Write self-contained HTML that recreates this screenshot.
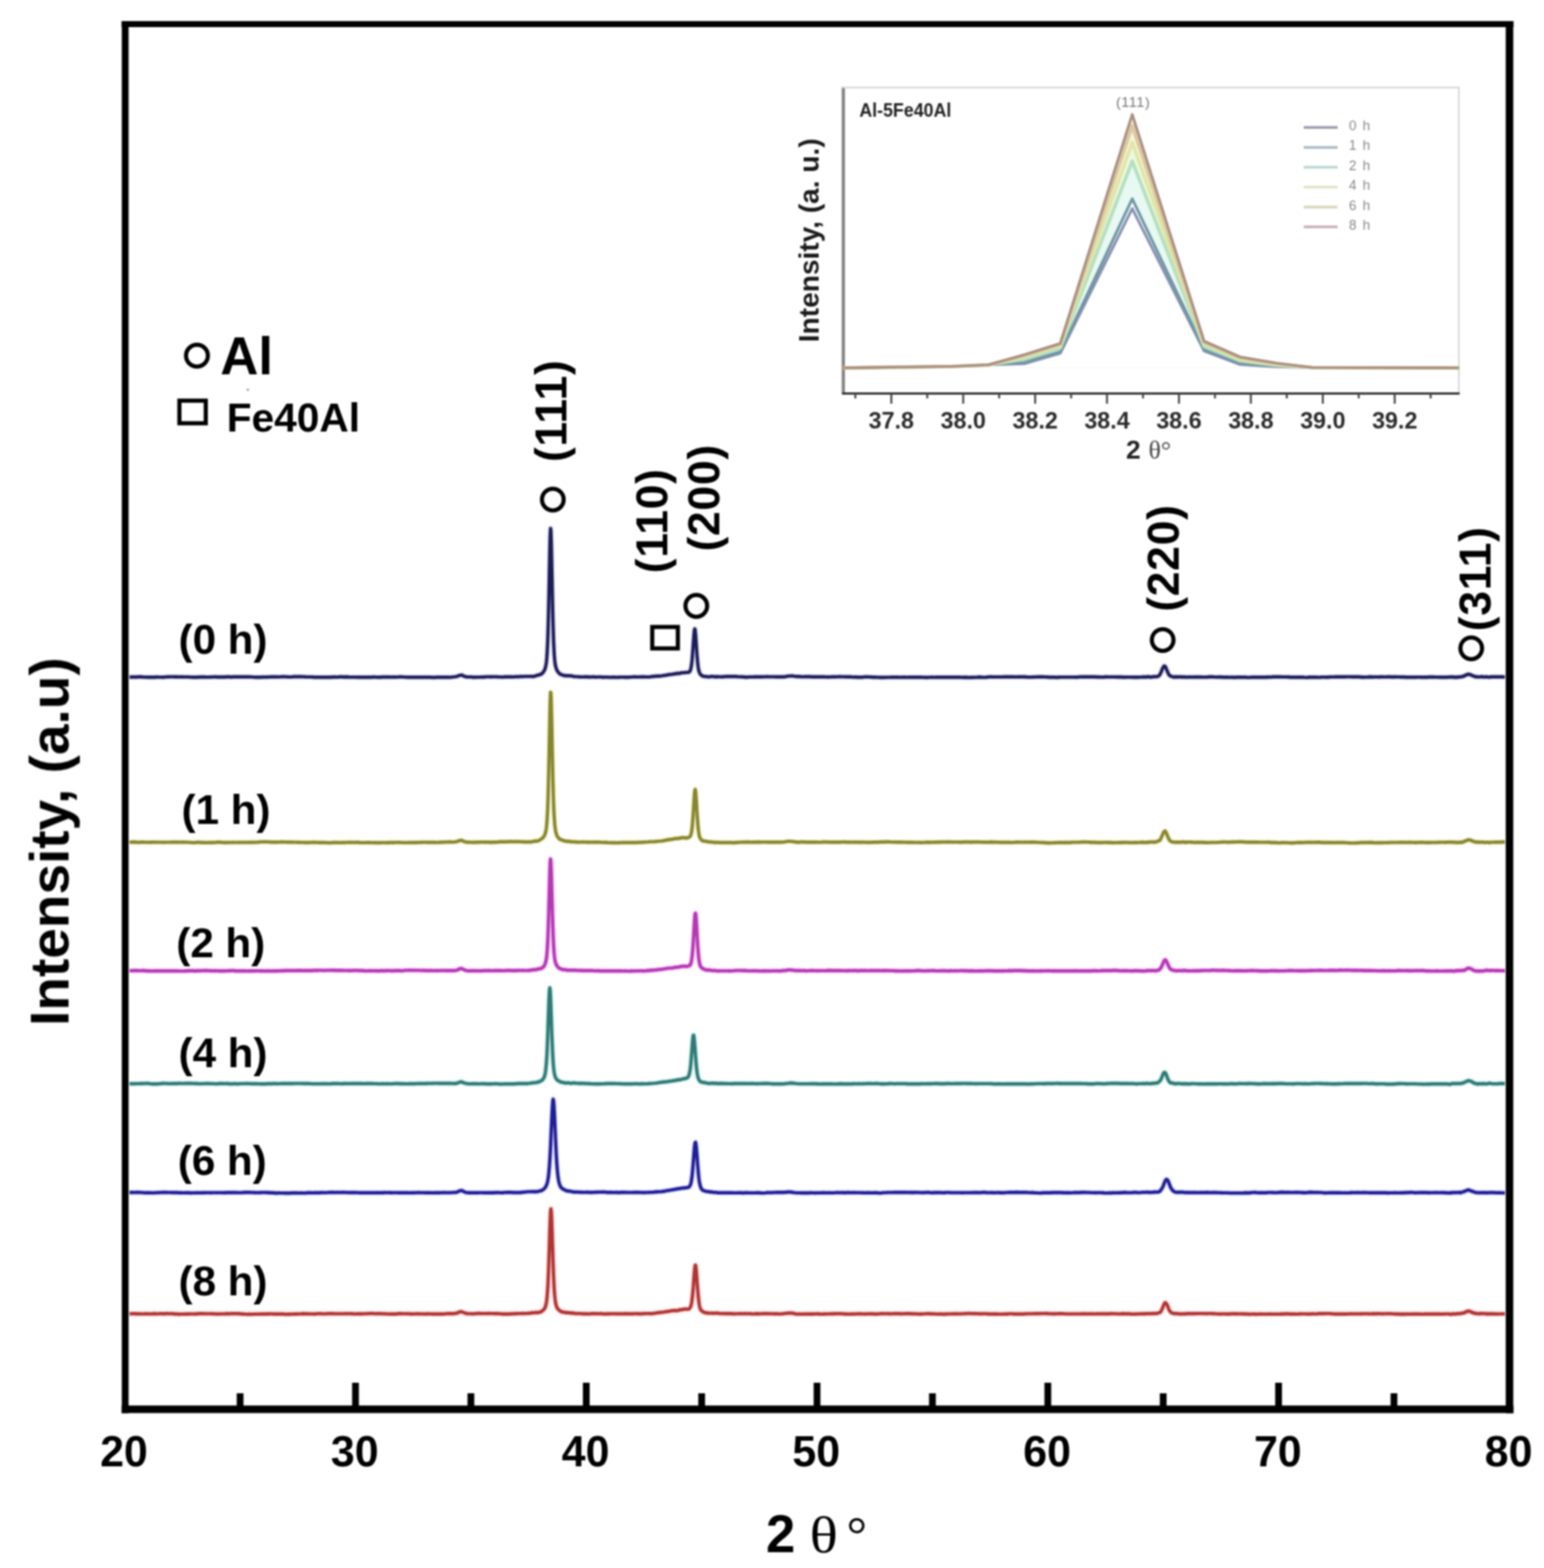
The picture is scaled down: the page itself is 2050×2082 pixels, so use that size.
<!DOCTYPE html><html><head><meta charset="utf-8"><title>XRD patterns</title><style>html,body{margin:0;padding:0;background:#fff;}body{width:2050px;height:2082px;overflow:hidden;}svg{display:block;}.b{font-family:"Liberation Sans",Arial,sans-serif;font-weight:bold;fill:#000;}.r{font-family:"Liberation Sans",Arial,sans-serif;}.s{font-family:"Liberation Serif","Times New Roman",serif;}</style></head><body>
<svg width="2050" height="2082" viewBox="0 0 2050 2082">
<defs><filter id="soft" x="0" y="0" width="2050" height="2082" filterUnits="userSpaceOnUse" color-interpolation-filters="sRGB"><feGaussianBlur stdDeviation="0.8"/></filter></defs>
<rect x="0" y="0" width="2050" height="2082" fill="#fff"/>
<g filter="url(#soft)">
<path d="M172.0 899.0 L175.0 899.0 L178.0 899.0 L181.0 899.0 L184.0 898.8 L187.0 898.8 L190.0 899.0 L193.0 899.1 L196.0 899.2 L199.0 899.2 L202.0 899.2 L205.0 899.2 L208.0 899.0 L211.0 899.1 L214.0 899.1 L217.0 899.2 L220.0 898.9 L223.0 898.7 L226.0 898.6 L229.0 898.6 L232.0 898.7 L235.0 898.8 L238.0 898.9 L241.0 898.8 L244.0 898.9 L247.0 898.9 L250.0 898.9 L253.0 899.1 L256.0 899.2 L259.0 899.3 L262.0 899.2 L265.0 899.0 L268.0 899.0 L271.0 899.0 L274.0 899.1 L277.0 899.1 L280.0 899.0 L283.0 898.9 L286.0 898.8 L289.0 899.0 L292.0 898.9 L295.0 899.0 L298.0 899.0 L301.0 898.8 L304.0 898.8 L307.0 899.0 L310.0 898.8 L313.0 898.8 L316.0 898.8 L319.0 898.7 L322.0 898.8 L325.0 898.8 L328.0 898.7 L331.0 898.8 L334.0 898.9 L337.0 899.1 L340.0 899.3 L343.0 899.3 L346.0 899.2 L349.0 899.0 L352.0 899.1 L355.0 899.0 L358.0 898.9 L361.0 898.8 L364.0 898.7 L367.0 898.7 L370.0 898.9 L373.0 898.6 L376.0 898.5 L379.0 898.6 L382.0 898.8 L385.0 898.9 L388.0 898.7 L391.0 898.4 L394.0 898.5 L397.0 898.5 L400.0 898.4 L403.0 898.6 L406.0 898.8 L409.0 898.9 L412.0 898.9 L415.0 899.0 L418.0 899.2 L421.0 899.3 L424.0 899.3 L427.0 899.3 L430.0 899.1 L433.0 899.2 L436.0 899.3 L439.0 899.3 L442.0 899.0 L445.0 898.9 L448.0 899.1 L451.0 898.8 L454.0 898.8 L457.0 899.0 L460.0 898.8 L463.0 899.0 L466.0 899.1 L469.0 899.1 L472.0 899.1 L475.0 899.2 L478.0 899.2 L481.0 899.3 L484.0 899.2 L487.0 899.1 L490.0 899.2 L493.0 899.2 L496.0 899.0 L499.0 899.1 L502.0 899.3 L505.0 899.2 L508.0 899.0 L511.0 899.0 L514.0 899.0 L517.0 898.9 L520.0 899.1 L523.0 899.0 L526.0 899.1 L529.0 898.9 L532.0 898.8 L535.0 898.9 L538.0 899.1 L541.0 899.2 L544.0 899.2 L547.0 899.2 L550.0 899.2 L553.0 899.2 L556.0 899.2 L559.0 899.2 L562.0 899.2 L565.0 899.2 L568.0 899.2 L571.0 899.3 L574.0 899.5 L577.0 899.5 L580.0 899.3 L583.0 899.2 L586.0 899.2 L589.0 899.3 L592.0 899.2 L595.0 899.2 L598.0 899.4 L601.0 898.9 L604.0 898.6 L607.0 898.1 L610.0 896.8 L613.0 896.3 L616.0 897.8 L619.0 898.7 L622.0 898.9 L625.0 898.9 L628.0 899.2 L631.0 899.2 L634.0 899.1 L637.0 899.1 L640.0 899.0 L643.0 899.0 L646.0 898.6 L649.0 898.6 L652.0 898.7 L655.0 898.6 L658.0 898.6 L661.0 898.8 L664.0 898.9 L667.0 899.1 L670.0 898.8 L673.0 898.7 L676.0 898.7 L679.0 898.7 L682.0 898.9 L685.0 898.4 L688.0 898.6 L691.0 898.3 L694.0 898.4 L697.0 898.1 L700.0 898.1 L703.0 898.1 L703.5 898.1 L704.0 898.1 L704.5 898.1 L705.0 898.1 L705.5 898.0 L706.0 898.2 L706.5 898.3 L707.0 898.1 L707.5 898.4 L708.0 898.1 L708.5 898.1 L709.0 897.9 L709.5 897.9 L710.0 897.8 L710.5 897.7 L711.0 897.7 L711.5 897.4 L712.0 897.0 L712.5 897.0 L713.0 896.8 L713.5 896.6 L714.0 896.3 L714.5 896.4 L715.0 896.4 L715.5 896.4 L716.0 896.1 L716.5 895.9 L717.0 895.5 L717.5 895.4 L718.0 895.4 L718.5 894.9 L719.0 894.8 L719.5 894.5 L720.0 894.0 L720.5 893.2 L721.0 892.9 L721.5 892.2 L722.0 891.4 L722.5 890.6 L723.0 889.6 L723.5 888.5 L724.0 886.8 L724.5 884.9 L725.0 882.4 L725.5 878.7 L726.0 873.4 L726.5 866.0 L727.0 856.1 L727.5 842.9 L728.0 825.9 L728.5 805.3 L729.0 781.2 L729.5 755.0 L730.0 730.2 L730.5 710.6 L731.0 701.6 L731.5 705.7 L732.0 721.4 L732.5 744.7 L733.0 770.6 L733.5 795.6 L734.0 817.9 L734.5 836.4 L735.0 851.2 L735.5 862.5 L736.0 870.9 L736.5 876.7 L737.0 881.0 L737.5 883.8 L738.0 885.9 L738.5 887.4 L739.0 888.9 L739.5 889.9 L740.0 890.8 L740.5 891.6 L741.0 892.3 L741.5 892.8 L742.0 893.4 L742.5 894.1 L743.0 894.5 L743.5 894.9 L744.0 895.3 L744.5 895.5 L745.0 895.6 L745.5 895.7 L746.0 896.1 L746.5 896.0 L747.0 896.2 L747.5 896.5 L748.0 896.7 L748.5 896.9 L749.0 897.1 L749.5 897.2 L750.0 897.1 L750.5 897.0 L751.0 897.0 L751.5 897.3 L752.0 897.3 L752.5 897.3 L753.0 897.3 L753.5 897.2 L754.0 897.3 L754.5 897.2 L755.0 897.4 L755.5 897.2 L756.0 897.4 L756.5 897.4 L757.0 897.3 L757.5 897.5 L758.0 897.6 L758.5 897.4 L759.0 897.4 L759.5 897.6 L760.0 897.6 L760.5 897.9 L761.0 898.0 L761.5 898.2 L764.5 898.4 L767.5 898.6 L770.5 898.8 L773.5 898.9 L776.5 898.6 L779.5 898.8 L782.5 899.0 L785.5 898.9 L788.5 898.8 L791.5 899.1 L794.5 898.9 L797.5 898.9 L800.5 899.2 L803.5 899.1 L806.5 899.1 L809.5 899.4 L812.5 899.3 L815.5 899.3 L818.5 899.4 L821.5 899.2 L824.5 899.1 L827.5 899.1 L830.5 899.2 L833.5 899.2 L836.5 899.1 L839.5 898.9 L842.5 898.8 L845.5 898.9 L848.5 898.9 L851.5 898.7 L854.5 898.6 L857.5 898.9 L860.5 898.9 L863.5 898.7 L866.5 898.2 L869.5 898.0 L872.5 897.8 L875.5 897.7 L878.5 897.4 L881.5 896.9 L884.5 896.5 L887.5 895.8 L890.5 895.5 L893.5 895.1 L894.0 894.9 L894.5 895.0 L895.0 895.1 L895.5 894.8 L896.0 894.6 L896.5 894.6 L897.0 894.5 L897.5 894.4 L898.0 894.2 L898.5 894.4 L899.0 894.5 L899.5 894.2 L900.0 893.9 L900.5 894.1 L901.0 894.2 L901.5 894.3 L902.0 894.3 L902.5 894.1 L903.0 894.0 L903.5 893.6 L904.0 893.4 L904.5 893.4 L905.0 893.4 L905.5 893.3 L906.0 893.2 L906.5 893.2 L907.0 893.2 L907.5 893.3 L908.0 893.2 L908.5 893.1 L909.0 893.1 L909.5 893.1 L910.0 892.9 L910.5 892.8 L911.0 892.9 L911.5 892.8 L912.0 892.9 L912.5 892.9 L913.0 892.9 L913.5 892.8 L914.0 892.5 L914.5 892.4 L915.0 892.3 L915.5 891.9 L916.0 891.2 L916.5 890.3 L917.0 888.7 L917.5 886.4 L918.0 883.6 L918.5 879.8 L919.0 875.2 L919.5 869.3 L920.0 862.4 L920.5 855.0 L921.0 848.0 L921.5 841.4 L922.0 836.7 L922.5 835.0 L923.0 836.9 L923.5 841.8 L924.0 848.6 L924.5 856.3 L925.0 863.9 L925.5 870.7 L926.0 876.7 L926.5 881.9 L927.0 885.8 L927.5 888.9 L928.0 890.9 L928.5 892.5 L929.0 893.8 L929.5 894.6 L930.0 895.4 L930.5 895.9 L931.0 896.4 L931.5 896.6 L932.0 897.2 L932.5 897.5 L933.0 897.5 L933.5 897.6 L934.0 898.0 L934.5 898.0 L935.0 898.2 L935.5 898.3 L936.0 898.3 L936.5 898.1 L937.0 898.2 L937.5 898.3 L938.0 898.4 L938.5 898.5 L939.0 898.5 L939.5 898.6 L940.0 898.7 L940.5 898.7 L941.0 898.7 L941.5 898.6 L942.0 898.7 L942.5 898.5 L943.0 898.5 L943.5 898.5 L944.0 898.3 L944.5 898.3 L945.0 898.1 L945.5 898.1 L946.0 898.2 L946.5 898.4 L947.0 898.4 L947.5 898.4 L948.0 898.3 L948.5 898.6 L949.0 898.7 L949.5 898.8 L950.0 898.7 L950.5 898.7 L951.0 898.4 L951.5 898.6 L952.0 898.8 L952.5 898.5 L955.5 898.6 L958.5 898.7 L961.5 898.5 L964.5 898.3 L967.5 898.3 L970.5 898.3 L973.5 898.2 L976.5 898.3 L979.5 898.5 L982.5 898.6 L985.5 898.8 L988.5 899.0 L991.5 899.2 L994.5 898.9 L997.5 898.9 L1000.5 898.8 L1003.5 898.6 L1006.5 898.7 L1009.5 898.7 L1012.5 898.8 L1015.5 898.6 L1018.5 898.5 L1021.5 898.6 L1024.5 898.6 L1027.5 898.6 L1030.5 898.7 L1033.5 898.6 L1036.5 898.8 L1039.5 898.7 L1042.5 898.5 L1045.5 897.9 L1048.5 897.6 L1051.5 897.4 L1054.5 897.9 L1057.5 898.3 L1060.5 898.3 L1063.5 898.5 L1066.5 898.6 L1069.5 898.5 L1072.5 898.5 L1075.5 898.5 L1078.5 898.7 L1081.5 898.8 L1084.5 898.8 L1087.5 898.7 L1090.5 898.7 L1093.5 898.8 L1096.5 898.9 L1099.5 899.0 L1102.5 898.9 L1105.5 898.7 L1108.5 898.7 L1111.5 898.6 L1114.5 898.5 L1117.5 898.6 L1120.5 898.6 L1123.5 898.7 L1126.5 898.8 L1129.5 898.8 L1132.5 899.1 L1135.5 899.0 L1138.5 899.2 L1141.5 899.2 L1144.5 899.3 L1147.5 898.9 L1150.5 898.8 L1153.5 898.9 L1156.5 899.0 L1159.5 899.3 L1162.5 899.3 L1165.5 899.4 L1168.5 899.5 L1171.5 899.5 L1174.5 899.5 L1177.5 899.4 L1180.5 899.4 L1183.5 899.2 L1186.5 899.3 L1189.5 899.1 L1192.5 899.2 L1195.5 899.4 L1198.5 899.3 L1201.5 899.3 L1204.5 899.4 L1207.5 899.3 L1210.5 899.2 L1213.5 899.2 L1216.5 899.2 L1219.5 899.3 L1222.5 899.1 L1225.5 899.4 L1228.5 899.5 L1231.5 899.5 L1234.5 899.4 L1237.5 899.3 L1240.5 899.4 L1243.5 899.3 L1246.5 899.3 L1249.5 899.2 L1252.5 899.1 L1255.5 899.2 L1258.5 899.3 L1261.5 899.3 L1264.5 899.1 L1267.5 899.2 L1270.5 899.2 L1273.5 899.2 L1276.5 899.4 L1279.5 899.5 L1282.5 899.3 L1285.5 899.6 L1288.5 899.5 L1291.5 899.5 L1294.5 899.4 L1297.5 899.3 L1300.5 899.0 L1303.5 899.3 L1306.5 899.4 L1309.5 899.2 L1312.5 898.9 L1315.5 898.7 L1318.5 898.9 L1321.5 898.9 L1324.5 898.9 L1327.5 898.9 L1330.5 898.9 L1333.5 898.7 L1336.5 898.8 L1339.5 898.6 L1342.5 898.7 L1345.5 898.8 L1348.5 898.9 L1351.5 898.8 L1354.5 898.7 L1357.5 898.8 L1360.5 898.8 L1363.5 899.0 L1366.5 899.1 L1369.5 899.1 L1372.5 899.0 L1375.5 898.9 L1378.5 898.8 L1381.5 898.8 L1384.5 898.8 L1387.5 898.9 L1390.5 899.0 L1393.5 899.3 L1396.5 899.2 L1399.5 899.1 L1402.5 899.5 L1405.5 899.2 L1408.5 899.1 L1411.5 899.1 L1414.5 899.1 L1417.5 899.1 L1420.5 899.1 L1423.5 899.1 L1426.5 899.1 L1429.5 899.2 L1432.5 898.9 L1435.5 898.8 L1438.5 898.8 L1441.5 898.7 L1444.5 898.6 L1447.5 898.8 L1450.5 898.7 L1453.5 898.8 L1456.5 899.0 L1459.5 899.0 L1462.5 899.1 L1465.5 899.0 L1468.5 898.8 L1471.5 898.9 L1474.5 898.9 L1477.5 898.9 L1480.5 898.9 L1483.5 899.0 L1486.5 898.9 L1489.5 899.0 L1492.5 899.2 L1495.5 899.1 L1498.5 899.1 L1501.5 899.1 L1504.5 899.2 L1507.5 899.2 L1510.5 899.3 L1513.5 899.1 L1516.5 899.1 L1517.0 899.1 L1517.5 898.8 L1518.0 899.0 L1518.5 899.1 L1519.0 898.8 L1519.5 899.0 L1520.0 898.9 L1520.5 899.0 L1521.0 899.0 L1521.5 898.8 L1522.0 898.8 L1522.5 899.0 L1523.0 898.9 L1523.5 898.7 L1524.0 898.6 L1524.5 898.4 L1525.0 898.5 L1525.5 898.8 L1526.0 898.9 L1526.5 898.9 L1527.0 899.2 L1527.5 899.0 L1528.0 898.9 L1528.5 898.9 L1529.0 899.0 L1529.5 898.8 L1530.0 898.6 L1530.5 898.7 L1531.0 898.7 L1531.5 898.5 L1532.0 898.5 L1532.5 898.4 L1533.0 898.5 L1533.5 898.4 L1534.0 898.4 L1534.5 898.3 L1535.0 898.4 L1535.5 898.6 L1536.0 898.4 L1536.5 898.4 L1537.0 898.1 L1537.5 897.8 L1538.0 897.7 L1538.5 897.5 L1539.0 897.0 L1539.5 896.4 L1540.0 895.7 L1540.5 894.7 L1541.0 893.8 L1541.5 892.7 L1542.0 891.7 L1542.5 890.4 L1543.0 888.9 L1543.5 887.8 L1544.0 886.7 L1544.5 885.7 L1545.0 885.0 L1545.5 884.5 L1546.0 884.3 L1546.5 884.6 L1547.0 884.9 L1547.5 885.6 L1548.0 886.7 L1548.5 888.0 L1549.0 889.2 L1549.5 890.5 L1550.0 891.6 L1550.5 892.8 L1551.0 894.0 L1551.5 894.8 L1552.0 895.9 L1552.5 896.4 L1553.0 896.9 L1553.5 897.3 L1554.0 897.8 L1554.5 897.8 L1555.0 897.8 L1555.5 898.0 L1556.0 898.3 L1556.5 898.5 L1557.0 898.9 L1557.5 898.9 L1558.0 898.9 L1558.5 899.0 L1559.0 899.0 L1559.5 899.2 L1560.0 899.0 L1560.5 898.9 L1561.0 898.4 L1561.5 898.6 L1562.0 898.6 L1562.5 898.8 L1563.0 899.1 L1563.5 899.0 L1564.0 899.0 L1564.5 898.9 L1565.0 898.8 L1565.5 898.7 L1566.0 898.8 L1566.5 898.8 L1567.0 898.8 L1567.5 898.8 L1568.0 899.0 L1568.5 899.0 L1569.0 899.0 L1569.5 899.1 L1570.0 899.0 L1570.5 898.8 L1571.0 899.1 L1571.5 899.1 L1572.0 898.9 L1572.5 899.1 L1573.0 899.1 L1573.5 898.9 L1574.0 899.1 L1574.5 899.1 L1575.0 899.2 L1575.5 899.2 L1576.0 899.1 L1579.0 898.9 L1582.0 899.1 L1585.0 899.0 L1588.0 899.0 L1591.0 899.0 L1594.0 899.0 L1597.0 899.1 L1600.0 899.1 L1603.0 899.0 L1606.0 898.7 L1609.0 898.7 L1612.0 898.9 L1615.0 899.1 L1618.0 899.0 L1621.0 899.0 L1624.0 899.2 L1627.0 899.1 L1630.0 899.2 L1633.0 899.4 L1636.0 899.3 L1639.0 899.5 L1642.0 899.3 L1645.0 899.3 L1648.0 899.2 L1651.0 899.2 L1654.0 899.3 L1657.0 899.6 L1660.0 899.4 L1663.0 899.3 L1666.0 899.3 L1669.0 899.1 L1672.0 899.2 L1675.0 899.2 L1678.0 899.1 L1681.0 899.2 L1684.0 899.0 L1687.0 899.1 L1690.0 898.8 L1693.0 898.8 L1696.0 898.7 L1699.0 898.7 L1702.0 898.9 L1705.0 898.9 L1708.0 898.9 L1711.0 899.0 L1714.0 899.2 L1717.0 899.2 L1720.0 899.2 L1723.0 899.3 L1726.0 899.3 L1729.0 899.1 L1732.0 899.4 L1735.0 899.6 L1738.0 899.3 L1741.0 899.2 L1744.0 899.3 L1747.0 899.3 L1750.0 899.4 L1753.0 899.3 L1756.0 899.1 L1759.0 899.1 L1762.0 899.2 L1765.0 899.0 L1768.0 898.9 L1771.0 898.9 L1774.0 898.7 L1777.0 898.7 L1780.0 898.7 L1783.0 898.8 L1786.0 898.7 L1789.0 898.6 L1792.0 898.6 L1795.0 898.7 L1798.0 898.6 L1801.0 898.7 L1804.0 898.8 L1807.0 899.0 L1810.0 899.3 L1813.0 899.1 L1816.0 899.0 L1819.0 898.7 L1822.0 899.0 L1825.0 898.9 L1828.0 898.9 L1831.0 899.0 L1834.0 898.8 L1837.0 898.9 L1840.0 898.9 L1843.0 898.7 L1846.0 898.8 L1849.0 899.0 L1852.0 898.7 L1855.0 898.9 L1858.0 898.9 L1861.0 899.0 L1864.0 899.0 L1867.0 899.2 L1870.0 899.2 L1873.0 899.2 L1876.0 899.2 L1879.0 899.2 L1882.0 899.1 L1885.0 899.1 L1888.0 899.3 L1891.0 899.3 L1894.0 899.2 L1897.0 899.0 L1900.0 898.9 L1903.0 899.0 L1906.0 899.1 L1909.0 899.1 L1912.0 899.2 L1915.0 899.1 L1918.0 899.3 L1921.0 899.2 L1921.5 899.1 L1922.0 899.2 L1922.5 899.2 L1923.0 899.1 L1923.5 899.0 L1924.0 899.0 L1924.5 899.0 L1925.0 899.1 L1925.5 898.9 L1926.0 899.0 L1926.5 899.0 L1927.0 898.8 L1927.5 899.0 L1928.0 898.9 L1928.5 898.9 L1929.0 899.0 L1929.5 899.2 L1930.0 899.0 L1930.5 899.1 L1931.0 898.9 L1931.5 899.3 L1932.0 899.1 L1932.5 899.3 L1933.0 899.1 L1933.5 899.2 L1934.0 899.5 L1934.5 899.0 L1935.0 899.0 L1935.5 899.0 L1936.0 899.0 L1936.5 898.9 L1937.0 899.1 L1937.5 899.1 L1938.0 898.8 L1938.5 898.9 L1939.0 898.6 L1939.5 898.7 L1940.0 898.6 L1940.5 898.6 L1941.0 898.6 L1941.5 898.5 L1942.0 898.2 L1942.5 897.8 L1943.0 897.9 L1943.5 897.8 L1944.0 897.5 L1944.5 897.4 L1945.0 897.2 L1945.5 897.0 L1946.0 896.4 L1946.5 896.2 L1947.0 896.0 L1947.5 895.9 L1948.0 895.8 L1948.5 895.3 L1949.0 895.2 L1949.5 895.2 L1950.0 895.5 L1950.5 895.4 L1951.0 895.4 L1951.5 895.5 L1952.0 895.8 L1952.5 895.9 L1953.0 896.3 L1953.5 896.4 L1954.0 896.7 L1954.5 896.9 L1955.0 897.1 L1955.5 897.3 L1956.0 897.3 L1956.5 897.7 L1957.0 897.9 L1957.5 898.0 L1958.0 898.2 L1958.5 898.5 L1959.0 898.4 L1959.5 898.5 L1960.0 898.7 L1960.5 898.8 L1961.0 898.8 L1961.5 898.5 L1962.0 898.8 L1962.5 898.9 L1963.0 898.9 L1963.5 898.9 L1964.0 898.9 L1964.5 898.9 L1965.0 898.7 L1965.5 898.7 L1966.0 898.6 L1966.5 898.6 L1967.0 898.5 L1967.5 898.7 L1968.0 898.5 L1968.5 898.7 L1969.0 898.6 L1969.5 898.7 L1970.0 898.9 L1970.5 899.0 L1971.0 898.9 L1971.5 898.9 L1972.0 898.9 L1972.5 898.7 L1973.0 898.6 L1973.5 898.7 L1974.0 898.7 L1974.5 898.7 L1975.0 898.9 L1975.5 899.0 L1976.0 899.1 L1976.5 899.2 L1977.0 899.1 L1977.5 899.1 L1978.0 899.0 L1978.5 899.0 L1979.0 899.0 L1979.5 898.7 L1980.0 898.7 L1983.0 898.8 L1986.0 898.7 L1989.0 898.7 L1992.0 898.8 L1995.0 898.8 L1998.0 899.1" fill="none" stroke="#e4e4f2" stroke-width="7.9" stroke-linejoin="round"/>
<path d="M172.0 899.0 L175.0 899.0 L178.0 899.0 L181.0 899.0 L184.0 898.8 L187.0 898.8 L190.0 899.0 L193.0 899.1 L196.0 899.2 L199.0 899.2 L202.0 899.2 L205.0 899.2 L208.0 899.0 L211.0 899.1 L214.0 899.1 L217.0 899.2 L220.0 898.9 L223.0 898.7 L226.0 898.6 L229.0 898.6 L232.0 898.7 L235.0 898.8 L238.0 898.9 L241.0 898.8 L244.0 898.9 L247.0 898.9 L250.0 898.9 L253.0 899.1 L256.0 899.2 L259.0 899.3 L262.0 899.2 L265.0 899.0 L268.0 899.0 L271.0 899.0 L274.0 899.1 L277.0 899.1 L280.0 899.0 L283.0 898.9 L286.0 898.8 L289.0 899.0 L292.0 898.9 L295.0 899.0 L298.0 899.0 L301.0 898.8 L304.0 898.8 L307.0 899.0 L310.0 898.8 L313.0 898.8 L316.0 898.8 L319.0 898.7 L322.0 898.8 L325.0 898.8 L328.0 898.7 L331.0 898.8 L334.0 898.9 L337.0 899.1 L340.0 899.3 L343.0 899.3 L346.0 899.2 L349.0 899.0 L352.0 899.1 L355.0 899.0 L358.0 898.9 L361.0 898.8 L364.0 898.7 L367.0 898.7 L370.0 898.9 L373.0 898.6 L376.0 898.5 L379.0 898.6 L382.0 898.8 L385.0 898.9 L388.0 898.7 L391.0 898.4 L394.0 898.5 L397.0 898.5 L400.0 898.4 L403.0 898.6 L406.0 898.8 L409.0 898.9 L412.0 898.9 L415.0 899.0 L418.0 899.2 L421.0 899.3 L424.0 899.3 L427.0 899.3 L430.0 899.1 L433.0 899.2 L436.0 899.3 L439.0 899.3 L442.0 899.0 L445.0 898.9 L448.0 899.1 L451.0 898.8 L454.0 898.8 L457.0 899.0 L460.0 898.8 L463.0 899.0 L466.0 899.1 L469.0 899.1 L472.0 899.1 L475.0 899.2 L478.0 899.2 L481.0 899.3 L484.0 899.2 L487.0 899.1 L490.0 899.2 L493.0 899.2 L496.0 899.0 L499.0 899.1 L502.0 899.3 L505.0 899.2 L508.0 899.0 L511.0 899.0 L514.0 899.0 L517.0 898.9 L520.0 899.1 L523.0 899.0 L526.0 899.1 L529.0 898.9 L532.0 898.8 L535.0 898.9 L538.0 899.1 L541.0 899.2 L544.0 899.2 L547.0 899.2 L550.0 899.2 L553.0 899.2 L556.0 899.2 L559.0 899.2 L562.0 899.2 L565.0 899.2 L568.0 899.2 L571.0 899.3 L574.0 899.5 L577.0 899.5 L580.0 899.3 L583.0 899.2 L586.0 899.2 L589.0 899.3 L592.0 899.2 L595.0 899.2 L598.0 899.4 L601.0 898.9 L604.0 898.6 L607.0 898.1 L610.0 896.8 L613.0 896.3 L616.0 897.8 L619.0 898.7 L622.0 898.9 L625.0 898.9 L628.0 899.2 L631.0 899.2 L634.0 899.1 L637.0 899.1 L640.0 899.0 L643.0 899.0 L646.0 898.6 L649.0 898.6 L652.0 898.7 L655.0 898.6 L658.0 898.6 L661.0 898.8 L664.0 898.9 L667.0 899.1 L670.0 898.8 L673.0 898.7 L676.0 898.7 L679.0 898.7 L682.0 898.9 L685.0 898.4 L688.0 898.6 L691.0 898.3 L694.0 898.4 L697.0 898.1 L700.0 898.1 L703.0 898.1 L703.5 898.1 L704.0 898.1 L704.5 898.1 L705.0 898.1 L705.5 898.0 L706.0 898.2 L706.5 898.3 L707.0 898.1 L707.5 898.4 L708.0 898.1 L708.5 898.1 L709.0 897.9 L709.5 897.9 L710.0 897.8 L710.5 897.7 L711.0 897.7 L711.5 897.4 L712.0 897.0 L712.5 897.0 L713.0 896.8 L713.5 896.6 L714.0 896.3 L714.5 896.4 L715.0 896.4 L715.5 896.4 L716.0 896.1 L716.5 895.9 L717.0 895.5 L717.5 895.4 L718.0 895.4 L718.5 894.9 L719.0 894.8 L719.5 894.5 L720.0 894.0 L720.5 893.2 L721.0 892.9 L721.5 892.2 L722.0 891.4 L722.5 890.6 L723.0 889.6 L723.5 888.5 L724.0 886.8 L724.5 884.9 L725.0 882.4 L725.5 878.7 L726.0 873.4 L726.5 866.0 L727.0 856.1 L727.5 842.9 L728.0 825.9 L728.5 805.3 L729.0 781.2 L729.5 755.0 L730.0 730.2 L730.5 710.6 L731.0 701.6 L731.5 705.7 L732.0 721.4 L732.5 744.7 L733.0 770.6 L733.5 795.6 L734.0 817.9 L734.5 836.4 L735.0 851.2 L735.5 862.5 L736.0 870.9 L736.5 876.7 L737.0 881.0 L737.5 883.8 L738.0 885.9 L738.5 887.4 L739.0 888.9 L739.5 889.9 L740.0 890.8 L740.5 891.6 L741.0 892.3 L741.5 892.8 L742.0 893.4 L742.5 894.1 L743.0 894.5 L743.5 894.9 L744.0 895.3 L744.5 895.5 L745.0 895.6 L745.5 895.7 L746.0 896.1 L746.5 896.0 L747.0 896.2 L747.5 896.5 L748.0 896.7 L748.5 896.9 L749.0 897.1 L749.5 897.2 L750.0 897.1 L750.5 897.0 L751.0 897.0 L751.5 897.3 L752.0 897.3 L752.5 897.3 L753.0 897.3 L753.5 897.2 L754.0 897.3 L754.5 897.2 L755.0 897.4 L755.5 897.2 L756.0 897.4 L756.5 897.4 L757.0 897.3 L757.5 897.5 L758.0 897.6 L758.5 897.4 L759.0 897.4 L759.5 897.6 L760.0 897.6 L760.5 897.9 L761.0 898.0 L761.5 898.2 L764.5 898.4 L767.5 898.6 L770.5 898.8 L773.5 898.9 L776.5 898.6 L779.5 898.8 L782.5 899.0 L785.5 898.9 L788.5 898.8 L791.5 899.1 L794.5 898.9 L797.5 898.9 L800.5 899.2 L803.5 899.1 L806.5 899.1 L809.5 899.4 L812.5 899.3 L815.5 899.3 L818.5 899.4 L821.5 899.2 L824.5 899.1 L827.5 899.1 L830.5 899.2 L833.5 899.2 L836.5 899.1 L839.5 898.9 L842.5 898.8 L845.5 898.9 L848.5 898.9 L851.5 898.7 L854.5 898.6 L857.5 898.9 L860.5 898.9 L863.5 898.7 L866.5 898.2 L869.5 898.0 L872.5 897.8 L875.5 897.7 L878.5 897.4 L881.5 896.9 L884.5 896.5 L887.5 895.8 L890.5 895.5 L893.5 895.1 L894.0 894.9 L894.5 895.0 L895.0 895.1 L895.5 894.8 L896.0 894.6 L896.5 894.6 L897.0 894.5 L897.5 894.4 L898.0 894.2 L898.5 894.4 L899.0 894.5 L899.5 894.2 L900.0 893.9 L900.5 894.1 L901.0 894.2 L901.5 894.3 L902.0 894.3 L902.5 894.1 L903.0 894.0 L903.5 893.6 L904.0 893.4 L904.5 893.4 L905.0 893.4 L905.5 893.3 L906.0 893.2 L906.5 893.2 L907.0 893.2 L907.5 893.3 L908.0 893.2 L908.5 893.1 L909.0 893.1 L909.5 893.1 L910.0 892.9 L910.5 892.8 L911.0 892.9 L911.5 892.8 L912.0 892.9 L912.5 892.9 L913.0 892.9 L913.5 892.8 L914.0 892.5 L914.5 892.4 L915.0 892.3 L915.5 891.9 L916.0 891.2 L916.5 890.3 L917.0 888.7 L917.5 886.4 L918.0 883.6 L918.5 879.8 L919.0 875.2 L919.5 869.3 L920.0 862.4 L920.5 855.0 L921.0 848.0 L921.5 841.4 L922.0 836.7 L922.5 835.0 L923.0 836.9 L923.5 841.8 L924.0 848.6 L924.5 856.3 L925.0 863.9 L925.5 870.7 L926.0 876.7 L926.5 881.9 L927.0 885.8 L927.5 888.9 L928.0 890.9 L928.5 892.5 L929.0 893.8 L929.5 894.6 L930.0 895.4 L930.5 895.9 L931.0 896.4 L931.5 896.6 L932.0 897.2 L932.5 897.5 L933.0 897.5 L933.5 897.6 L934.0 898.0 L934.5 898.0 L935.0 898.2 L935.5 898.3 L936.0 898.3 L936.5 898.1 L937.0 898.2 L937.5 898.3 L938.0 898.4 L938.5 898.5 L939.0 898.5 L939.5 898.6 L940.0 898.7 L940.5 898.7 L941.0 898.7 L941.5 898.6 L942.0 898.7 L942.5 898.5 L943.0 898.5 L943.5 898.5 L944.0 898.3 L944.5 898.3 L945.0 898.1 L945.5 898.1 L946.0 898.2 L946.5 898.4 L947.0 898.4 L947.5 898.4 L948.0 898.3 L948.5 898.6 L949.0 898.7 L949.5 898.8 L950.0 898.7 L950.5 898.7 L951.0 898.4 L951.5 898.6 L952.0 898.8 L952.5 898.5 L955.5 898.6 L958.5 898.7 L961.5 898.5 L964.5 898.3 L967.5 898.3 L970.5 898.3 L973.5 898.2 L976.5 898.3 L979.5 898.5 L982.5 898.6 L985.5 898.8 L988.5 899.0 L991.5 899.2 L994.5 898.9 L997.5 898.9 L1000.5 898.8 L1003.5 898.6 L1006.5 898.7 L1009.5 898.7 L1012.5 898.8 L1015.5 898.6 L1018.5 898.5 L1021.5 898.6 L1024.5 898.6 L1027.5 898.6 L1030.5 898.7 L1033.5 898.6 L1036.5 898.8 L1039.5 898.7 L1042.5 898.5 L1045.5 897.9 L1048.5 897.6 L1051.5 897.4 L1054.5 897.9 L1057.5 898.3 L1060.5 898.3 L1063.5 898.5 L1066.5 898.6 L1069.5 898.5 L1072.5 898.5 L1075.5 898.5 L1078.5 898.7 L1081.5 898.8 L1084.5 898.8 L1087.5 898.7 L1090.5 898.7 L1093.5 898.8 L1096.5 898.9 L1099.5 899.0 L1102.5 898.9 L1105.5 898.7 L1108.5 898.7 L1111.5 898.6 L1114.5 898.5 L1117.5 898.6 L1120.5 898.6 L1123.5 898.7 L1126.5 898.8 L1129.5 898.8 L1132.5 899.1 L1135.5 899.0 L1138.5 899.2 L1141.5 899.2 L1144.5 899.3 L1147.5 898.9 L1150.5 898.8 L1153.5 898.9 L1156.5 899.0 L1159.5 899.3 L1162.5 899.3 L1165.5 899.4 L1168.5 899.5 L1171.5 899.5 L1174.5 899.5 L1177.5 899.4 L1180.5 899.4 L1183.5 899.2 L1186.5 899.3 L1189.5 899.1 L1192.5 899.2 L1195.5 899.4 L1198.5 899.3 L1201.5 899.3 L1204.5 899.4 L1207.5 899.3 L1210.5 899.2 L1213.5 899.2 L1216.5 899.2 L1219.5 899.3 L1222.5 899.1 L1225.5 899.4 L1228.5 899.5 L1231.5 899.5 L1234.5 899.4 L1237.5 899.3 L1240.5 899.4 L1243.5 899.3 L1246.5 899.3 L1249.5 899.2 L1252.5 899.1 L1255.5 899.2 L1258.5 899.3 L1261.5 899.3 L1264.5 899.1 L1267.5 899.2 L1270.5 899.2 L1273.5 899.2 L1276.5 899.4 L1279.5 899.5 L1282.5 899.3 L1285.5 899.6 L1288.5 899.5 L1291.5 899.5 L1294.5 899.4 L1297.5 899.3 L1300.5 899.0 L1303.5 899.3 L1306.5 899.4 L1309.5 899.2 L1312.5 898.9 L1315.5 898.7 L1318.5 898.9 L1321.5 898.9 L1324.5 898.9 L1327.5 898.9 L1330.5 898.9 L1333.5 898.7 L1336.5 898.8 L1339.5 898.6 L1342.5 898.7 L1345.5 898.8 L1348.5 898.9 L1351.5 898.8 L1354.5 898.7 L1357.5 898.8 L1360.5 898.8 L1363.5 899.0 L1366.5 899.1 L1369.5 899.1 L1372.5 899.0 L1375.5 898.9 L1378.5 898.8 L1381.5 898.8 L1384.5 898.8 L1387.5 898.9 L1390.5 899.0 L1393.5 899.3 L1396.5 899.2 L1399.5 899.1 L1402.5 899.5 L1405.5 899.2 L1408.5 899.1 L1411.5 899.1 L1414.5 899.1 L1417.5 899.1 L1420.5 899.1 L1423.5 899.1 L1426.5 899.1 L1429.5 899.2 L1432.5 898.9 L1435.5 898.8 L1438.5 898.8 L1441.5 898.7 L1444.5 898.6 L1447.5 898.8 L1450.5 898.7 L1453.5 898.8 L1456.5 899.0 L1459.5 899.0 L1462.5 899.1 L1465.5 899.0 L1468.5 898.8 L1471.5 898.9 L1474.5 898.9 L1477.5 898.9 L1480.5 898.9 L1483.5 899.0 L1486.5 898.9 L1489.5 899.0 L1492.5 899.2 L1495.5 899.1 L1498.5 899.1 L1501.5 899.1 L1504.5 899.2 L1507.5 899.2 L1510.5 899.3 L1513.5 899.1 L1516.5 899.1 L1517.0 899.1 L1517.5 898.8 L1518.0 899.0 L1518.5 899.1 L1519.0 898.8 L1519.5 899.0 L1520.0 898.9 L1520.5 899.0 L1521.0 899.0 L1521.5 898.8 L1522.0 898.8 L1522.5 899.0 L1523.0 898.9 L1523.5 898.7 L1524.0 898.6 L1524.5 898.4 L1525.0 898.5 L1525.5 898.8 L1526.0 898.9 L1526.5 898.9 L1527.0 899.2 L1527.5 899.0 L1528.0 898.9 L1528.5 898.9 L1529.0 899.0 L1529.5 898.8 L1530.0 898.6 L1530.5 898.7 L1531.0 898.7 L1531.5 898.5 L1532.0 898.5 L1532.5 898.4 L1533.0 898.5 L1533.5 898.4 L1534.0 898.4 L1534.5 898.3 L1535.0 898.4 L1535.5 898.6 L1536.0 898.4 L1536.5 898.4 L1537.0 898.1 L1537.5 897.8 L1538.0 897.7 L1538.5 897.5 L1539.0 897.0 L1539.5 896.4 L1540.0 895.7 L1540.5 894.7 L1541.0 893.8 L1541.5 892.7 L1542.0 891.7 L1542.5 890.4 L1543.0 888.9 L1543.5 887.8 L1544.0 886.7 L1544.5 885.7 L1545.0 885.0 L1545.5 884.5 L1546.0 884.3 L1546.5 884.6 L1547.0 884.9 L1547.5 885.6 L1548.0 886.7 L1548.5 888.0 L1549.0 889.2 L1549.5 890.5 L1550.0 891.6 L1550.5 892.8 L1551.0 894.0 L1551.5 894.8 L1552.0 895.9 L1552.5 896.4 L1553.0 896.9 L1553.5 897.3 L1554.0 897.8 L1554.5 897.8 L1555.0 897.8 L1555.5 898.0 L1556.0 898.3 L1556.5 898.5 L1557.0 898.9 L1557.5 898.9 L1558.0 898.9 L1558.5 899.0 L1559.0 899.0 L1559.5 899.2 L1560.0 899.0 L1560.5 898.9 L1561.0 898.4 L1561.5 898.6 L1562.0 898.6 L1562.5 898.8 L1563.0 899.1 L1563.5 899.0 L1564.0 899.0 L1564.5 898.9 L1565.0 898.8 L1565.5 898.7 L1566.0 898.8 L1566.5 898.8 L1567.0 898.8 L1567.5 898.8 L1568.0 899.0 L1568.5 899.0 L1569.0 899.0 L1569.5 899.1 L1570.0 899.0 L1570.5 898.8 L1571.0 899.1 L1571.5 899.1 L1572.0 898.9 L1572.5 899.1 L1573.0 899.1 L1573.5 898.9 L1574.0 899.1 L1574.5 899.1 L1575.0 899.2 L1575.5 899.2 L1576.0 899.1 L1579.0 898.9 L1582.0 899.1 L1585.0 899.0 L1588.0 899.0 L1591.0 899.0 L1594.0 899.0 L1597.0 899.1 L1600.0 899.1 L1603.0 899.0 L1606.0 898.7 L1609.0 898.7 L1612.0 898.9 L1615.0 899.1 L1618.0 899.0 L1621.0 899.0 L1624.0 899.2 L1627.0 899.1 L1630.0 899.2 L1633.0 899.4 L1636.0 899.3 L1639.0 899.5 L1642.0 899.3 L1645.0 899.3 L1648.0 899.2 L1651.0 899.2 L1654.0 899.3 L1657.0 899.6 L1660.0 899.4 L1663.0 899.3 L1666.0 899.3 L1669.0 899.1 L1672.0 899.2 L1675.0 899.2 L1678.0 899.1 L1681.0 899.2 L1684.0 899.0 L1687.0 899.1 L1690.0 898.8 L1693.0 898.8 L1696.0 898.7 L1699.0 898.7 L1702.0 898.9 L1705.0 898.9 L1708.0 898.9 L1711.0 899.0 L1714.0 899.2 L1717.0 899.2 L1720.0 899.2 L1723.0 899.3 L1726.0 899.3 L1729.0 899.1 L1732.0 899.4 L1735.0 899.6 L1738.0 899.3 L1741.0 899.2 L1744.0 899.3 L1747.0 899.3 L1750.0 899.4 L1753.0 899.3 L1756.0 899.1 L1759.0 899.1 L1762.0 899.2 L1765.0 899.0 L1768.0 898.9 L1771.0 898.9 L1774.0 898.7 L1777.0 898.7 L1780.0 898.7 L1783.0 898.8 L1786.0 898.7 L1789.0 898.6 L1792.0 898.6 L1795.0 898.7 L1798.0 898.6 L1801.0 898.7 L1804.0 898.8 L1807.0 899.0 L1810.0 899.3 L1813.0 899.1 L1816.0 899.0 L1819.0 898.7 L1822.0 899.0 L1825.0 898.9 L1828.0 898.9 L1831.0 899.0 L1834.0 898.8 L1837.0 898.9 L1840.0 898.9 L1843.0 898.7 L1846.0 898.8 L1849.0 899.0 L1852.0 898.7 L1855.0 898.9 L1858.0 898.9 L1861.0 899.0 L1864.0 899.0 L1867.0 899.2 L1870.0 899.2 L1873.0 899.2 L1876.0 899.2 L1879.0 899.2 L1882.0 899.1 L1885.0 899.1 L1888.0 899.3 L1891.0 899.3 L1894.0 899.2 L1897.0 899.0 L1900.0 898.9 L1903.0 899.0 L1906.0 899.1 L1909.0 899.1 L1912.0 899.2 L1915.0 899.1 L1918.0 899.3 L1921.0 899.2 L1921.5 899.1 L1922.0 899.2 L1922.5 899.2 L1923.0 899.1 L1923.5 899.0 L1924.0 899.0 L1924.5 899.0 L1925.0 899.1 L1925.5 898.9 L1926.0 899.0 L1926.5 899.0 L1927.0 898.8 L1927.5 899.0 L1928.0 898.9 L1928.5 898.9 L1929.0 899.0 L1929.5 899.2 L1930.0 899.0 L1930.5 899.1 L1931.0 898.9 L1931.5 899.3 L1932.0 899.1 L1932.5 899.3 L1933.0 899.1 L1933.5 899.2 L1934.0 899.5 L1934.5 899.0 L1935.0 899.0 L1935.5 899.0 L1936.0 899.0 L1936.5 898.9 L1937.0 899.1 L1937.5 899.1 L1938.0 898.8 L1938.5 898.9 L1939.0 898.6 L1939.5 898.7 L1940.0 898.6 L1940.5 898.6 L1941.0 898.6 L1941.5 898.5 L1942.0 898.2 L1942.5 897.8 L1943.0 897.9 L1943.5 897.8 L1944.0 897.5 L1944.5 897.4 L1945.0 897.2 L1945.5 897.0 L1946.0 896.4 L1946.5 896.2 L1947.0 896.0 L1947.5 895.9 L1948.0 895.8 L1948.5 895.3 L1949.0 895.2 L1949.5 895.2 L1950.0 895.5 L1950.5 895.4 L1951.0 895.4 L1951.5 895.5 L1952.0 895.8 L1952.5 895.9 L1953.0 896.3 L1953.5 896.4 L1954.0 896.7 L1954.5 896.9 L1955.0 897.1 L1955.5 897.3 L1956.0 897.3 L1956.5 897.7 L1957.0 897.9 L1957.5 898.0 L1958.0 898.2 L1958.5 898.5 L1959.0 898.4 L1959.5 898.5 L1960.0 898.7 L1960.5 898.8 L1961.0 898.8 L1961.5 898.5 L1962.0 898.8 L1962.5 898.9 L1963.0 898.9 L1963.5 898.9 L1964.0 898.9 L1964.5 898.9 L1965.0 898.7 L1965.5 898.7 L1966.0 898.6 L1966.5 898.6 L1967.0 898.5 L1967.5 898.7 L1968.0 898.5 L1968.5 898.7 L1969.0 898.6 L1969.5 898.7 L1970.0 898.9 L1970.5 899.0 L1971.0 898.9 L1971.5 898.9 L1972.0 898.9 L1972.5 898.7 L1973.0 898.6 L1973.5 898.7 L1974.0 898.7 L1974.5 898.7 L1975.0 898.9 L1975.5 899.0 L1976.0 899.1 L1976.5 899.2 L1977.0 899.1 L1977.5 899.1 L1978.0 899.0 L1978.5 899.0 L1979.0 899.0 L1979.5 898.7 L1980.0 898.7 L1983.0 898.8 L1986.0 898.7 L1989.0 898.7 L1992.0 898.8 L1995.0 898.8 L1998.0 899.1" fill="none" stroke="#1c1c58" stroke-width="4.4" stroke-linejoin="round"/>
<path d="M172.0 1118.1 L175.0 1118.2 L178.0 1118.0 L181.0 1118.2 L184.0 1118.6 L187.0 1118.2 L190.0 1118.3 L193.0 1118.4 L196.0 1118.4 L199.0 1118.5 L202.0 1118.2 L205.0 1118.3 L208.0 1118.4 L211.0 1118.4 L214.0 1118.4 L217.0 1118.5 L220.0 1118.4 L223.0 1118.4 L226.0 1118.4 L229.0 1118.1 L232.0 1118.2 L235.0 1118.2 L238.0 1118.4 L241.0 1118.3 L244.0 1118.3 L247.0 1118.4 L250.0 1118.4 L253.0 1118.6 L256.0 1118.9 L259.0 1118.7 L262.0 1118.4 L265.0 1118.5 L268.0 1118.7 L271.0 1118.8 L274.0 1118.9 L277.0 1118.7 L280.0 1118.6 L283.0 1118.7 L286.0 1118.6 L289.0 1118.3 L292.0 1118.2 L295.0 1118.6 L298.0 1118.8 L301.0 1118.7 L304.0 1118.6 L307.0 1118.6 L310.0 1118.5 L313.0 1118.6 L316.0 1118.6 L319.0 1118.4 L322.0 1118.6 L325.0 1118.5 L328.0 1118.6 L331.0 1118.5 L334.0 1118.5 L337.0 1118.5 L340.0 1118.4 L343.0 1118.2 L346.0 1117.9 L349.0 1117.9 L352.0 1117.8 L355.0 1117.9 L358.0 1118.0 L361.0 1118.2 L364.0 1118.2 L367.0 1118.2 L370.0 1118.1 L373.0 1117.9 L376.0 1118.0 L379.0 1118.1 L382.0 1118.2 L385.0 1118.3 L388.0 1118.3 L391.0 1118.4 L394.0 1118.4 L397.0 1118.5 L400.0 1118.6 L403.0 1118.6 L406.0 1118.8 L409.0 1118.7 L412.0 1118.6 L415.0 1118.5 L418.0 1118.4 L421.0 1118.6 L424.0 1118.8 L427.0 1118.8 L430.0 1118.8 L433.0 1118.9 L436.0 1119.0 L439.0 1119.1 L442.0 1118.8 L445.0 1118.7 L448.0 1118.7 L451.0 1118.9 L454.0 1118.8 L457.0 1118.7 L460.0 1118.6 L463.0 1118.5 L466.0 1118.4 L469.0 1118.6 L472.0 1118.5 L475.0 1118.5 L478.0 1118.8 L481.0 1118.9 L484.0 1118.9 L487.0 1118.7 L490.0 1118.8 L493.0 1118.9 L496.0 1118.9 L499.0 1119.0 L502.0 1119.0 L505.0 1119.0 L508.0 1118.9 L511.0 1118.9 L514.0 1119.0 L517.0 1118.7 L520.0 1118.7 L523.0 1118.7 L526.0 1118.6 L529.0 1118.5 L532.0 1118.6 L535.0 1118.9 L538.0 1118.9 L541.0 1118.9 L544.0 1118.6 L547.0 1118.8 L550.0 1118.8 L553.0 1118.7 L556.0 1118.6 L559.0 1118.5 L562.0 1118.4 L565.0 1118.4 L568.0 1118.5 L571.0 1118.5 L574.0 1118.5 L577.0 1118.4 L580.0 1118.6 L583.0 1118.5 L586.0 1118.2 L589.0 1118.2 L592.0 1118.1 L595.0 1118.0 L598.0 1118.0 L601.0 1118.1 L604.0 1117.9 L607.0 1117.3 L610.0 1116.1 L613.0 1115.8 L616.0 1117.3 L619.0 1118.2 L622.0 1118.3 L625.0 1118.4 L628.0 1118.5 L631.0 1118.5 L634.0 1118.1 L637.0 1118.2 L640.0 1118.1 L643.0 1118.2 L646.0 1118.2 L649.0 1118.2 L652.0 1118.5 L655.0 1118.3 L658.0 1118.2 L661.0 1118.0 L664.0 1117.7 L667.0 1117.6 L670.0 1117.7 L673.0 1117.7 L676.0 1117.5 L679.0 1117.4 L682.0 1117.6 L685.0 1117.5 L688.0 1117.5 L691.0 1117.6 L694.0 1117.8 L697.0 1118.0 L700.0 1118.0 L703.0 1117.8 L703.5 1117.8 L704.0 1118.0 L704.5 1118.1 L705.0 1117.9 L705.5 1117.9 L706.0 1117.8 L706.5 1117.7 L707.0 1117.6 L707.5 1117.3 L708.0 1117.2 L708.5 1116.9 L709.0 1117.1 L709.5 1117.1 L710.0 1116.8 L710.5 1117.0 L711.0 1117.0 L711.5 1116.6 L712.0 1116.8 L712.5 1116.8 L713.0 1116.9 L713.5 1116.6 L714.0 1116.5 L714.5 1116.4 L715.0 1116.2 L715.5 1116.0 L716.0 1116.0 L716.5 1115.5 L717.0 1115.1 L717.5 1114.7 L718.0 1114.4 L718.5 1114.1 L719.0 1113.8 L719.5 1113.5 L720.0 1113.1 L720.5 1112.6 L721.0 1112.0 L721.5 1111.6 L722.0 1111.0 L722.5 1110.1 L723.0 1109.1 L723.5 1108.1 L724.0 1106.4 L724.5 1104.6 L725.0 1102.1 L725.5 1098.5 L726.0 1093.6 L726.5 1086.5 L727.0 1077.1 L727.5 1064.4 L728.0 1047.7 L728.5 1027.5 L729.0 1003.6 L729.5 977.8 L730.0 952.1 L730.5 930.9 L731.0 919.2 L731.5 920.5 L732.0 934.5 L732.5 956.9 L733.0 983.0 L733.5 1008.7 L734.0 1031.9 L734.5 1051.0 L735.0 1066.9 L735.5 1078.9 L736.0 1087.6 L736.5 1094.2 L737.0 1098.9 L737.5 1102.4 L738.0 1104.7 L738.5 1106.8 L739.0 1108.2 L739.5 1109.7 L740.0 1110.5 L740.5 1111.4 L741.0 1112.0 L741.5 1112.4 L742.0 1113.1 L742.5 1113.6 L743.0 1114.2 L743.5 1114.6 L744.0 1114.8 L744.5 1114.8 L745.0 1115.0 L745.5 1115.1 L746.0 1115.2 L746.5 1115.5 L747.0 1115.8 L747.5 1115.9 L748.0 1116.1 L748.5 1116.2 L749.0 1116.3 L749.5 1116.6 L750.0 1116.8 L750.5 1116.8 L751.0 1116.6 L751.5 1116.9 L752.0 1117.0 L752.5 1117.2 L753.0 1117.0 L753.5 1117.0 L754.0 1117.1 L754.5 1117.0 L755.0 1117.0 L755.5 1117.2 L756.0 1117.4 L756.5 1117.7 L757.0 1117.6 L757.5 1117.4 L758.0 1117.5 L758.5 1117.7 L759.0 1117.7 L759.5 1117.6 L760.0 1117.7 L760.5 1117.8 L761.0 1117.9 L761.5 1117.8 L764.5 1118.0 L767.5 1118.2 L770.5 1118.1 L773.5 1117.9 L776.5 1118.1 L779.5 1118.2 L782.5 1118.2 L785.5 1118.4 L788.5 1118.3 L791.5 1118.3 L794.5 1118.3 L797.5 1118.4 L800.5 1118.6 L803.5 1118.5 L806.5 1118.8 L809.5 1118.9 L812.5 1119.0 L815.5 1119.0 L818.5 1119.1 L821.5 1119.0 L824.5 1118.9 L827.5 1118.7 L830.5 1118.7 L833.5 1118.8 L836.5 1118.8 L839.5 1118.8 L842.5 1118.7 L845.5 1118.7 L848.5 1118.4 L851.5 1118.5 L854.5 1118.3 L857.5 1118.1 L860.5 1117.9 L863.5 1117.6 L866.5 1117.6 L869.5 1117.5 L872.5 1117.1 L875.5 1116.9 L878.5 1116.6 L881.5 1116.2 L884.5 1115.5 L887.5 1115.0 L890.5 1114.5 L893.5 1114.2 L894.0 1114.1 L894.5 1113.8 L895.0 1113.8 L895.5 1113.6 L896.0 1113.7 L896.5 1113.5 L897.0 1113.4 L897.5 1113.3 L898.0 1113.3 L898.5 1113.4 L899.0 1113.5 L899.5 1113.6 L900.0 1113.6 L900.5 1113.3 L901.0 1113.2 L901.5 1113.1 L902.0 1112.9 L902.5 1113.0 L903.0 1112.9 L903.5 1112.8 L904.0 1112.6 L904.5 1112.3 L905.0 1112.5 L905.5 1112.6 L906.0 1112.6 L906.5 1112.5 L907.0 1112.1 L907.5 1112.1 L908.0 1112.3 L908.5 1112.3 L909.0 1112.4 L909.5 1112.6 L910.0 1112.7 L910.5 1112.6 L911.0 1112.7 L911.5 1112.8 L912.0 1112.5 L912.5 1112.4 L913.0 1112.2 L913.5 1112.2 L914.0 1112.2 L914.5 1111.9 L915.0 1111.4 L915.5 1111.3 L916.0 1110.9 L916.5 1110.3 L917.0 1109.0 L917.5 1107.6 L918.0 1105.5 L918.5 1102.6 L919.0 1098.3 L919.5 1093.0 L920.0 1086.5 L920.5 1079.1 L921.0 1071.1 L921.5 1062.8 L922.0 1055.2 L922.5 1050.2 L923.0 1048.2 L923.5 1050.3 L924.0 1055.6 L924.5 1063.2 L925.0 1071.6 L925.5 1079.8 L926.0 1087.4 L926.5 1094.2 L927.0 1099.5 L927.5 1103.8 L928.0 1107.2 L928.5 1109.8 L929.0 1111.6 L929.5 1112.7 L930.0 1113.5 L930.5 1114.2 L931.0 1114.8 L931.5 1115.6 L932.0 1115.7 L932.5 1116.2 L933.0 1116.5 L933.5 1116.4 L934.0 1116.4 L934.5 1116.6 L935.0 1116.7 L935.5 1116.8 L936.0 1117.0 L936.5 1117.0 L937.0 1117.2 L937.5 1117.2 L938.0 1117.2 L938.5 1117.4 L939.0 1117.3 L939.5 1117.5 L940.0 1117.7 L940.5 1117.8 L941.0 1117.8 L941.5 1117.9 L942.0 1117.9 L942.5 1118.0 L943.0 1117.9 L943.5 1118.0 L944.0 1117.9 L944.5 1117.8 L945.0 1118.1 L945.5 1118.0 L946.0 1118.2 L946.5 1118.3 L947.0 1118.5 L947.5 1118.3 L948.0 1118.4 L948.5 1118.6 L949.0 1118.5 L949.5 1118.5 L950.0 1118.8 L950.5 1118.7 L951.0 1118.6 L951.5 1118.4 L952.0 1118.5 L952.5 1118.5 L953.0 1118.5 L956.0 1118.7 L959.0 1118.6 L962.0 1118.7 L965.0 1118.8 L968.0 1118.6 L971.0 1118.8 L974.0 1119.0 L977.0 1118.7 L980.0 1118.5 L983.0 1118.4 L986.0 1118.1 L989.0 1118.2 L992.0 1118.0 L995.0 1118.2 L998.0 1118.4 L1001.0 1118.2 L1004.0 1118.2 L1007.0 1118.0 L1010.0 1118.2 L1013.0 1118.1 L1016.0 1118.1 L1019.0 1118.2 L1022.0 1118.3 L1025.0 1118.3 L1028.0 1118.3 L1031.0 1118.3 L1034.0 1118.3 L1037.0 1118.2 L1040.0 1118.1 L1043.0 1117.6 L1046.0 1117.1 L1049.0 1117.1 L1052.0 1117.4 L1055.0 1117.8 L1058.0 1118.2 L1061.0 1118.2 L1064.0 1118.0 L1067.0 1118.0 L1070.0 1118.2 L1073.0 1118.3 L1076.0 1118.3 L1079.0 1118.2 L1082.0 1118.1 L1085.0 1118.3 L1088.0 1118.4 L1091.0 1118.3 L1094.0 1118.0 L1097.0 1117.9 L1100.0 1118.3 L1103.0 1118.2 L1106.0 1118.2 L1109.0 1118.3 L1112.0 1118.3 L1115.0 1118.3 L1118.0 1118.1 L1121.0 1118.0 L1124.0 1118.3 L1127.0 1118.3 L1130.0 1118.4 L1133.0 1118.2 L1136.0 1118.2 L1139.0 1118.3 L1142.0 1118.5 L1145.0 1118.3 L1148.0 1118.4 L1151.0 1118.5 L1154.0 1118.4 L1157.0 1118.5 L1160.0 1118.3 L1163.0 1118.3 L1166.0 1118.3 L1169.0 1118.0 L1172.0 1118.0 L1175.0 1118.0 L1178.0 1117.8 L1181.0 1117.9 L1184.0 1118.1 L1187.0 1118.1 L1190.0 1118.3 L1193.0 1118.2 L1196.0 1118.1 L1199.0 1118.3 L1202.0 1118.4 L1205.0 1118.5 L1208.0 1118.4 L1211.0 1118.5 L1214.0 1118.6 L1217.0 1118.6 L1220.0 1118.6 L1223.0 1118.8 L1226.0 1118.6 L1229.0 1118.5 L1232.0 1118.3 L1235.0 1118.5 L1238.0 1118.4 L1241.0 1118.3 L1244.0 1118.2 L1247.0 1118.2 L1250.0 1118.0 L1253.0 1118.1 L1256.0 1118.0 L1259.0 1118.0 L1262.0 1118.0 L1265.0 1118.1 L1268.0 1118.1 L1271.0 1118.1 L1274.0 1118.2 L1277.0 1118.3 L1280.0 1118.0 L1283.0 1118.0 L1286.0 1118.0 L1289.0 1118.2 L1292.0 1118.0 L1295.0 1118.0 L1298.0 1118.0 L1301.0 1118.1 L1304.0 1118.3 L1307.0 1118.2 L1310.0 1118.4 L1313.0 1118.2 L1316.0 1118.0 L1319.0 1118.2 L1322.0 1118.3 L1325.0 1118.4 L1328.0 1118.5 L1331.0 1118.5 L1334.0 1118.4 L1337.0 1118.5 L1340.0 1118.4 L1343.0 1118.6 L1346.0 1118.6 L1349.0 1118.3 L1352.0 1118.2 L1355.0 1118.4 L1358.0 1118.4 L1361.0 1118.3 L1364.0 1118.4 L1367.0 1118.3 L1370.0 1118.3 L1373.0 1118.3 L1376.0 1118.4 L1379.0 1118.6 L1382.0 1118.6 L1385.0 1118.8 L1388.0 1119.0 L1391.0 1119.2 L1394.0 1119.2 L1397.0 1119.1 L1400.0 1119.0 L1403.0 1118.9 L1406.0 1118.8 L1409.0 1118.7 L1412.0 1118.6 L1415.0 1118.8 L1418.0 1118.8 L1421.0 1118.7 L1424.0 1118.4 L1427.0 1118.4 L1430.0 1118.4 L1433.0 1118.3 L1436.0 1118.1 L1439.0 1117.9 L1442.0 1118.1 L1445.0 1118.1 L1448.0 1118.5 L1451.0 1118.5 L1454.0 1118.5 L1457.0 1118.7 L1460.0 1118.7 L1463.0 1118.7 L1466.0 1118.6 L1469.0 1118.5 L1472.0 1118.7 L1475.0 1118.8 L1478.0 1119.0 L1481.0 1118.9 L1484.0 1118.8 L1487.0 1118.6 L1490.0 1118.7 L1493.0 1118.5 L1496.0 1118.6 L1499.0 1118.7 L1502.0 1118.9 L1505.0 1118.7 L1508.0 1118.8 L1511.0 1118.6 L1514.0 1118.5 L1517.0 1118.3 L1517.5 1118.5 L1518.0 1118.7 L1518.5 1118.5 L1519.0 1118.4 L1519.5 1118.4 L1520.0 1118.7 L1520.5 1118.8 L1521.0 1118.7 L1521.5 1118.4 L1522.0 1118.3 L1522.5 1118.4 L1523.0 1118.7 L1523.5 1118.6 L1524.0 1118.5 L1524.5 1118.4 L1525.0 1118.1 L1525.5 1118.3 L1526.0 1118.1 L1526.5 1118.3 L1527.0 1118.1 L1527.5 1117.9 L1528.0 1118.0 L1528.5 1117.9 L1529.0 1118.1 L1529.5 1118.1 L1530.0 1117.9 L1530.5 1118.1 L1531.0 1118.2 L1531.5 1117.9 L1532.0 1118.2 L1532.5 1118.2 L1533.0 1118.3 L1533.5 1118.0 L1534.0 1117.9 L1534.5 1117.8 L1535.0 1117.9 L1535.5 1117.7 L1536.0 1117.5 L1536.5 1117.2 L1537.0 1117.1 L1537.5 1117.1 L1538.0 1116.7 L1538.5 1116.4 L1539.0 1116.2 L1539.5 1116.0 L1540.0 1115.6 L1540.5 1114.9 L1541.0 1113.9 L1541.5 1112.9 L1542.0 1111.8 L1542.5 1110.7 L1543.0 1109.5 L1543.5 1108.5 L1544.0 1107.3 L1544.5 1106.0 L1545.0 1105.2 L1545.5 1104.4 L1546.0 1103.9 L1546.5 1103.6 L1547.0 1103.5 L1547.5 1103.9 L1548.0 1104.9 L1548.5 1105.9 L1549.0 1106.9 L1549.5 1108.2 L1550.0 1109.6 L1550.5 1110.9 L1551.0 1112.2 L1551.5 1113.4 L1552.0 1114.2 L1552.5 1115.1 L1553.0 1115.6 L1553.5 1116.2 L1554.0 1116.7 L1554.5 1117.1 L1555.0 1117.5 L1555.5 1117.6 L1556.0 1117.9 L1556.5 1118.1 L1557.0 1118.2 L1557.5 1118.1 L1558.0 1118.1 L1558.5 1118.0 L1559.0 1118.0 L1559.5 1118.1 L1560.0 1118.5 L1560.5 1118.6 L1561.0 1118.6 L1561.5 1118.5 L1562.0 1118.3 L1562.5 1118.3 L1563.0 1118.3 L1563.5 1118.2 L1564.0 1118.4 L1564.5 1118.3 L1565.0 1118.5 L1565.5 1118.2 L1566.0 1118.2 L1566.5 1118.3 L1567.0 1118.3 L1567.5 1118.4 L1568.0 1118.4 L1568.5 1118.4 L1569.0 1118.2 L1569.5 1118.1 L1570.0 1117.8 L1570.5 1118.0 L1571.0 1118.1 L1571.5 1118.1 L1572.0 1118.1 L1572.5 1118.0 L1573.0 1118.3 L1573.5 1118.6 L1574.0 1118.6 L1574.5 1118.7 L1575.0 1118.5 L1575.5 1118.2 L1576.0 1118.2 L1576.5 1118.1 L1579.5 1118.1 L1582.5 1118.2 L1585.5 1118.6 L1588.5 1118.5 L1591.5 1118.5 L1594.5 1118.5 L1597.5 1118.5 L1600.5 1118.7 L1603.5 1118.9 L1606.5 1118.6 L1609.5 1118.6 L1612.5 1118.6 L1615.5 1118.6 L1618.5 1118.4 L1621.5 1118.2 L1624.5 1117.9 L1627.5 1118.1 L1630.5 1118.2 L1633.5 1118.2 L1636.5 1117.9 L1639.5 1118.0 L1642.5 1117.9 L1645.5 1117.8 L1648.5 1117.8 L1651.5 1118.0 L1654.5 1118.2 L1657.5 1118.2 L1660.5 1118.3 L1663.5 1118.3 L1666.5 1118.3 L1669.5 1118.3 L1672.5 1118.4 L1675.5 1118.4 L1678.5 1118.4 L1681.5 1118.4 L1684.5 1118.3 L1687.5 1118.7 L1690.5 1118.7 L1693.5 1118.7 L1696.5 1119.0 L1699.5 1119.1 L1702.5 1118.8 L1705.5 1118.9 L1708.5 1118.9 L1711.5 1119.1 L1714.5 1119.2 L1717.5 1119.2 L1720.5 1118.9 L1723.5 1118.7 L1726.5 1118.7 L1729.5 1118.8 L1732.5 1118.6 L1735.5 1118.5 L1738.5 1118.5 L1741.5 1118.5 L1744.5 1118.5 L1747.5 1118.5 L1750.5 1118.3 L1753.5 1118.5 L1756.5 1118.7 L1759.5 1118.7 L1762.5 1118.8 L1765.5 1118.8 L1768.5 1118.8 L1771.5 1118.9 L1774.5 1118.7 L1777.5 1118.8 L1780.5 1118.8 L1783.5 1118.7 L1786.5 1118.9 L1789.5 1119.1 L1792.5 1119.3 L1795.5 1119.4 L1798.5 1119.4 L1801.5 1119.2 L1804.5 1119.0 L1807.5 1118.8 L1810.5 1118.8 L1813.5 1118.8 L1816.5 1118.8 L1819.5 1118.5 L1822.5 1118.8 L1825.5 1119.1 L1828.5 1119.0 L1831.5 1119.0 L1834.5 1119.0 L1837.5 1118.9 L1840.5 1118.9 L1843.5 1118.8 L1846.5 1118.6 L1849.5 1118.6 L1852.5 1118.6 L1855.5 1118.6 L1858.5 1118.5 L1861.5 1118.5 L1864.5 1118.5 L1867.5 1118.6 L1870.5 1118.4 L1873.5 1118.5 L1876.5 1118.6 L1879.5 1118.7 L1882.5 1118.6 L1885.5 1118.5 L1888.5 1118.5 L1891.5 1118.6 L1894.5 1118.8 L1897.5 1118.7 L1900.5 1118.6 L1903.5 1118.6 L1906.5 1118.6 L1909.5 1118.5 L1912.5 1118.4 L1915.5 1118.4 L1918.5 1118.5 L1921.5 1118.3 L1922.0 1118.2 L1922.5 1118.3 L1923.0 1118.2 L1923.5 1118.2 L1924.0 1118.3 L1924.5 1118.3 L1925.0 1118.2 L1925.5 1118.2 L1926.0 1118.2 L1926.5 1118.3 L1927.0 1118.2 L1927.5 1118.4 L1928.0 1118.2 L1928.5 1118.2 L1929.0 1118.2 L1929.5 1118.4 L1930.0 1118.3 L1930.5 1118.4 L1931.0 1118.3 L1931.5 1118.5 L1932.0 1118.7 L1932.5 1118.6 L1933.0 1118.6 L1933.5 1118.5 L1934.0 1118.6 L1934.5 1118.7 L1935.0 1118.7 L1935.5 1118.5 L1936.0 1118.5 L1936.5 1118.6 L1937.0 1118.7 L1937.5 1118.8 L1938.0 1118.4 L1938.5 1118.3 L1939.0 1118.5 L1939.5 1118.2 L1940.0 1118.3 L1940.5 1118.5 L1941.0 1118.5 L1941.5 1118.5 L1942.0 1118.2 L1942.5 1117.9 L1943.0 1117.7 L1943.5 1117.5 L1944.0 1117.2 L1944.5 1117.1 L1945.0 1116.9 L1945.5 1116.6 L1946.0 1116.4 L1946.5 1116.2 L1947.0 1116.2 L1947.5 1116.0 L1948.0 1115.7 L1948.5 1115.5 L1949.0 1115.2 L1949.5 1115.3 L1950.0 1115.3 L1950.5 1115.1 L1951.0 1115.1 L1951.5 1115.2 L1952.0 1115.3 L1952.5 1115.7 L1953.0 1115.7 L1953.5 1116.0 L1954.0 1116.3 L1954.5 1116.4 L1955.0 1116.6 L1955.5 1116.9 L1956.0 1117.1 L1956.5 1117.3 L1957.0 1117.5 L1957.5 1117.4 L1958.0 1117.5 L1958.5 1117.7 L1959.0 1118.0 L1959.5 1118.1 L1960.0 1118.1 L1960.5 1118.3 L1961.0 1118.0 L1961.5 1118.0 L1962.0 1118.2 L1962.5 1118.3 L1963.0 1118.2 L1963.5 1118.0 L1964.0 1118.3 L1964.5 1118.3 L1965.0 1118.2 L1965.5 1118.3 L1966.0 1118.4 L1966.5 1118.1 L1967.0 1118.3 L1967.5 1118.4 L1968.0 1118.1 L1968.5 1118.3 L1969.0 1118.1 L1969.5 1118.3 L1970.0 1118.4 L1970.5 1118.7 L1971.0 1118.6 L1971.5 1118.6 L1972.0 1118.7 L1972.5 1118.6 L1973.0 1118.5 L1973.5 1118.4 L1974.0 1118.4 L1974.5 1118.3 L1975.0 1118.4 L1975.5 1118.5 L1976.0 1118.5 L1976.5 1118.7 L1977.0 1118.6 L1977.5 1118.8 L1978.0 1118.7 L1978.5 1118.7 L1979.0 1118.4 L1979.5 1118.5 L1980.0 1118.4 L1983.0 1118.4 L1986.0 1118.3 L1989.0 1118.3 L1992.0 1118.2 L1995.0 1118.0 L1998.0 1118.0" fill="none" stroke="#f6f4d8" stroke-width="7.9" stroke-linejoin="round"/>
<path d="M172.0 1118.1 L175.0 1118.2 L178.0 1118.0 L181.0 1118.2 L184.0 1118.6 L187.0 1118.2 L190.0 1118.3 L193.0 1118.4 L196.0 1118.4 L199.0 1118.5 L202.0 1118.2 L205.0 1118.3 L208.0 1118.4 L211.0 1118.4 L214.0 1118.4 L217.0 1118.5 L220.0 1118.4 L223.0 1118.4 L226.0 1118.4 L229.0 1118.1 L232.0 1118.2 L235.0 1118.2 L238.0 1118.4 L241.0 1118.3 L244.0 1118.3 L247.0 1118.4 L250.0 1118.4 L253.0 1118.6 L256.0 1118.9 L259.0 1118.7 L262.0 1118.4 L265.0 1118.5 L268.0 1118.7 L271.0 1118.8 L274.0 1118.9 L277.0 1118.7 L280.0 1118.6 L283.0 1118.7 L286.0 1118.6 L289.0 1118.3 L292.0 1118.2 L295.0 1118.6 L298.0 1118.8 L301.0 1118.7 L304.0 1118.6 L307.0 1118.6 L310.0 1118.5 L313.0 1118.6 L316.0 1118.6 L319.0 1118.4 L322.0 1118.6 L325.0 1118.5 L328.0 1118.6 L331.0 1118.5 L334.0 1118.5 L337.0 1118.5 L340.0 1118.4 L343.0 1118.2 L346.0 1117.9 L349.0 1117.9 L352.0 1117.8 L355.0 1117.9 L358.0 1118.0 L361.0 1118.2 L364.0 1118.2 L367.0 1118.2 L370.0 1118.1 L373.0 1117.9 L376.0 1118.0 L379.0 1118.1 L382.0 1118.2 L385.0 1118.3 L388.0 1118.3 L391.0 1118.4 L394.0 1118.4 L397.0 1118.5 L400.0 1118.6 L403.0 1118.6 L406.0 1118.8 L409.0 1118.7 L412.0 1118.6 L415.0 1118.5 L418.0 1118.4 L421.0 1118.6 L424.0 1118.8 L427.0 1118.8 L430.0 1118.8 L433.0 1118.9 L436.0 1119.0 L439.0 1119.1 L442.0 1118.8 L445.0 1118.7 L448.0 1118.7 L451.0 1118.9 L454.0 1118.8 L457.0 1118.7 L460.0 1118.6 L463.0 1118.5 L466.0 1118.4 L469.0 1118.6 L472.0 1118.5 L475.0 1118.5 L478.0 1118.8 L481.0 1118.9 L484.0 1118.9 L487.0 1118.7 L490.0 1118.8 L493.0 1118.9 L496.0 1118.9 L499.0 1119.0 L502.0 1119.0 L505.0 1119.0 L508.0 1118.9 L511.0 1118.9 L514.0 1119.0 L517.0 1118.7 L520.0 1118.7 L523.0 1118.7 L526.0 1118.6 L529.0 1118.5 L532.0 1118.6 L535.0 1118.9 L538.0 1118.9 L541.0 1118.9 L544.0 1118.6 L547.0 1118.8 L550.0 1118.8 L553.0 1118.7 L556.0 1118.6 L559.0 1118.5 L562.0 1118.4 L565.0 1118.4 L568.0 1118.5 L571.0 1118.5 L574.0 1118.5 L577.0 1118.4 L580.0 1118.6 L583.0 1118.5 L586.0 1118.2 L589.0 1118.2 L592.0 1118.1 L595.0 1118.0 L598.0 1118.0 L601.0 1118.1 L604.0 1117.9 L607.0 1117.3 L610.0 1116.1 L613.0 1115.8 L616.0 1117.3 L619.0 1118.2 L622.0 1118.3 L625.0 1118.4 L628.0 1118.5 L631.0 1118.5 L634.0 1118.1 L637.0 1118.2 L640.0 1118.1 L643.0 1118.2 L646.0 1118.2 L649.0 1118.2 L652.0 1118.5 L655.0 1118.3 L658.0 1118.2 L661.0 1118.0 L664.0 1117.7 L667.0 1117.6 L670.0 1117.7 L673.0 1117.7 L676.0 1117.5 L679.0 1117.4 L682.0 1117.6 L685.0 1117.5 L688.0 1117.5 L691.0 1117.6 L694.0 1117.8 L697.0 1118.0 L700.0 1118.0 L703.0 1117.8 L703.5 1117.8 L704.0 1118.0 L704.5 1118.1 L705.0 1117.9 L705.5 1117.9 L706.0 1117.8 L706.5 1117.7 L707.0 1117.6 L707.5 1117.3 L708.0 1117.2 L708.5 1116.9 L709.0 1117.1 L709.5 1117.1 L710.0 1116.8 L710.5 1117.0 L711.0 1117.0 L711.5 1116.6 L712.0 1116.8 L712.5 1116.8 L713.0 1116.9 L713.5 1116.6 L714.0 1116.5 L714.5 1116.4 L715.0 1116.2 L715.5 1116.0 L716.0 1116.0 L716.5 1115.5 L717.0 1115.1 L717.5 1114.7 L718.0 1114.4 L718.5 1114.1 L719.0 1113.8 L719.5 1113.5 L720.0 1113.1 L720.5 1112.6 L721.0 1112.0 L721.5 1111.6 L722.0 1111.0 L722.5 1110.1 L723.0 1109.1 L723.5 1108.1 L724.0 1106.4 L724.5 1104.6 L725.0 1102.1 L725.5 1098.5 L726.0 1093.6 L726.5 1086.5 L727.0 1077.1 L727.5 1064.4 L728.0 1047.7 L728.5 1027.5 L729.0 1003.6 L729.5 977.8 L730.0 952.1 L730.5 930.9 L731.0 919.2 L731.5 920.5 L732.0 934.5 L732.5 956.9 L733.0 983.0 L733.5 1008.7 L734.0 1031.9 L734.5 1051.0 L735.0 1066.9 L735.5 1078.9 L736.0 1087.6 L736.5 1094.2 L737.0 1098.9 L737.5 1102.4 L738.0 1104.7 L738.5 1106.8 L739.0 1108.2 L739.5 1109.7 L740.0 1110.5 L740.5 1111.4 L741.0 1112.0 L741.5 1112.4 L742.0 1113.1 L742.5 1113.6 L743.0 1114.2 L743.5 1114.6 L744.0 1114.8 L744.5 1114.8 L745.0 1115.0 L745.5 1115.1 L746.0 1115.2 L746.5 1115.5 L747.0 1115.8 L747.5 1115.9 L748.0 1116.1 L748.5 1116.2 L749.0 1116.3 L749.5 1116.6 L750.0 1116.8 L750.5 1116.8 L751.0 1116.6 L751.5 1116.9 L752.0 1117.0 L752.5 1117.2 L753.0 1117.0 L753.5 1117.0 L754.0 1117.1 L754.5 1117.0 L755.0 1117.0 L755.5 1117.2 L756.0 1117.4 L756.5 1117.7 L757.0 1117.6 L757.5 1117.4 L758.0 1117.5 L758.5 1117.7 L759.0 1117.7 L759.5 1117.6 L760.0 1117.7 L760.5 1117.8 L761.0 1117.9 L761.5 1117.8 L764.5 1118.0 L767.5 1118.2 L770.5 1118.1 L773.5 1117.9 L776.5 1118.1 L779.5 1118.2 L782.5 1118.2 L785.5 1118.4 L788.5 1118.3 L791.5 1118.3 L794.5 1118.3 L797.5 1118.4 L800.5 1118.6 L803.5 1118.5 L806.5 1118.8 L809.5 1118.9 L812.5 1119.0 L815.5 1119.0 L818.5 1119.1 L821.5 1119.0 L824.5 1118.9 L827.5 1118.7 L830.5 1118.7 L833.5 1118.8 L836.5 1118.8 L839.5 1118.8 L842.5 1118.7 L845.5 1118.7 L848.5 1118.4 L851.5 1118.5 L854.5 1118.3 L857.5 1118.1 L860.5 1117.9 L863.5 1117.6 L866.5 1117.6 L869.5 1117.5 L872.5 1117.1 L875.5 1116.9 L878.5 1116.6 L881.5 1116.2 L884.5 1115.5 L887.5 1115.0 L890.5 1114.5 L893.5 1114.2 L894.0 1114.1 L894.5 1113.8 L895.0 1113.8 L895.5 1113.6 L896.0 1113.7 L896.5 1113.5 L897.0 1113.4 L897.5 1113.3 L898.0 1113.3 L898.5 1113.4 L899.0 1113.5 L899.5 1113.6 L900.0 1113.6 L900.5 1113.3 L901.0 1113.2 L901.5 1113.1 L902.0 1112.9 L902.5 1113.0 L903.0 1112.9 L903.5 1112.8 L904.0 1112.6 L904.5 1112.3 L905.0 1112.5 L905.5 1112.6 L906.0 1112.6 L906.5 1112.5 L907.0 1112.1 L907.5 1112.1 L908.0 1112.3 L908.5 1112.3 L909.0 1112.4 L909.5 1112.6 L910.0 1112.7 L910.5 1112.6 L911.0 1112.7 L911.5 1112.8 L912.0 1112.5 L912.5 1112.4 L913.0 1112.2 L913.5 1112.2 L914.0 1112.2 L914.5 1111.9 L915.0 1111.4 L915.5 1111.3 L916.0 1110.9 L916.5 1110.3 L917.0 1109.0 L917.5 1107.6 L918.0 1105.5 L918.5 1102.6 L919.0 1098.3 L919.5 1093.0 L920.0 1086.5 L920.5 1079.1 L921.0 1071.1 L921.5 1062.8 L922.0 1055.2 L922.5 1050.2 L923.0 1048.2 L923.5 1050.3 L924.0 1055.6 L924.5 1063.2 L925.0 1071.6 L925.5 1079.8 L926.0 1087.4 L926.5 1094.2 L927.0 1099.5 L927.5 1103.8 L928.0 1107.2 L928.5 1109.8 L929.0 1111.6 L929.5 1112.7 L930.0 1113.5 L930.5 1114.2 L931.0 1114.8 L931.5 1115.6 L932.0 1115.7 L932.5 1116.2 L933.0 1116.5 L933.5 1116.4 L934.0 1116.4 L934.5 1116.6 L935.0 1116.7 L935.5 1116.8 L936.0 1117.0 L936.5 1117.0 L937.0 1117.2 L937.5 1117.2 L938.0 1117.2 L938.5 1117.4 L939.0 1117.3 L939.5 1117.5 L940.0 1117.7 L940.5 1117.8 L941.0 1117.8 L941.5 1117.9 L942.0 1117.9 L942.5 1118.0 L943.0 1117.9 L943.5 1118.0 L944.0 1117.9 L944.5 1117.8 L945.0 1118.1 L945.5 1118.0 L946.0 1118.2 L946.5 1118.3 L947.0 1118.5 L947.5 1118.3 L948.0 1118.4 L948.5 1118.6 L949.0 1118.5 L949.5 1118.5 L950.0 1118.8 L950.5 1118.7 L951.0 1118.6 L951.5 1118.4 L952.0 1118.5 L952.5 1118.5 L953.0 1118.5 L956.0 1118.7 L959.0 1118.6 L962.0 1118.7 L965.0 1118.8 L968.0 1118.6 L971.0 1118.8 L974.0 1119.0 L977.0 1118.7 L980.0 1118.5 L983.0 1118.4 L986.0 1118.1 L989.0 1118.2 L992.0 1118.0 L995.0 1118.2 L998.0 1118.4 L1001.0 1118.2 L1004.0 1118.2 L1007.0 1118.0 L1010.0 1118.2 L1013.0 1118.1 L1016.0 1118.1 L1019.0 1118.2 L1022.0 1118.3 L1025.0 1118.3 L1028.0 1118.3 L1031.0 1118.3 L1034.0 1118.3 L1037.0 1118.2 L1040.0 1118.1 L1043.0 1117.6 L1046.0 1117.1 L1049.0 1117.1 L1052.0 1117.4 L1055.0 1117.8 L1058.0 1118.2 L1061.0 1118.2 L1064.0 1118.0 L1067.0 1118.0 L1070.0 1118.2 L1073.0 1118.3 L1076.0 1118.3 L1079.0 1118.2 L1082.0 1118.1 L1085.0 1118.3 L1088.0 1118.4 L1091.0 1118.3 L1094.0 1118.0 L1097.0 1117.9 L1100.0 1118.3 L1103.0 1118.2 L1106.0 1118.2 L1109.0 1118.3 L1112.0 1118.3 L1115.0 1118.3 L1118.0 1118.1 L1121.0 1118.0 L1124.0 1118.3 L1127.0 1118.3 L1130.0 1118.4 L1133.0 1118.2 L1136.0 1118.2 L1139.0 1118.3 L1142.0 1118.5 L1145.0 1118.3 L1148.0 1118.4 L1151.0 1118.5 L1154.0 1118.4 L1157.0 1118.5 L1160.0 1118.3 L1163.0 1118.3 L1166.0 1118.3 L1169.0 1118.0 L1172.0 1118.0 L1175.0 1118.0 L1178.0 1117.8 L1181.0 1117.9 L1184.0 1118.1 L1187.0 1118.1 L1190.0 1118.3 L1193.0 1118.2 L1196.0 1118.1 L1199.0 1118.3 L1202.0 1118.4 L1205.0 1118.5 L1208.0 1118.4 L1211.0 1118.5 L1214.0 1118.6 L1217.0 1118.6 L1220.0 1118.6 L1223.0 1118.8 L1226.0 1118.6 L1229.0 1118.5 L1232.0 1118.3 L1235.0 1118.5 L1238.0 1118.4 L1241.0 1118.3 L1244.0 1118.2 L1247.0 1118.2 L1250.0 1118.0 L1253.0 1118.1 L1256.0 1118.0 L1259.0 1118.0 L1262.0 1118.0 L1265.0 1118.1 L1268.0 1118.1 L1271.0 1118.1 L1274.0 1118.2 L1277.0 1118.3 L1280.0 1118.0 L1283.0 1118.0 L1286.0 1118.0 L1289.0 1118.2 L1292.0 1118.0 L1295.0 1118.0 L1298.0 1118.0 L1301.0 1118.1 L1304.0 1118.3 L1307.0 1118.2 L1310.0 1118.4 L1313.0 1118.2 L1316.0 1118.0 L1319.0 1118.2 L1322.0 1118.3 L1325.0 1118.4 L1328.0 1118.5 L1331.0 1118.5 L1334.0 1118.4 L1337.0 1118.5 L1340.0 1118.4 L1343.0 1118.6 L1346.0 1118.6 L1349.0 1118.3 L1352.0 1118.2 L1355.0 1118.4 L1358.0 1118.4 L1361.0 1118.3 L1364.0 1118.4 L1367.0 1118.3 L1370.0 1118.3 L1373.0 1118.3 L1376.0 1118.4 L1379.0 1118.6 L1382.0 1118.6 L1385.0 1118.8 L1388.0 1119.0 L1391.0 1119.2 L1394.0 1119.2 L1397.0 1119.1 L1400.0 1119.0 L1403.0 1118.9 L1406.0 1118.8 L1409.0 1118.7 L1412.0 1118.6 L1415.0 1118.8 L1418.0 1118.8 L1421.0 1118.7 L1424.0 1118.4 L1427.0 1118.4 L1430.0 1118.4 L1433.0 1118.3 L1436.0 1118.1 L1439.0 1117.9 L1442.0 1118.1 L1445.0 1118.1 L1448.0 1118.5 L1451.0 1118.5 L1454.0 1118.5 L1457.0 1118.7 L1460.0 1118.7 L1463.0 1118.7 L1466.0 1118.6 L1469.0 1118.5 L1472.0 1118.7 L1475.0 1118.8 L1478.0 1119.0 L1481.0 1118.9 L1484.0 1118.8 L1487.0 1118.6 L1490.0 1118.7 L1493.0 1118.5 L1496.0 1118.6 L1499.0 1118.7 L1502.0 1118.9 L1505.0 1118.7 L1508.0 1118.8 L1511.0 1118.6 L1514.0 1118.5 L1517.0 1118.3 L1517.5 1118.5 L1518.0 1118.7 L1518.5 1118.5 L1519.0 1118.4 L1519.5 1118.4 L1520.0 1118.7 L1520.5 1118.8 L1521.0 1118.7 L1521.5 1118.4 L1522.0 1118.3 L1522.5 1118.4 L1523.0 1118.7 L1523.5 1118.6 L1524.0 1118.5 L1524.5 1118.4 L1525.0 1118.1 L1525.5 1118.3 L1526.0 1118.1 L1526.5 1118.3 L1527.0 1118.1 L1527.5 1117.9 L1528.0 1118.0 L1528.5 1117.9 L1529.0 1118.1 L1529.5 1118.1 L1530.0 1117.9 L1530.5 1118.1 L1531.0 1118.2 L1531.5 1117.9 L1532.0 1118.2 L1532.5 1118.2 L1533.0 1118.3 L1533.5 1118.0 L1534.0 1117.9 L1534.5 1117.8 L1535.0 1117.9 L1535.5 1117.7 L1536.0 1117.5 L1536.5 1117.2 L1537.0 1117.1 L1537.5 1117.1 L1538.0 1116.7 L1538.5 1116.4 L1539.0 1116.2 L1539.5 1116.0 L1540.0 1115.6 L1540.5 1114.9 L1541.0 1113.9 L1541.5 1112.9 L1542.0 1111.8 L1542.5 1110.7 L1543.0 1109.5 L1543.5 1108.5 L1544.0 1107.3 L1544.5 1106.0 L1545.0 1105.2 L1545.5 1104.4 L1546.0 1103.9 L1546.5 1103.6 L1547.0 1103.5 L1547.5 1103.9 L1548.0 1104.9 L1548.5 1105.9 L1549.0 1106.9 L1549.5 1108.2 L1550.0 1109.6 L1550.5 1110.9 L1551.0 1112.2 L1551.5 1113.4 L1552.0 1114.2 L1552.5 1115.1 L1553.0 1115.6 L1553.5 1116.2 L1554.0 1116.7 L1554.5 1117.1 L1555.0 1117.5 L1555.5 1117.6 L1556.0 1117.9 L1556.5 1118.1 L1557.0 1118.2 L1557.5 1118.1 L1558.0 1118.1 L1558.5 1118.0 L1559.0 1118.0 L1559.5 1118.1 L1560.0 1118.5 L1560.5 1118.6 L1561.0 1118.6 L1561.5 1118.5 L1562.0 1118.3 L1562.5 1118.3 L1563.0 1118.3 L1563.5 1118.2 L1564.0 1118.4 L1564.5 1118.3 L1565.0 1118.5 L1565.5 1118.2 L1566.0 1118.2 L1566.5 1118.3 L1567.0 1118.3 L1567.5 1118.4 L1568.0 1118.4 L1568.5 1118.4 L1569.0 1118.2 L1569.5 1118.1 L1570.0 1117.8 L1570.5 1118.0 L1571.0 1118.1 L1571.5 1118.1 L1572.0 1118.1 L1572.5 1118.0 L1573.0 1118.3 L1573.5 1118.6 L1574.0 1118.6 L1574.5 1118.7 L1575.0 1118.5 L1575.5 1118.2 L1576.0 1118.2 L1576.5 1118.1 L1579.5 1118.1 L1582.5 1118.2 L1585.5 1118.6 L1588.5 1118.5 L1591.5 1118.5 L1594.5 1118.5 L1597.5 1118.5 L1600.5 1118.7 L1603.5 1118.9 L1606.5 1118.6 L1609.5 1118.6 L1612.5 1118.6 L1615.5 1118.6 L1618.5 1118.4 L1621.5 1118.2 L1624.5 1117.9 L1627.5 1118.1 L1630.5 1118.2 L1633.5 1118.2 L1636.5 1117.9 L1639.5 1118.0 L1642.5 1117.9 L1645.5 1117.8 L1648.5 1117.8 L1651.5 1118.0 L1654.5 1118.2 L1657.5 1118.2 L1660.5 1118.3 L1663.5 1118.3 L1666.5 1118.3 L1669.5 1118.3 L1672.5 1118.4 L1675.5 1118.4 L1678.5 1118.4 L1681.5 1118.4 L1684.5 1118.3 L1687.5 1118.7 L1690.5 1118.7 L1693.5 1118.7 L1696.5 1119.0 L1699.5 1119.1 L1702.5 1118.8 L1705.5 1118.9 L1708.5 1118.9 L1711.5 1119.1 L1714.5 1119.2 L1717.5 1119.2 L1720.5 1118.9 L1723.5 1118.7 L1726.5 1118.7 L1729.5 1118.8 L1732.5 1118.6 L1735.5 1118.5 L1738.5 1118.5 L1741.5 1118.5 L1744.5 1118.5 L1747.5 1118.5 L1750.5 1118.3 L1753.5 1118.5 L1756.5 1118.7 L1759.5 1118.7 L1762.5 1118.8 L1765.5 1118.8 L1768.5 1118.8 L1771.5 1118.9 L1774.5 1118.7 L1777.5 1118.8 L1780.5 1118.8 L1783.5 1118.7 L1786.5 1118.9 L1789.5 1119.1 L1792.5 1119.3 L1795.5 1119.4 L1798.5 1119.4 L1801.5 1119.2 L1804.5 1119.0 L1807.5 1118.8 L1810.5 1118.8 L1813.5 1118.8 L1816.5 1118.8 L1819.5 1118.5 L1822.5 1118.8 L1825.5 1119.1 L1828.5 1119.0 L1831.5 1119.0 L1834.5 1119.0 L1837.5 1118.9 L1840.5 1118.9 L1843.5 1118.8 L1846.5 1118.6 L1849.5 1118.6 L1852.5 1118.6 L1855.5 1118.6 L1858.5 1118.5 L1861.5 1118.5 L1864.5 1118.5 L1867.5 1118.6 L1870.5 1118.4 L1873.5 1118.5 L1876.5 1118.6 L1879.5 1118.7 L1882.5 1118.6 L1885.5 1118.5 L1888.5 1118.5 L1891.5 1118.6 L1894.5 1118.8 L1897.5 1118.7 L1900.5 1118.6 L1903.5 1118.6 L1906.5 1118.6 L1909.5 1118.5 L1912.5 1118.4 L1915.5 1118.4 L1918.5 1118.5 L1921.5 1118.3 L1922.0 1118.2 L1922.5 1118.3 L1923.0 1118.2 L1923.5 1118.2 L1924.0 1118.3 L1924.5 1118.3 L1925.0 1118.2 L1925.5 1118.2 L1926.0 1118.2 L1926.5 1118.3 L1927.0 1118.2 L1927.5 1118.4 L1928.0 1118.2 L1928.5 1118.2 L1929.0 1118.2 L1929.5 1118.4 L1930.0 1118.3 L1930.5 1118.4 L1931.0 1118.3 L1931.5 1118.5 L1932.0 1118.7 L1932.5 1118.6 L1933.0 1118.6 L1933.5 1118.5 L1934.0 1118.6 L1934.5 1118.7 L1935.0 1118.7 L1935.5 1118.5 L1936.0 1118.5 L1936.5 1118.6 L1937.0 1118.7 L1937.5 1118.8 L1938.0 1118.4 L1938.5 1118.3 L1939.0 1118.5 L1939.5 1118.2 L1940.0 1118.3 L1940.5 1118.5 L1941.0 1118.5 L1941.5 1118.5 L1942.0 1118.2 L1942.5 1117.9 L1943.0 1117.7 L1943.5 1117.5 L1944.0 1117.2 L1944.5 1117.1 L1945.0 1116.9 L1945.5 1116.6 L1946.0 1116.4 L1946.5 1116.2 L1947.0 1116.2 L1947.5 1116.0 L1948.0 1115.7 L1948.5 1115.5 L1949.0 1115.2 L1949.5 1115.3 L1950.0 1115.3 L1950.5 1115.1 L1951.0 1115.1 L1951.5 1115.2 L1952.0 1115.3 L1952.5 1115.7 L1953.0 1115.7 L1953.5 1116.0 L1954.0 1116.3 L1954.5 1116.4 L1955.0 1116.6 L1955.5 1116.9 L1956.0 1117.1 L1956.5 1117.3 L1957.0 1117.5 L1957.5 1117.4 L1958.0 1117.5 L1958.5 1117.7 L1959.0 1118.0 L1959.5 1118.1 L1960.0 1118.1 L1960.5 1118.3 L1961.0 1118.0 L1961.5 1118.0 L1962.0 1118.2 L1962.5 1118.3 L1963.0 1118.2 L1963.5 1118.0 L1964.0 1118.3 L1964.5 1118.3 L1965.0 1118.2 L1965.5 1118.3 L1966.0 1118.4 L1966.5 1118.1 L1967.0 1118.3 L1967.5 1118.4 L1968.0 1118.1 L1968.5 1118.3 L1969.0 1118.1 L1969.5 1118.3 L1970.0 1118.4 L1970.5 1118.7 L1971.0 1118.6 L1971.5 1118.6 L1972.0 1118.7 L1972.5 1118.6 L1973.0 1118.5 L1973.5 1118.4 L1974.0 1118.4 L1974.5 1118.3 L1975.0 1118.4 L1975.5 1118.5 L1976.0 1118.5 L1976.5 1118.7 L1977.0 1118.6 L1977.5 1118.8 L1978.0 1118.7 L1978.5 1118.7 L1979.0 1118.4 L1979.5 1118.5 L1980.0 1118.4 L1983.0 1118.4 L1986.0 1118.3 L1989.0 1118.3 L1992.0 1118.2 L1995.0 1118.0 L1998.0 1118.0" fill="none" stroke="#86862e" stroke-width="4.4" stroke-linejoin="round"/>
<path d="M172.0 1288.9 L175.0 1288.9 L178.0 1288.7 L181.0 1288.8 L184.0 1288.9 L187.0 1288.9 L190.0 1288.8 L193.0 1289.0 L196.0 1289.2 L199.0 1289.3 L202.0 1289.4 L205.0 1289.3 L208.0 1289.2 L211.0 1289.3 L214.0 1289.2 L217.0 1289.2 L220.0 1289.2 L223.0 1289.2 L226.0 1289.1 L229.0 1289.3 L232.0 1289.2 L235.0 1289.3 L238.0 1289.4 L241.0 1289.4 L244.0 1289.4 L247.0 1289.2 L250.0 1289.0 L253.0 1288.9 L256.0 1289.0 L259.0 1289.2 L262.0 1289.0 L265.0 1289.0 L268.0 1288.9 L271.0 1288.8 L274.0 1288.8 L277.0 1288.9 L280.0 1289.0 L283.0 1289.1 L286.0 1289.0 L289.0 1289.1 L292.0 1289.2 L295.0 1289.2 L298.0 1289.2 L301.0 1289.1 L304.0 1289.0 L307.0 1288.9 L310.0 1288.8 L313.0 1289.2 L316.0 1289.1 L319.0 1289.3 L322.0 1289.3 L325.0 1289.3 L328.0 1289.4 L331.0 1289.2 L334.0 1289.3 L337.0 1289.3 L340.0 1289.1 L343.0 1289.1 L346.0 1289.2 L349.0 1289.2 L352.0 1289.4 L355.0 1289.3 L358.0 1289.3 L361.0 1289.4 L364.0 1289.2 L367.0 1289.3 L370.0 1289.1 L373.0 1288.9 L376.0 1289.0 L379.0 1288.8 L382.0 1288.8 L385.0 1288.6 L388.0 1288.7 L391.0 1288.6 L394.0 1288.7 L397.0 1288.5 L400.0 1288.7 L403.0 1288.7 L406.0 1288.7 L409.0 1288.8 L412.0 1288.8 L415.0 1288.7 L418.0 1288.4 L421.0 1288.5 L424.0 1288.4 L427.0 1288.4 L430.0 1288.6 L433.0 1288.4 L436.0 1288.4 L439.0 1288.4 L442.0 1288.3 L445.0 1288.5 L448.0 1288.5 L451.0 1288.5 L454.0 1288.4 L457.0 1288.6 L460.0 1288.6 L463.0 1288.7 L466.0 1288.8 L469.0 1288.6 L472.0 1288.5 L475.0 1288.6 L478.0 1288.7 L481.0 1288.8 L484.0 1289.0 L487.0 1289.1 L490.0 1289.0 L493.0 1289.0 L496.0 1289.1 L499.0 1289.0 L502.0 1289.2 L505.0 1288.9 L508.0 1289.0 L511.0 1289.0 L514.0 1288.7 L517.0 1288.9 L520.0 1289.0 L523.0 1289.0 L526.0 1288.8 L529.0 1288.8 L532.0 1289.0 L535.0 1288.9 L538.0 1288.4 L541.0 1288.4 L544.0 1288.3 L547.0 1288.4 L550.0 1288.4 L553.0 1288.4 L556.0 1288.4 L559.0 1288.6 L562.0 1288.5 L565.0 1288.8 L568.0 1288.8 L571.0 1288.6 L574.0 1288.8 L577.0 1288.9 L580.0 1288.8 L583.0 1288.9 L586.0 1288.6 L589.0 1288.6 L592.0 1288.8 L595.0 1288.7 L598.0 1288.6 L601.0 1288.7 L604.0 1288.7 L607.0 1288.2 L610.0 1286.5 L613.0 1286.0 L616.0 1287.6 L619.0 1288.6 L622.0 1289.1 L625.0 1289.0 L628.0 1289.0 L631.0 1289.0 L634.0 1289.1 L637.0 1289.0 L640.0 1289.1 L643.0 1288.7 L646.0 1288.9 L649.0 1288.8 L652.0 1288.9 L655.0 1288.9 L658.0 1288.8 L661.0 1288.8 L664.0 1288.8 L667.0 1288.9 L670.0 1288.8 L673.0 1288.6 L676.0 1288.4 L679.0 1288.8 L682.0 1288.7 L685.0 1288.7 L688.0 1288.4 L691.0 1288.6 L694.0 1288.5 L697.0 1288.6 L700.0 1288.6 L703.0 1288.5 L703.5 1288.5 L704.0 1288.3 L704.5 1288.3 L705.0 1288.2 L705.5 1288.0 L706.0 1288.0 L706.5 1288.0 L707.0 1288.1 L707.5 1287.7 L708.0 1287.6 L708.5 1287.5 L709.0 1287.5 L709.5 1287.5 L710.0 1287.6 L710.5 1287.6 L711.0 1287.5 L711.5 1287.5 L712.0 1287.5 L712.5 1287.2 L713.0 1287.2 L713.5 1286.9 L714.0 1286.7 L714.5 1286.7 L715.0 1286.7 L715.5 1286.6 L716.0 1286.4 L716.5 1286.3 L717.0 1286.1 L717.5 1286.0 L718.0 1285.9 L718.5 1286.0 L719.0 1285.9 L719.5 1285.4 L720.0 1285.0 L720.5 1284.5 L721.0 1284.2 L721.5 1283.9 L722.0 1283.4 L722.5 1282.4 L723.0 1281.5 L723.5 1280.4 L724.0 1279.3 L724.5 1277.7 L725.0 1275.6 L725.5 1272.9 L726.0 1268.6 L726.5 1262.6 L727.0 1255.0 L727.5 1244.6 L728.0 1231.1 L728.5 1214.8 L729.0 1196.2 L729.5 1176.6 L730.0 1158.7 L730.5 1145.5 L731.0 1140.7 L731.5 1145.7 L732.0 1158.9 L732.5 1176.9 L733.0 1196.6 L733.5 1214.7 L734.0 1230.9 L734.5 1244.2 L735.0 1254.8 L735.5 1262.6 L736.0 1268.5 L736.5 1272.8 L737.0 1275.8 L737.5 1277.9 L738.0 1279.5 L738.5 1280.6 L739.0 1281.5 L739.5 1282.3 L740.0 1283.0 L740.5 1283.8 L741.0 1284.4 L741.5 1284.8 L742.0 1285.2 L742.5 1285.5 L743.0 1285.9 L743.5 1286.1 L744.0 1286.3 L744.5 1286.4 L745.0 1286.5 L745.5 1286.8 L746.0 1287.1 L746.5 1287.3 L747.0 1287.4 L747.5 1287.5 L748.0 1287.5 L748.5 1287.3 L749.0 1287.5 L749.5 1287.6 L750.0 1287.6 L750.5 1287.5 L751.0 1287.8 L751.5 1287.6 L752.0 1287.9 L752.5 1288.0 L753.0 1288.4 L753.5 1288.3 L754.0 1288.3 L754.5 1288.2 L755.0 1288.2 L755.5 1288.2 L756.0 1288.2 L756.5 1288.3 L757.0 1288.2 L757.5 1288.2 L758.0 1288.3 L758.5 1288.3 L759.0 1288.2 L759.5 1288.3 L760.0 1288.3 L760.5 1288.2 L761.0 1288.2 L764.0 1288.3 L767.0 1288.6 L770.0 1288.5 L773.0 1288.7 L776.0 1288.7 L779.0 1288.7 L782.0 1288.7 L785.0 1288.7 L788.0 1288.9 L791.0 1289.1 L794.0 1289.0 L797.0 1289.2 L800.0 1289.3 L803.0 1289.3 L806.0 1289.2 L809.0 1289.3 L812.0 1289.2 L815.0 1289.2 L818.0 1289.1 L821.0 1289.2 L824.0 1289.3 L827.0 1289.4 L830.0 1289.3 L833.0 1289.4 L836.0 1289.5 L839.0 1289.3 L842.0 1289.4 L845.0 1289.1 L848.0 1289.1 L851.0 1289.1 L854.0 1289.2 L857.0 1289.1 L860.0 1288.8 L863.0 1288.5 L866.0 1288.2 L869.0 1288.1 L872.0 1287.8 L875.0 1287.3 L878.0 1287.1 L881.0 1286.6 L884.0 1286.1 L887.0 1285.6 L890.0 1285.4 L893.0 1285.2 L896.0 1284.7 L896.5 1284.4 L897.0 1284.4 L897.5 1284.3 L898.0 1284.3 L898.5 1284.3 L899.0 1284.2 L899.5 1284.2 L900.0 1284.3 L900.5 1284.2 L901.0 1284.0 L901.5 1283.9 L902.0 1283.9 L902.5 1283.7 L903.0 1283.6 L903.5 1283.4 L904.0 1283.2 L904.5 1283.3 L905.0 1283.2 L905.5 1283.2 L906.0 1283.3 L906.5 1283.0 L907.0 1283.0 L907.5 1283.0 L908.0 1283.0 L908.5 1282.8 L909.0 1282.9 L909.5 1282.9 L910.0 1283.0 L910.5 1283.1 L911.0 1283.2 L911.5 1283.4 L912.0 1283.3 L912.5 1283.2 L913.0 1283.0 L913.5 1282.8 L914.0 1282.7 L914.5 1282.3 L915.0 1282.1 L915.5 1281.9 L916.0 1281.6 L916.5 1280.9 L917.0 1280.1 L917.5 1278.5 L918.0 1276.4 L918.5 1273.3 L919.0 1269.3 L919.5 1264.2 L920.0 1258.2 L920.5 1250.8 L921.0 1242.1 L921.5 1233.2 L922.0 1224.6 L922.5 1217.3 L923.0 1213.0 L923.5 1212.6 L924.0 1216.3 L924.5 1222.9 L925.0 1231.6 L925.5 1241.0 L926.0 1250.0 L926.5 1257.8 L927.0 1264.4 L927.5 1269.8 L928.0 1274.2 L928.5 1277.5 L929.0 1279.8 L929.5 1281.6 L930.0 1282.9 L930.5 1283.9 L931.0 1284.5 L931.5 1284.9 L932.0 1285.3 L932.5 1285.8 L933.0 1286.0 L933.5 1286.2 L934.0 1286.6 L934.5 1286.8 L935.0 1286.8 L935.5 1287.3 L936.0 1287.5 L936.5 1287.7 L937.0 1287.7 L937.5 1288.0 L938.0 1287.8 L938.5 1287.8 L939.0 1288.0 L939.5 1288.2 L940.0 1288.1 L940.5 1288.0 L941.0 1288.1 L941.5 1287.9 L942.0 1288.1 L942.5 1288.2 L943.0 1288.2 L943.5 1288.3 L944.0 1288.4 L944.5 1288.5 L945.0 1288.6 L945.5 1288.8 L946.0 1288.7 L946.5 1288.7 L947.0 1288.6 L947.5 1288.7 L948.0 1288.7 L948.5 1288.7 L949.0 1288.7 L949.5 1288.7 L950.0 1288.9 L950.5 1288.9 L951.0 1289.1 L951.5 1289.1 L952.0 1289.2 L952.5 1289.1 L953.0 1289.2 L953.5 1289.2 L956.5 1289.1 L959.5 1289.1 L962.5 1289.1 L965.5 1289.1 L968.5 1289.2 L971.5 1289.1 L974.5 1288.9 L977.5 1288.6 L980.5 1288.6 L983.5 1288.6 L986.5 1288.7 L989.5 1288.8 L992.5 1289.0 L995.5 1289.1 L998.5 1289.1 L1001.5 1289.0 L1004.5 1289.1 L1007.5 1289.2 L1010.5 1289.4 L1013.5 1289.1 L1016.5 1289.2 L1019.5 1289.3 L1022.5 1289.4 L1025.5 1289.1 L1028.5 1289.1 L1031.5 1289.1 L1034.5 1289.2 L1037.5 1289.0 L1040.5 1288.7 L1043.5 1288.5 L1046.5 1287.9 L1049.5 1287.9 L1052.5 1288.2 L1055.5 1288.7 L1058.5 1288.8 L1061.5 1288.8 L1064.5 1288.9 L1067.5 1288.8 L1070.5 1289.1 L1073.5 1288.9 L1076.5 1288.7 L1079.5 1288.8 L1082.5 1288.9 L1085.5 1289.0 L1088.5 1288.9 L1091.5 1288.9 L1094.5 1288.9 L1097.5 1288.8 L1100.5 1288.5 L1103.5 1288.7 L1106.5 1288.8 L1109.5 1288.8 L1112.5 1288.8 L1115.5 1288.8 L1118.5 1288.9 L1121.5 1288.9 L1124.5 1289.0 L1127.5 1288.8 L1130.5 1288.9 L1133.5 1288.7 L1136.5 1288.7 L1139.5 1289.0 L1142.5 1288.8 L1145.5 1288.8 L1148.5 1288.8 L1151.5 1288.9 L1154.5 1288.8 L1157.5 1288.6 L1160.5 1288.8 L1163.5 1288.7 L1166.5 1288.7 L1169.5 1288.9 L1172.5 1288.8 L1175.5 1288.8 L1178.5 1288.8 L1181.5 1288.9 L1184.5 1288.9 L1187.5 1289.0 L1190.5 1289.3 L1193.5 1289.2 L1196.5 1289.4 L1199.5 1289.1 L1202.5 1289.2 L1205.5 1289.2 L1208.5 1289.2 L1211.5 1289.1 L1214.5 1289.0 L1217.5 1288.8 L1220.5 1288.8 L1223.5 1289.0 L1226.5 1289.1 L1229.5 1289.1 L1232.5 1289.0 L1235.5 1288.9 L1238.5 1288.8 L1241.5 1289.0 L1244.5 1289.1 L1247.5 1289.1 L1250.5 1289.0 L1253.5 1288.9 L1256.5 1289.1 L1259.5 1289.2 L1262.5 1289.0 L1265.5 1289.1 L1268.5 1289.0 L1271.5 1289.1 L1274.5 1288.9 L1277.5 1288.9 L1280.5 1289.0 L1283.5 1289.0 L1286.5 1289.2 L1289.5 1289.0 L1292.5 1289.2 L1295.5 1289.4 L1298.5 1289.3 L1301.5 1289.3 L1304.5 1289.2 L1307.5 1289.1 L1310.5 1288.9 L1313.5 1289.0 L1316.5 1289.0 L1319.5 1289.2 L1322.5 1289.3 L1325.5 1289.3 L1328.5 1289.2 L1331.5 1289.2 L1334.5 1289.1 L1337.5 1289.1 L1340.5 1288.8 L1343.5 1289.0 L1346.5 1288.8 L1349.5 1288.7 L1352.5 1288.8 L1355.5 1288.7 L1358.5 1289.0 L1361.5 1289.0 L1364.5 1289.2 L1367.5 1289.3 L1370.5 1289.2 L1373.5 1289.2 L1376.5 1289.4 L1379.5 1289.3 L1382.5 1289.2 L1385.5 1289.1 L1388.5 1289.1 L1391.5 1289.0 L1394.5 1289.1 L1397.5 1289.2 L1400.5 1289.3 L1403.5 1289.3 L1406.5 1289.3 L1409.5 1289.3 L1412.5 1289.3 L1415.5 1289.1 L1418.5 1289.2 L1421.5 1289.1 L1424.5 1289.2 L1427.5 1289.0 L1430.5 1289.2 L1433.5 1289.1 L1436.5 1289.2 L1439.5 1289.3 L1442.5 1289.2 L1445.5 1289.3 L1448.5 1289.2 L1451.5 1288.9 L1454.5 1289.0 L1457.5 1289.1 L1460.5 1289.1 L1463.5 1288.7 L1466.5 1288.8 L1469.5 1288.7 L1472.5 1288.7 L1475.5 1288.7 L1478.5 1288.5 L1481.5 1288.5 L1484.5 1288.8 L1487.5 1289.1 L1490.5 1289.0 L1493.5 1288.9 L1496.5 1289.0 L1499.5 1289.1 L1502.5 1289.2 L1505.5 1289.0 L1508.5 1289.0 L1511.5 1289.0 L1514.5 1289.2 L1517.5 1289.3 L1518.0 1289.3 L1518.5 1289.4 L1519.0 1289.3 L1519.5 1289.4 L1520.0 1289.3 L1520.5 1289.3 L1521.0 1289.3 L1521.5 1289.1 L1522.0 1289.0 L1522.5 1288.8 L1523.0 1288.8 L1523.5 1288.8 L1524.0 1288.8 L1524.5 1288.8 L1525.0 1288.6 L1525.5 1288.6 L1526.0 1288.6 L1526.5 1288.6 L1527.0 1288.8 L1527.5 1289.0 L1528.0 1288.9 L1528.5 1288.8 L1529.0 1288.7 L1529.5 1288.7 L1530.0 1288.8 L1530.5 1288.6 L1531.0 1288.8 L1531.5 1288.6 L1532.0 1288.7 L1532.5 1288.8 L1533.0 1288.8 L1533.5 1289.0 L1534.0 1288.9 L1534.5 1288.8 L1535.0 1288.8 L1535.5 1288.8 L1536.0 1288.6 L1536.5 1288.5 L1537.0 1288.3 L1537.5 1288.2 L1538.0 1288.3 L1538.5 1288.0 L1539.0 1287.7 L1539.5 1287.4 L1540.0 1286.5 L1540.5 1286.1 L1541.0 1285.6 L1541.5 1284.9 L1542.0 1283.9 L1542.5 1282.9 L1543.0 1281.8 L1543.5 1280.8 L1544.0 1279.6 L1544.5 1278.5 L1545.0 1277.1 L1545.5 1276.0 L1546.0 1275.3 L1546.5 1274.9 L1547.0 1274.5 L1547.5 1274.6 L1548.0 1275.3 L1548.5 1276.0 L1549.0 1276.9 L1549.5 1277.9 L1550.0 1279.1 L1550.5 1280.4 L1551.0 1281.7 L1551.5 1282.6 L1552.0 1283.8 L1552.5 1284.6 L1553.0 1285.3 L1553.5 1286.2 L1554.0 1286.7 L1554.5 1287.0 L1555.0 1287.3 L1555.5 1287.5 L1556.0 1287.6 L1556.5 1287.8 L1557.0 1288.1 L1557.5 1288.3 L1558.0 1288.2 L1558.5 1288.6 L1559.0 1288.5 L1559.5 1288.6 L1560.0 1288.6 L1560.5 1288.7 L1561.0 1288.7 L1561.5 1288.8 L1562.0 1289.1 L1562.5 1289.0 L1563.0 1288.9 L1563.5 1288.9 L1564.0 1288.8 L1564.5 1288.8 L1565.0 1288.8 L1565.5 1288.9 L1566.0 1288.8 L1566.5 1288.9 L1567.0 1288.9 L1567.5 1288.7 L1568.0 1288.9 L1568.5 1288.8 L1569.0 1289.0 L1569.5 1288.9 L1570.0 1289.0 L1570.5 1289.0 L1571.0 1288.6 L1571.5 1288.5 L1572.0 1288.4 L1572.5 1288.7 L1573.0 1288.5 L1573.5 1288.6 L1574.0 1288.8 L1574.5 1288.9 L1575.0 1289.0 L1575.5 1288.9 L1576.0 1288.9 L1576.5 1289.0 L1577.0 1289.0 L1580.0 1289.1 L1583.0 1289.1 L1586.0 1289.0 L1589.0 1288.9 L1592.0 1289.0 L1595.0 1288.7 L1598.0 1288.6 L1601.0 1288.6 L1604.0 1288.6 L1607.0 1288.6 L1610.0 1288.3 L1613.0 1288.4 L1616.0 1288.5 L1619.0 1288.6 L1622.0 1288.4 L1625.0 1288.5 L1628.0 1288.6 L1631.0 1288.7 L1634.0 1288.9 L1637.0 1289.1 L1640.0 1288.9 L1643.0 1289.0 L1646.0 1289.0 L1649.0 1288.9 L1652.0 1289.1 L1655.0 1289.0 L1658.0 1288.9 L1661.0 1288.8 L1664.0 1288.8 L1667.0 1288.9 L1670.0 1289.0 L1673.0 1289.2 L1676.0 1289.2 L1679.0 1289.1 L1682.0 1289.2 L1685.0 1289.1 L1688.0 1289.0 L1691.0 1289.0 L1694.0 1289.0 L1697.0 1289.2 L1700.0 1289.1 L1703.0 1289.1 L1706.0 1289.1 L1709.0 1288.9 L1712.0 1288.8 L1715.0 1288.8 L1718.0 1288.9 L1721.0 1288.9 L1724.0 1289.0 L1727.0 1289.0 L1730.0 1288.9 L1733.0 1289.0 L1736.0 1288.9 L1739.0 1288.7 L1742.0 1288.7 L1745.0 1288.6 L1748.0 1288.6 L1751.0 1288.5 L1754.0 1288.5 L1757.0 1288.6 L1760.0 1288.6 L1763.0 1288.6 L1766.0 1288.4 L1769.0 1288.5 L1772.0 1288.5 L1775.0 1288.6 L1778.0 1288.3 L1781.0 1288.3 L1784.0 1288.4 L1787.0 1288.2 L1790.0 1288.3 L1793.0 1288.4 L1796.0 1288.5 L1799.0 1288.4 L1802.0 1288.5 L1805.0 1288.6 L1808.0 1288.5 L1811.0 1288.7 L1814.0 1288.7 L1817.0 1288.8 L1820.0 1288.8 L1823.0 1288.9 L1826.0 1288.9 L1829.0 1289.1 L1832.0 1289.1 L1835.0 1289.0 L1838.0 1289.0 L1841.0 1289.1 L1844.0 1289.0 L1847.0 1289.1 L1850.0 1289.1 L1853.0 1289.1 L1856.0 1288.8 L1859.0 1288.8 L1862.0 1288.9 L1865.0 1288.9 L1868.0 1288.8 L1871.0 1289.0 L1874.0 1289.0 L1877.0 1288.9 L1880.0 1288.8 L1883.0 1288.9 L1886.0 1288.8 L1889.0 1288.7 L1892.0 1289.0 L1895.0 1289.2 L1898.0 1289.3 L1901.0 1289.4 L1904.0 1289.4 L1907.0 1289.1 L1910.0 1289.3 L1913.0 1289.4 L1916.0 1289.4 L1919.0 1289.1 L1922.0 1289.2 L1922.5 1289.4 L1923.0 1289.2 L1923.5 1289.2 L1924.0 1289.3 L1924.5 1289.2 L1925.0 1289.3 L1925.5 1289.3 L1926.0 1289.3 L1926.5 1289.3 L1927.0 1289.0 L1927.5 1288.9 L1928.0 1289.3 L1928.5 1289.3 L1929.0 1289.4 L1929.5 1289.5 L1930.0 1289.6 L1930.5 1289.6 L1931.0 1289.4 L1931.5 1289.4 L1932.0 1289.0 L1932.5 1289.0 L1933.0 1289.1 L1933.5 1288.8 L1934.0 1288.8 L1934.5 1289.0 L1935.0 1289.1 L1935.5 1289.0 L1936.0 1288.9 L1936.5 1288.6 L1937.0 1288.5 L1937.5 1288.6 L1938.0 1288.9 L1938.5 1288.7 L1939.0 1288.9 L1939.5 1288.9 L1940.0 1288.7 L1940.5 1288.9 L1941.0 1288.5 L1941.5 1288.4 L1942.0 1288.3 L1942.5 1288.5 L1943.0 1288.5 L1943.5 1288.6 L1944.0 1288.3 L1944.5 1288.1 L1945.0 1288.0 L1945.5 1287.7 L1946.0 1287.4 L1946.5 1287.0 L1947.0 1286.7 L1947.5 1286.2 L1948.0 1286.3 L1948.5 1286.0 L1949.0 1285.6 L1949.5 1285.5 L1950.0 1285.5 L1950.5 1285.5 L1951.0 1285.9 L1951.5 1285.9 L1952.0 1286.0 L1952.5 1286.1 L1953.0 1286.3 L1953.5 1286.5 L1954.0 1286.8 L1954.5 1287.4 L1955.0 1287.6 L1955.5 1287.7 L1956.0 1288.1 L1956.5 1288.4 L1957.0 1288.6 L1957.5 1288.7 L1958.0 1288.9 L1958.5 1289.0 L1959.0 1289.2 L1959.5 1289.3 L1960.0 1289.5 L1960.5 1289.3 L1961.0 1289.3 L1961.5 1289.1 L1962.0 1289.3 L1962.5 1289.3 L1963.0 1289.2 L1963.5 1289.3 L1964.0 1289.6 L1964.5 1289.6 L1965.0 1289.4 L1965.5 1289.3 L1966.0 1289.3 L1966.5 1289.3 L1967.0 1289.3 L1967.5 1289.4 L1968.0 1289.4 L1968.5 1289.2 L1969.0 1289.2 L1969.5 1289.2 L1970.0 1289.2 L1970.5 1289.1 L1971.0 1288.9 L1971.5 1288.7 L1972.0 1288.7 L1972.5 1288.6 L1973.0 1288.3 L1973.5 1288.6 L1974.0 1288.5 L1974.5 1288.4 L1975.0 1288.6 L1975.5 1288.3 L1976.0 1288.6 L1976.5 1288.6 L1977.0 1288.7 L1977.5 1288.7 L1978.0 1288.8 L1978.5 1288.8 L1979.0 1288.8 L1979.5 1288.6 L1980.0 1288.5 L1983.0 1288.6 L1986.0 1288.8 L1989.0 1288.8 L1992.0 1288.9 L1995.0 1288.9 L1998.0 1289.0" fill="none" stroke="#fbd8fb" stroke-width="7.9" stroke-linejoin="round"/>
<path d="M172.0 1288.9 L175.0 1288.9 L178.0 1288.7 L181.0 1288.8 L184.0 1288.9 L187.0 1288.9 L190.0 1288.8 L193.0 1289.0 L196.0 1289.2 L199.0 1289.3 L202.0 1289.4 L205.0 1289.3 L208.0 1289.2 L211.0 1289.3 L214.0 1289.2 L217.0 1289.2 L220.0 1289.2 L223.0 1289.2 L226.0 1289.1 L229.0 1289.3 L232.0 1289.2 L235.0 1289.3 L238.0 1289.4 L241.0 1289.4 L244.0 1289.4 L247.0 1289.2 L250.0 1289.0 L253.0 1288.9 L256.0 1289.0 L259.0 1289.2 L262.0 1289.0 L265.0 1289.0 L268.0 1288.9 L271.0 1288.8 L274.0 1288.8 L277.0 1288.9 L280.0 1289.0 L283.0 1289.1 L286.0 1289.0 L289.0 1289.1 L292.0 1289.2 L295.0 1289.2 L298.0 1289.2 L301.0 1289.1 L304.0 1289.0 L307.0 1288.9 L310.0 1288.8 L313.0 1289.2 L316.0 1289.1 L319.0 1289.3 L322.0 1289.3 L325.0 1289.3 L328.0 1289.4 L331.0 1289.2 L334.0 1289.3 L337.0 1289.3 L340.0 1289.1 L343.0 1289.1 L346.0 1289.2 L349.0 1289.2 L352.0 1289.4 L355.0 1289.3 L358.0 1289.3 L361.0 1289.4 L364.0 1289.2 L367.0 1289.3 L370.0 1289.1 L373.0 1288.9 L376.0 1289.0 L379.0 1288.8 L382.0 1288.8 L385.0 1288.6 L388.0 1288.7 L391.0 1288.6 L394.0 1288.7 L397.0 1288.5 L400.0 1288.7 L403.0 1288.7 L406.0 1288.7 L409.0 1288.8 L412.0 1288.8 L415.0 1288.7 L418.0 1288.4 L421.0 1288.5 L424.0 1288.4 L427.0 1288.4 L430.0 1288.6 L433.0 1288.4 L436.0 1288.4 L439.0 1288.4 L442.0 1288.3 L445.0 1288.5 L448.0 1288.5 L451.0 1288.5 L454.0 1288.4 L457.0 1288.6 L460.0 1288.6 L463.0 1288.7 L466.0 1288.8 L469.0 1288.6 L472.0 1288.5 L475.0 1288.6 L478.0 1288.7 L481.0 1288.8 L484.0 1289.0 L487.0 1289.1 L490.0 1289.0 L493.0 1289.0 L496.0 1289.1 L499.0 1289.0 L502.0 1289.2 L505.0 1288.9 L508.0 1289.0 L511.0 1289.0 L514.0 1288.7 L517.0 1288.9 L520.0 1289.0 L523.0 1289.0 L526.0 1288.8 L529.0 1288.8 L532.0 1289.0 L535.0 1288.9 L538.0 1288.4 L541.0 1288.4 L544.0 1288.3 L547.0 1288.4 L550.0 1288.4 L553.0 1288.4 L556.0 1288.4 L559.0 1288.6 L562.0 1288.5 L565.0 1288.8 L568.0 1288.8 L571.0 1288.6 L574.0 1288.8 L577.0 1288.9 L580.0 1288.8 L583.0 1288.9 L586.0 1288.6 L589.0 1288.6 L592.0 1288.8 L595.0 1288.7 L598.0 1288.6 L601.0 1288.7 L604.0 1288.7 L607.0 1288.2 L610.0 1286.5 L613.0 1286.0 L616.0 1287.6 L619.0 1288.6 L622.0 1289.1 L625.0 1289.0 L628.0 1289.0 L631.0 1289.0 L634.0 1289.1 L637.0 1289.0 L640.0 1289.1 L643.0 1288.7 L646.0 1288.9 L649.0 1288.8 L652.0 1288.9 L655.0 1288.9 L658.0 1288.8 L661.0 1288.8 L664.0 1288.8 L667.0 1288.9 L670.0 1288.8 L673.0 1288.6 L676.0 1288.4 L679.0 1288.8 L682.0 1288.7 L685.0 1288.7 L688.0 1288.4 L691.0 1288.6 L694.0 1288.5 L697.0 1288.6 L700.0 1288.6 L703.0 1288.5 L703.5 1288.5 L704.0 1288.3 L704.5 1288.3 L705.0 1288.2 L705.5 1288.0 L706.0 1288.0 L706.5 1288.0 L707.0 1288.1 L707.5 1287.7 L708.0 1287.6 L708.5 1287.5 L709.0 1287.5 L709.5 1287.5 L710.0 1287.6 L710.5 1287.6 L711.0 1287.5 L711.5 1287.5 L712.0 1287.5 L712.5 1287.2 L713.0 1287.2 L713.5 1286.9 L714.0 1286.7 L714.5 1286.7 L715.0 1286.7 L715.5 1286.6 L716.0 1286.4 L716.5 1286.3 L717.0 1286.1 L717.5 1286.0 L718.0 1285.9 L718.5 1286.0 L719.0 1285.9 L719.5 1285.4 L720.0 1285.0 L720.5 1284.5 L721.0 1284.2 L721.5 1283.9 L722.0 1283.4 L722.5 1282.4 L723.0 1281.5 L723.5 1280.4 L724.0 1279.3 L724.5 1277.7 L725.0 1275.6 L725.5 1272.9 L726.0 1268.6 L726.5 1262.6 L727.0 1255.0 L727.5 1244.6 L728.0 1231.1 L728.5 1214.8 L729.0 1196.2 L729.5 1176.6 L730.0 1158.7 L730.5 1145.5 L731.0 1140.7 L731.5 1145.7 L732.0 1158.9 L732.5 1176.9 L733.0 1196.6 L733.5 1214.7 L734.0 1230.9 L734.5 1244.2 L735.0 1254.8 L735.5 1262.6 L736.0 1268.5 L736.5 1272.8 L737.0 1275.8 L737.5 1277.9 L738.0 1279.5 L738.5 1280.6 L739.0 1281.5 L739.5 1282.3 L740.0 1283.0 L740.5 1283.8 L741.0 1284.4 L741.5 1284.8 L742.0 1285.2 L742.5 1285.5 L743.0 1285.9 L743.5 1286.1 L744.0 1286.3 L744.5 1286.4 L745.0 1286.5 L745.5 1286.8 L746.0 1287.1 L746.5 1287.3 L747.0 1287.4 L747.5 1287.5 L748.0 1287.5 L748.5 1287.3 L749.0 1287.5 L749.5 1287.6 L750.0 1287.6 L750.5 1287.5 L751.0 1287.8 L751.5 1287.6 L752.0 1287.9 L752.5 1288.0 L753.0 1288.4 L753.5 1288.3 L754.0 1288.3 L754.5 1288.2 L755.0 1288.2 L755.5 1288.2 L756.0 1288.2 L756.5 1288.3 L757.0 1288.2 L757.5 1288.2 L758.0 1288.3 L758.5 1288.3 L759.0 1288.2 L759.5 1288.3 L760.0 1288.3 L760.5 1288.2 L761.0 1288.2 L764.0 1288.3 L767.0 1288.6 L770.0 1288.5 L773.0 1288.7 L776.0 1288.7 L779.0 1288.7 L782.0 1288.7 L785.0 1288.7 L788.0 1288.9 L791.0 1289.1 L794.0 1289.0 L797.0 1289.2 L800.0 1289.3 L803.0 1289.3 L806.0 1289.2 L809.0 1289.3 L812.0 1289.2 L815.0 1289.2 L818.0 1289.1 L821.0 1289.2 L824.0 1289.3 L827.0 1289.4 L830.0 1289.3 L833.0 1289.4 L836.0 1289.5 L839.0 1289.3 L842.0 1289.4 L845.0 1289.1 L848.0 1289.1 L851.0 1289.1 L854.0 1289.2 L857.0 1289.1 L860.0 1288.8 L863.0 1288.5 L866.0 1288.2 L869.0 1288.1 L872.0 1287.8 L875.0 1287.3 L878.0 1287.1 L881.0 1286.6 L884.0 1286.1 L887.0 1285.6 L890.0 1285.4 L893.0 1285.2 L896.0 1284.7 L896.5 1284.4 L897.0 1284.4 L897.5 1284.3 L898.0 1284.3 L898.5 1284.3 L899.0 1284.2 L899.5 1284.2 L900.0 1284.3 L900.5 1284.2 L901.0 1284.0 L901.5 1283.9 L902.0 1283.9 L902.5 1283.7 L903.0 1283.6 L903.5 1283.4 L904.0 1283.2 L904.5 1283.3 L905.0 1283.2 L905.5 1283.2 L906.0 1283.3 L906.5 1283.0 L907.0 1283.0 L907.5 1283.0 L908.0 1283.0 L908.5 1282.8 L909.0 1282.9 L909.5 1282.9 L910.0 1283.0 L910.5 1283.1 L911.0 1283.2 L911.5 1283.4 L912.0 1283.3 L912.5 1283.2 L913.0 1283.0 L913.5 1282.8 L914.0 1282.7 L914.5 1282.3 L915.0 1282.1 L915.5 1281.9 L916.0 1281.6 L916.5 1280.9 L917.0 1280.1 L917.5 1278.5 L918.0 1276.4 L918.5 1273.3 L919.0 1269.3 L919.5 1264.2 L920.0 1258.2 L920.5 1250.8 L921.0 1242.1 L921.5 1233.2 L922.0 1224.6 L922.5 1217.3 L923.0 1213.0 L923.5 1212.6 L924.0 1216.3 L924.5 1222.9 L925.0 1231.6 L925.5 1241.0 L926.0 1250.0 L926.5 1257.8 L927.0 1264.4 L927.5 1269.8 L928.0 1274.2 L928.5 1277.5 L929.0 1279.8 L929.5 1281.6 L930.0 1282.9 L930.5 1283.9 L931.0 1284.5 L931.5 1284.9 L932.0 1285.3 L932.5 1285.8 L933.0 1286.0 L933.5 1286.2 L934.0 1286.6 L934.5 1286.8 L935.0 1286.8 L935.5 1287.3 L936.0 1287.5 L936.5 1287.7 L937.0 1287.7 L937.5 1288.0 L938.0 1287.8 L938.5 1287.8 L939.0 1288.0 L939.5 1288.2 L940.0 1288.1 L940.5 1288.0 L941.0 1288.1 L941.5 1287.9 L942.0 1288.1 L942.5 1288.2 L943.0 1288.2 L943.5 1288.3 L944.0 1288.4 L944.5 1288.5 L945.0 1288.6 L945.5 1288.8 L946.0 1288.7 L946.5 1288.7 L947.0 1288.6 L947.5 1288.7 L948.0 1288.7 L948.5 1288.7 L949.0 1288.7 L949.5 1288.7 L950.0 1288.9 L950.5 1288.9 L951.0 1289.1 L951.5 1289.1 L952.0 1289.2 L952.5 1289.1 L953.0 1289.2 L953.5 1289.2 L956.5 1289.1 L959.5 1289.1 L962.5 1289.1 L965.5 1289.1 L968.5 1289.2 L971.5 1289.1 L974.5 1288.9 L977.5 1288.6 L980.5 1288.6 L983.5 1288.6 L986.5 1288.7 L989.5 1288.8 L992.5 1289.0 L995.5 1289.1 L998.5 1289.1 L1001.5 1289.0 L1004.5 1289.1 L1007.5 1289.2 L1010.5 1289.4 L1013.5 1289.1 L1016.5 1289.2 L1019.5 1289.3 L1022.5 1289.4 L1025.5 1289.1 L1028.5 1289.1 L1031.5 1289.1 L1034.5 1289.2 L1037.5 1289.0 L1040.5 1288.7 L1043.5 1288.5 L1046.5 1287.9 L1049.5 1287.9 L1052.5 1288.2 L1055.5 1288.7 L1058.5 1288.8 L1061.5 1288.8 L1064.5 1288.9 L1067.5 1288.8 L1070.5 1289.1 L1073.5 1288.9 L1076.5 1288.7 L1079.5 1288.8 L1082.5 1288.9 L1085.5 1289.0 L1088.5 1288.9 L1091.5 1288.9 L1094.5 1288.9 L1097.5 1288.8 L1100.5 1288.5 L1103.5 1288.7 L1106.5 1288.8 L1109.5 1288.8 L1112.5 1288.8 L1115.5 1288.8 L1118.5 1288.9 L1121.5 1288.9 L1124.5 1289.0 L1127.5 1288.8 L1130.5 1288.9 L1133.5 1288.7 L1136.5 1288.7 L1139.5 1289.0 L1142.5 1288.8 L1145.5 1288.8 L1148.5 1288.8 L1151.5 1288.9 L1154.5 1288.8 L1157.5 1288.6 L1160.5 1288.8 L1163.5 1288.7 L1166.5 1288.7 L1169.5 1288.9 L1172.5 1288.8 L1175.5 1288.8 L1178.5 1288.8 L1181.5 1288.9 L1184.5 1288.9 L1187.5 1289.0 L1190.5 1289.3 L1193.5 1289.2 L1196.5 1289.4 L1199.5 1289.1 L1202.5 1289.2 L1205.5 1289.2 L1208.5 1289.2 L1211.5 1289.1 L1214.5 1289.0 L1217.5 1288.8 L1220.5 1288.8 L1223.5 1289.0 L1226.5 1289.1 L1229.5 1289.1 L1232.5 1289.0 L1235.5 1288.9 L1238.5 1288.8 L1241.5 1289.0 L1244.5 1289.1 L1247.5 1289.1 L1250.5 1289.0 L1253.5 1288.9 L1256.5 1289.1 L1259.5 1289.2 L1262.5 1289.0 L1265.5 1289.1 L1268.5 1289.0 L1271.5 1289.1 L1274.5 1288.9 L1277.5 1288.9 L1280.5 1289.0 L1283.5 1289.0 L1286.5 1289.2 L1289.5 1289.0 L1292.5 1289.2 L1295.5 1289.4 L1298.5 1289.3 L1301.5 1289.3 L1304.5 1289.2 L1307.5 1289.1 L1310.5 1288.9 L1313.5 1289.0 L1316.5 1289.0 L1319.5 1289.2 L1322.5 1289.3 L1325.5 1289.3 L1328.5 1289.2 L1331.5 1289.2 L1334.5 1289.1 L1337.5 1289.1 L1340.5 1288.8 L1343.5 1289.0 L1346.5 1288.8 L1349.5 1288.7 L1352.5 1288.8 L1355.5 1288.7 L1358.5 1289.0 L1361.5 1289.0 L1364.5 1289.2 L1367.5 1289.3 L1370.5 1289.2 L1373.5 1289.2 L1376.5 1289.4 L1379.5 1289.3 L1382.5 1289.2 L1385.5 1289.1 L1388.5 1289.1 L1391.5 1289.0 L1394.5 1289.1 L1397.5 1289.2 L1400.5 1289.3 L1403.5 1289.3 L1406.5 1289.3 L1409.5 1289.3 L1412.5 1289.3 L1415.5 1289.1 L1418.5 1289.2 L1421.5 1289.1 L1424.5 1289.2 L1427.5 1289.0 L1430.5 1289.2 L1433.5 1289.1 L1436.5 1289.2 L1439.5 1289.3 L1442.5 1289.2 L1445.5 1289.3 L1448.5 1289.2 L1451.5 1288.9 L1454.5 1289.0 L1457.5 1289.1 L1460.5 1289.1 L1463.5 1288.7 L1466.5 1288.8 L1469.5 1288.7 L1472.5 1288.7 L1475.5 1288.7 L1478.5 1288.5 L1481.5 1288.5 L1484.5 1288.8 L1487.5 1289.1 L1490.5 1289.0 L1493.5 1288.9 L1496.5 1289.0 L1499.5 1289.1 L1502.5 1289.2 L1505.5 1289.0 L1508.5 1289.0 L1511.5 1289.0 L1514.5 1289.2 L1517.5 1289.3 L1518.0 1289.3 L1518.5 1289.4 L1519.0 1289.3 L1519.5 1289.4 L1520.0 1289.3 L1520.5 1289.3 L1521.0 1289.3 L1521.5 1289.1 L1522.0 1289.0 L1522.5 1288.8 L1523.0 1288.8 L1523.5 1288.8 L1524.0 1288.8 L1524.5 1288.8 L1525.0 1288.6 L1525.5 1288.6 L1526.0 1288.6 L1526.5 1288.6 L1527.0 1288.8 L1527.5 1289.0 L1528.0 1288.9 L1528.5 1288.8 L1529.0 1288.7 L1529.5 1288.7 L1530.0 1288.8 L1530.5 1288.6 L1531.0 1288.8 L1531.5 1288.6 L1532.0 1288.7 L1532.5 1288.8 L1533.0 1288.8 L1533.5 1289.0 L1534.0 1288.9 L1534.5 1288.8 L1535.0 1288.8 L1535.5 1288.8 L1536.0 1288.6 L1536.5 1288.5 L1537.0 1288.3 L1537.5 1288.2 L1538.0 1288.3 L1538.5 1288.0 L1539.0 1287.7 L1539.5 1287.4 L1540.0 1286.5 L1540.5 1286.1 L1541.0 1285.6 L1541.5 1284.9 L1542.0 1283.9 L1542.5 1282.9 L1543.0 1281.8 L1543.5 1280.8 L1544.0 1279.6 L1544.5 1278.5 L1545.0 1277.1 L1545.5 1276.0 L1546.0 1275.3 L1546.5 1274.9 L1547.0 1274.5 L1547.5 1274.6 L1548.0 1275.3 L1548.5 1276.0 L1549.0 1276.9 L1549.5 1277.9 L1550.0 1279.1 L1550.5 1280.4 L1551.0 1281.7 L1551.5 1282.6 L1552.0 1283.8 L1552.5 1284.6 L1553.0 1285.3 L1553.5 1286.2 L1554.0 1286.7 L1554.5 1287.0 L1555.0 1287.3 L1555.5 1287.5 L1556.0 1287.6 L1556.5 1287.8 L1557.0 1288.1 L1557.5 1288.3 L1558.0 1288.2 L1558.5 1288.6 L1559.0 1288.5 L1559.5 1288.6 L1560.0 1288.6 L1560.5 1288.7 L1561.0 1288.7 L1561.5 1288.8 L1562.0 1289.1 L1562.5 1289.0 L1563.0 1288.9 L1563.5 1288.9 L1564.0 1288.8 L1564.5 1288.8 L1565.0 1288.8 L1565.5 1288.9 L1566.0 1288.8 L1566.5 1288.9 L1567.0 1288.9 L1567.5 1288.7 L1568.0 1288.9 L1568.5 1288.8 L1569.0 1289.0 L1569.5 1288.9 L1570.0 1289.0 L1570.5 1289.0 L1571.0 1288.6 L1571.5 1288.5 L1572.0 1288.4 L1572.5 1288.7 L1573.0 1288.5 L1573.5 1288.6 L1574.0 1288.8 L1574.5 1288.9 L1575.0 1289.0 L1575.5 1288.9 L1576.0 1288.9 L1576.5 1289.0 L1577.0 1289.0 L1580.0 1289.1 L1583.0 1289.1 L1586.0 1289.0 L1589.0 1288.9 L1592.0 1289.0 L1595.0 1288.7 L1598.0 1288.6 L1601.0 1288.6 L1604.0 1288.6 L1607.0 1288.6 L1610.0 1288.3 L1613.0 1288.4 L1616.0 1288.5 L1619.0 1288.6 L1622.0 1288.4 L1625.0 1288.5 L1628.0 1288.6 L1631.0 1288.7 L1634.0 1288.9 L1637.0 1289.1 L1640.0 1288.9 L1643.0 1289.0 L1646.0 1289.0 L1649.0 1288.9 L1652.0 1289.1 L1655.0 1289.0 L1658.0 1288.9 L1661.0 1288.8 L1664.0 1288.8 L1667.0 1288.9 L1670.0 1289.0 L1673.0 1289.2 L1676.0 1289.2 L1679.0 1289.1 L1682.0 1289.2 L1685.0 1289.1 L1688.0 1289.0 L1691.0 1289.0 L1694.0 1289.0 L1697.0 1289.2 L1700.0 1289.1 L1703.0 1289.1 L1706.0 1289.1 L1709.0 1288.9 L1712.0 1288.8 L1715.0 1288.8 L1718.0 1288.9 L1721.0 1288.9 L1724.0 1289.0 L1727.0 1289.0 L1730.0 1288.9 L1733.0 1289.0 L1736.0 1288.9 L1739.0 1288.7 L1742.0 1288.7 L1745.0 1288.6 L1748.0 1288.6 L1751.0 1288.5 L1754.0 1288.5 L1757.0 1288.6 L1760.0 1288.6 L1763.0 1288.6 L1766.0 1288.4 L1769.0 1288.5 L1772.0 1288.5 L1775.0 1288.6 L1778.0 1288.3 L1781.0 1288.3 L1784.0 1288.4 L1787.0 1288.2 L1790.0 1288.3 L1793.0 1288.4 L1796.0 1288.5 L1799.0 1288.4 L1802.0 1288.5 L1805.0 1288.6 L1808.0 1288.5 L1811.0 1288.7 L1814.0 1288.7 L1817.0 1288.8 L1820.0 1288.8 L1823.0 1288.9 L1826.0 1288.9 L1829.0 1289.1 L1832.0 1289.1 L1835.0 1289.0 L1838.0 1289.0 L1841.0 1289.1 L1844.0 1289.0 L1847.0 1289.1 L1850.0 1289.1 L1853.0 1289.1 L1856.0 1288.8 L1859.0 1288.8 L1862.0 1288.9 L1865.0 1288.9 L1868.0 1288.8 L1871.0 1289.0 L1874.0 1289.0 L1877.0 1288.9 L1880.0 1288.8 L1883.0 1288.9 L1886.0 1288.8 L1889.0 1288.7 L1892.0 1289.0 L1895.0 1289.2 L1898.0 1289.3 L1901.0 1289.4 L1904.0 1289.4 L1907.0 1289.1 L1910.0 1289.3 L1913.0 1289.4 L1916.0 1289.4 L1919.0 1289.1 L1922.0 1289.2 L1922.5 1289.4 L1923.0 1289.2 L1923.5 1289.2 L1924.0 1289.3 L1924.5 1289.2 L1925.0 1289.3 L1925.5 1289.3 L1926.0 1289.3 L1926.5 1289.3 L1927.0 1289.0 L1927.5 1288.9 L1928.0 1289.3 L1928.5 1289.3 L1929.0 1289.4 L1929.5 1289.5 L1930.0 1289.6 L1930.5 1289.6 L1931.0 1289.4 L1931.5 1289.4 L1932.0 1289.0 L1932.5 1289.0 L1933.0 1289.1 L1933.5 1288.8 L1934.0 1288.8 L1934.5 1289.0 L1935.0 1289.1 L1935.5 1289.0 L1936.0 1288.9 L1936.5 1288.6 L1937.0 1288.5 L1937.5 1288.6 L1938.0 1288.9 L1938.5 1288.7 L1939.0 1288.9 L1939.5 1288.9 L1940.0 1288.7 L1940.5 1288.9 L1941.0 1288.5 L1941.5 1288.4 L1942.0 1288.3 L1942.5 1288.5 L1943.0 1288.5 L1943.5 1288.6 L1944.0 1288.3 L1944.5 1288.1 L1945.0 1288.0 L1945.5 1287.7 L1946.0 1287.4 L1946.5 1287.0 L1947.0 1286.7 L1947.5 1286.2 L1948.0 1286.3 L1948.5 1286.0 L1949.0 1285.6 L1949.5 1285.5 L1950.0 1285.5 L1950.5 1285.5 L1951.0 1285.9 L1951.5 1285.9 L1952.0 1286.0 L1952.5 1286.1 L1953.0 1286.3 L1953.5 1286.5 L1954.0 1286.8 L1954.5 1287.4 L1955.0 1287.6 L1955.5 1287.7 L1956.0 1288.1 L1956.5 1288.4 L1957.0 1288.6 L1957.5 1288.7 L1958.0 1288.9 L1958.5 1289.0 L1959.0 1289.2 L1959.5 1289.3 L1960.0 1289.5 L1960.5 1289.3 L1961.0 1289.3 L1961.5 1289.1 L1962.0 1289.3 L1962.5 1289.3 L1963.0 1289.2 L1963.5 1289.3 L1964.0 1289.6 L1964.5 1289.6 L1965.0 1289.4 L1965.5 1289.3 L1966.0 1289.3 L1966.5 1289.3 L1967.0 1289.3 L1967.5 1289.4 L1968.0 1289.4 L1968.5 1289.2 L1969.0 1289.2 L1969.5 1289.2 L1970.0 1289.2 L1970.5 1289.1 L1971.0 1288.9 L1971.5 1288.7 L1972.0 1288.7 L1972.5 1288.6 L1973.0 1288.3 L1973.5 1288.6 L1974.0 1288.5 L1974.5 1288.4 L1975.0 1288.6 L1975.5 1288.3 L1976.0 1288.6 L1976.5 1288.6 L1977.0 1288.7 L1977.5 1288.7 L1978.0 1288.8 L1978.5 1288.8 L1979.0 1288.8 L1979.5 1288.6 L1980.0 1288.5 L1983.0 1288.6 L1986.0 1288.8 L1989.0 1288.8 L1992.0 1288.9 L1995.0 1288.9 L1998.0 1289.0" fill="none" stroke="#b438b4" stroke-width="4.4" stroke-linejoin="round"/>
<path d="M172.0 1439.1 L175.0 1438.9 L178.0 1439.0 L181.0 1438.9 L184.0 1438.9 L187.0 1438.8 L190.0 1438.7 L193.0 1438.6 L196.0 1438.5 L199.0 1438.9 L202.0 1439.2 L205.0 1439.2 L208.0 1439.2 L211.0 1439.1 L214.0 1438.7 L217.0 1438.5 L220.0 1438.6 L223.0 1438.8 L226.0 1438.9 L229.0 1438.7 L232.0 1438.8 L235.0 1438.7 L238.0 1438.5 L241.0 1438.6 L244.0 1438.6 L247.0 1438.5 L250.0 1438.5 L253.0 1438.4 L256.0 1438.6 L259.0 1438.8 L262.0 1438.8 L265.0 1439.1 L268.0 1438.9 L271.0 1438.9 L274.0 1438.8 L277.0 1438.8 L280.0 1438.9 L283.0 1438.9 L286.0 1439.1 L289.0 1439.0 L292.0 1438.8 L295.0 1438.8 L298.0 1438.9 L301.0 1438.8 L304.0 1439.0 L307.0 1439.2 L310.0 1439.0 L313.0 1439.0 L316.0 1439.2 L319.0 1438.9 L322.0 1438.9 L325.0 1438.9 L328.0 1438.7 L331.0 1438.9 L334.0 1439.0 L337.0 1438.9 L340.0 1439.0 L343.0 1439.1 L346.0 1439.2 L349.0 1439.2 L352.0 1439.2 L355.0 1439.0 L358.0 1439.0 L361.0 1439.0 L364.0 1438.6 L367.0 1439.0 L370.0 1438.9 L373.0 1438.8 L376.0 1438.6 L379.0 1438.7 L382.0 1438.7 L385.0 1438.7 L388.0 1438.7 L391.0 1438.6 L394.0 1438.6 L397.0 1438.6 L400.0 1438.6 L403.0 1438.7 L406.0 1438.8 L409.0 1438.8 L412.0 1438.9 L415.0 1439.1 L418.0 1439.1 L421.0 1439.1 L424.0 1439.1 L427.0 1439.0 L430.0 1438.9 L433.0 1439.0 L436.0 1439.1 L439.0 1439.0 L442.0 1438.8 L445.0 1438.6 L448.0 1438.7 L451.0 1438.9 L454.0 1439.0 L457.0 1438.8 L460.0 1438.8 L463.0 1438.9 L466.0 1438.8 L469.0 1438.8 L472.0 1438.8 L475.0 1438.7 L478.0 1438.6 L481.0 1438.8 L484.0 1438.9 L487.0 1438.8 L490.0 1438.7 L493.0 1438.8 L496.0 1438.9 L499.0 1438.9 L502.0 1439.1 L505.0 1439.1 L508.0 1438.9 L511.0 1439.1 L514.0 1439.0 L517.0 1439.1 L520.0 1439.1 L523.0 1438.9 L526.0 1438.8 L529.0 1438.8 L532.0 1439.0 L535.0 1438.9 L538.0 1439.1 L541.0 1439.1 L544.0 1438.9 L547.0 1439.0 L550.0 1439.0 L553.0 1438.9 L556.0 1438.6 L559.0 1438.7 L562.0 1438.6 L565.0 1438.7 L568.0 1438.5 L571.0 1438.6 L574.0 1438.5 L577.0 1438.4 L580.0 1438.4 L583.0 1438.5 L586.0 1438.5 L589.0 1438.4 L592.0 1438.5 L595.0 1438.4 L598.0 1438.5 L601.0 1438.6 L604.0 1438.7 L607.0 1438.3 L610.0 1436.9 L613.0 1436.5 L616.0 1437.9 L619.0 1438.6 L622.0 1439.0 L625.0 1439.1 L628.0 1439.0 L631.0 1438.9 L634.0 1439.1 L637.0 1439.1 L640.0 1438.9 L643.0 1439.0 L646.0 1439.2 L649.0 1439.2 L652.0 1439.2 L655.0 1439.1 L658.0 1439.0 L661.0 1439.1 L664.0 1439.5 L667.0 1439.4 L670.0 1439.3 L673.0 1439.3 L676.0 1439.2 L679.0 1439.2 L682.0 1439.2 L685.0 1439.0 L688.0 1438.8 L691.0 1438.7 L694.0 1438.7 L697.0 1438.7 L700.0 1438.7 L703.0 1438.4 L703.5 1438.4 L704.0 1438.2 L704.5 1438.2 L705.0 1438.2 L705.5 1438.1 L706.0 1438.0 L706.5 1437.8 L707.0 1437.9 L707.5 1437.7 L708.0 1437.6 L708.5 1437.7 L709.0 1437.6 L709.5 1437.7 L710.0 1437.6 L710.5 1437.6 L711.0 1437.6 L711.5 1437.4 L712.0 1437.3 L712.5 1437.1 L713.0 1437.0 L713.5 1436.9 L714.0 1437.0 L714.5 1436.8 L715.0 1436.9 L715.5 1436.8 L716.0 1436.4 L716.5 1435.9 L717.0 1435.8 L717.5 1435.4 L718.0 1435.3 L718.5 1435.1 L719.0 1434.9 L719.5 1434.5 L720.0 1434.0 L720.5 1433.6 L721.0 1432.9 L721.5 1432.2 L722.0 1431.3 L722.5 1430.4 L723.0 1429.0 L723.5 1427.2 L724.0 1424.6 L724.5 1421.2 L725.0 1416.6 L725.5 1410.7 L726.0 1403.2 L726.5 1393.6 L727.0 1381.9 L727.5 1368.5 L728.0 1353.6 L728.5 1338.6 L729.0 1325.2 L729.5 1315.6 L730.0 1311.7 L730.5 1315.1 L731.0 1324.9 L731.5 1338.4 L732.0 1353.8 L732.5 1368.6 L733.0 1382.0 L733.5 1393.9 L734.0 1403.6 L734.5 1411.5 L735.0 1417.4 L735.5 1421.8 L736.0 1425.1 L736.5 1427.4 L737.0 1429.1 L737.5 1430.4 L738.0 1431.5 L738.5 1432.4 L739.0 1433.0 L739.5 1433.6 L740.0 1434.1 L740.5 1434.6 L741.0 1434.6 L741.5 1435.0 L742.0 1435.3 L742.5 1435.5 L743.0 1435.9 L743.5 1436.1 L744.0 1436.5 L744.5 1436.8 L745.0 1437.0 L745.5 1437.1 L746.0 1437.0 L746.5 1437.1 L747.0 1437.1 L747.5 1437.3 L748.0 1437.3 L748.5 1437.8 L749.0 1437.6 L749.5 1437.8 L750.0 1437.8 L750.5 1437.8 L751.0 1438.0 L751.5 1438.0 L752.0 1437.9 L752.5 1438.0 L753.0 1438.0 L753.5 1437.8 L754.0 1437.9 L754.5 1437.8 L755.0 1437.8 L755.5 1437.9 L756.0 1438.0 L756.5 1438.1 L757.0 1438.4 L757.5 1438.5 L758.0 1438.4 L758.5 1438.4 L759.0 1438.4 L759.5 1438.1 L760.0 1438.0 L763.0 1438.0 L766.0 1438.4 L769.0 1438.5 L772.0 1438.5 L775.0 1438.5 L778.0 1438.7 L781.0 1438.7 L784.0 1439.0 L787.0 1439.1 L790.0 1439.3 L793.0 1439.2 L796.0 1439.2 L799.0 1439.1 L802.0 1439.1 L805.0 1438.8 L808.0 1438.8 L811.0 1438.7 L814.0 1438.6 L817.0 1438.8 L820.0 1438.9 L823.0 1439.0 L826.0 1439.1 L829.0 1439.2 L832.0 1439.3 L835.0 1439.2 L838.0 1439.2 L841.0 1439.1 L844.0 1439.0 L847.0 1439.1 L850.0 1439.3 L853.0 1439.0 L856.0 1439.1 L859.0 1439.1 L862.0 1438.8 L865.0 1438.6 L868.0 1438.4 L871.0 1438.1 L874.0 1437.7 L877.0 1437.2 L880.0 1436.8 L883.0 1436.5 L886.0 1436.2 L889.0 1435.7 L892.0 1435.4 L892.5 1435.1 L893.0 1435.0 L893.5 1435.0 L894.0 1435.0 L894.5 1434.9 L895.0 1434.9 L895.5 1434.8 L896.0 1434.9 L896.5 1434.5 L897.0 1434.4 L897.5 1434.6 L898.0 1434.5 L898.5 1434.2 L899.0 1434.1 L899.5 1433.8 L900.0 1433.7 L900.5 1433.7 L901.0 1433.8 L901.5 1433.8 L902.0 1433.8 L902.5 1433.8 L903.0 1433.7 L903.5 1433.5 L904.0 1433.4 L904.5 1433.3 L905.0 1433.2 L905.5 1433.0 L906.0 1432.9 L906.5 1432.6 L907.0 1432.4 L907.5 1432.3 L908.0 1432.2 L908.5 1432.1 L909.0 1432.3 L909.5 1432.2 L910.0 1432.1 L910.5 1431.8 L911.0 1431.6 L911.5 1431.5 L912.0 1431.3 L912.5 1431.1 L913.0 1430.6 L913.5 1430.1 L914.0 1429.4 L914.5 1428.5 L915.0 1426.9 L915.5 1424.8 L916.0 1422.1 L916.5 1418.6 L917.0 1414.4 L917.5 1409.0 L918.0 1402.8 L918.5 1396.1 L919.0 1389.3 L919.5 1382.9 L920.0 1377.8 L920.5 1374.6 L921.0 1374.7 L921.5 1377.6 L922.0 1382.6 L922.5 1388.8 L923.0 1395.9 L923.5 1402.9 L924.0 1409.1 L924.5 1414.8 L925.0 1419.5 L925.5 1423.5 L926.0 1426.9 L926.5 1429.5 L927.0 1431.1 L927.5 1432.7 L928.0 1433.8 L928.5 1434.5 L929.0 1435.2 L929.5 1435.8 L930.0 1436.1 L930.5 1436.4 L931.0 1436.5 L931.5 1436.9 L932.0 1436.8 L932.5 1437.1 L933.0 1437.1 L933.5 1437.4 L934.0 1437.3 L934.5 1437.3 L935.0 1437.3 L935.5 1437.6 L936.0 1437.5 L936.5 1437.7 L937.0 1437.7 L937.5 1437.9 L938.0 1438.0 L938.5 1438.1 L939.0 1438.1 L939.5 1438.4 L940.0 1438.4 L940.5 1438.4 L941.0 1438.6 L941.5 1438.6 L942.0 1438.7 L942.5 1438.6 L943.0 1438.6 L943.5 1438.3 L944.0 1438.4 L944.5 1438.3 L945.0 1438.2 L945.5 1438.1 L946.0 1438.3 L946.5 1438.4 L947.0 1438.2 L947.5 1438.5 L948.0 1438.5 L948.5 1438.5 L949.0 1438.5 L949.5 1438.4 L950.0 1438.2 L950.5 1438.2 L951.0 1438.5 L954.0 1438.7 L957.0 1438.5 L960.0 1438.7 L963.0 1438.8 L966.0 1438.9 L969.0 1438.9 L972.0 1439.0 L975.0 1438.8 L978.0 1438.7 L981.0 1438.7 L984.0 1438.7 L987.0 1438.8 L990.0 1438.7 L993.0 1438.9 L996.0 1438.8 L999.0 1438.8 L1002.0 1438.9 L1005.0 1439.0 L1008.0 1438.9 L1011.0 1438.8 L1014.0 1438.7 L1017.0 1438.5 L1020.0 1438.7 L1023.0 1438.9 L1026.0 1439.2 L1029.0 1439.2 L1032.0 1439.2 L1035.0 1439.3 L1038.0 1439.3 L1041.0 1439.1 L1044.0 1438.7 L1047.0 1438.4 L1050.0 1438.0 L1053.0 1438.2 L1056.0 1438.6 L1059.0 1438.9 L1062.0 1439.1 L1065.0 1439.1 L1068.0 1439.1 L1071.0 1439.1 L1074.0 1439.1 L1077.0 1439.0 L1080.0 1439.0 L1083.0 1439.0 L1086.0 1439.2 L1089.0 1439.4 L1092.0 1439.1 L1095.0 1439.2 L1098.0 1439.1 L1101.0 1439.2 L1104.0 1439.3 L1107.0 1439.4 L1110.0 1439.4 L1113.0 1439.2 L1116.0 1439.0 L1119.0 1439.2 L1122.0 1439.3 L1125.0 1439.2 L1128.0 1439.3 L1131.0 1439.3 L1134.0 1439.0 L1137.0 1439.1 L1140.0 1438.9 L1143.0 1439.1 L1146.0 1439.0 L1149.0 1438.9 L1152.0 1438.7 L1155.0 1438.7 L1158.0 1438.9 L1161.0 1438.8 L1164.0 1438.6 L1167.0 1438.9 L1170.0 1439.2 L1173.0 1439.3 L1176.0 1439.1 L1179.0 1439.0 L1182.0 1438.8 L1185.0 1438.9 L1188.0 1439.1 L1191.0 1438.9 L1194.0 1438.9 L1197.0 1438.9 L1200.0 1438.9 L1203.0 1439.0 L1206.0 1439.2 L1209.0 1439.1 L1212.0 1439.2 L1215.0 1439.3 L1218.0 1439.2 L1221.0 1439.2 L1224.0 1439.0 L1227.0 1439.1 L1230.0 1439.0 L1233.0 1438.9 L1236.0 1439.0 L1239.0 1438.9 L1242.0 1438.7 L1245.0 1438.7 L1248.0 1439.0 L1251.0 1438.9 L1254.0 1439.0 L1257.0 1438.8 L1260.0 1438.6 L1263.0 1438.9 L1266.0 1438.9 L1269.0 1438.7 L1272.0 1438.7 L1275.0 1438.8 L1278.0 1438.6 L1281.0 1438.6 L1284.0 1438.7 L1287.0 1438.6 L1290.0 1438.8 L1293.0 1438.9 L1296.0 1439.0 L1299.0 1438.9 L1302.0 1438.9 L1305.0 1438.9 L1308.0 1438.9 L1311.0 1438.9 L1314.0 1438.9 L1317.0 1439.0 L1320.0 1439.4 L1323.0 1439.2 L1326.0 1439.3 L1329.0 1439.3 L1332.0 1439.4 L1335.0 1439.3 L1338.0 1439.2 L1341.0 1439.3 L1344.0 1439.3 L1347.0 1439.3 L1350.0 1439.2 L1353.0 1439.2 L1356.0 1439.3 L1359.0 1439.2 L1362.0 1439.3 L1365.0 1439.5 L1368.0 1439.2 L1371.0 1439.2 L1374.0 1439.1 L1377.0 1438.9 L1380.0 1438.9 L1383.0 1438.9 L1386.0 1439.0 L1389.0 1438.8 L1392.0 1438.7 L1395.0 1438.6 L1398.0 1438.7 L1401.0 1438.6 L1404.0 1438.5 L1407.0 1438.8 L1410.0 1438.7 L1413.0 1438.7 L1416.0 1438.7 L1419.0 1438.7 L1422.0 1438.7 L1425.0 1438.7 L1428.0 1438.8 L1431.0 1438.7 L1434.0 1438.6 L1437.0 1438.9 L1440.0 1438.9 L1443.0 1439.0 L1446.0 1439.2 L1449.0 1439.2 L1452.0 1439.2 L1455.0 1438.9 L1458.0 1438.7 L1461.0 1438.9 L1464.0 1439.0 L1467.0 1439.1 L1470.0 1438.8 L1473.0 1438.6 L1476.0 1438.5 L1479.0 1438.4 L1482.0 1438.5 L1485.0 1438.5 L1488.0 1438.7 L1491.0 1438.7 L1494.0 1438.7 L1497.0 1438.8 L1500.0 1438.9 L1503.0 1438.8 L1506.0 1438.9 L1509.0 1439.2 L1512.0 1438.9 L1515.0 1438.9 L1518.0 1438.7 L1518.5 1438.5 L1519.0 1438.7 L1519.5 1438.8 L1520.0 1438.9 L1520.5 1439.0 L1521.0 1438.7 L1521.5 1438.7 L1522.0 1438.6 L1522.5 1438.5 L1523.0 1438.4 L1523.5 1438.6 L1524.0 1438.6 L1524.5 1438.9 L1525.0 1438.9 L1525.5 1438.7 L1526.0 1438.8 L1526.5 1438.9 L1527.0 1438.9 L1527.5 1438.7 L1528.0 1439.0 L1528.5 1438.8 L1529.0 1438.7 L1529.5 1438.5 L1530.0 1438.3 L1530.5 1438.2 L1531.0 1438.4 L1531.5 1438.6 L1532.0 1438.5 L1532.5 1438.3 L1533.0 1438.3 L1533.5 1438.4 L1534.0 1438.2 L1534.5 1438.0 L1535.0 1438.0 L1535.5 1438.1 L1536.0 1438.1 L1536.5 1438.0 L1537.0 1437.7 L1537.5 1437.2 L1538.0 1437.1 L1538.5 1436.7 L1539.0 1436.4 L1539.5 1435.8 L1540.0 1435.3 L1540.5 1434.5 L1541.0 1433.9 L1541.5 1432.9 L1542.0 1431.8 L1542.5 1430.7 L1543.0 1429.5 L1543.5 1428.3 L1544.0 1426.8 L1544.5 1425.5 L1545.0 1424.9 L1545.5 1424.2 L1546.0 1424.0 L1546.5 1424.0 L1547.0 1424.3 L1547.5 1424.9 L1548.0 1425.8 L1548.5 1427.1 L1549.0 1428.4 L1549.5 1429.9 L1550.0 1431.2 L1550.5 1432.6 L1551.0 1433.7 L1551.5 1434.5 L1552.0 1435.5 L1552.5 1436.2 L1553.0 1436.9 L1553.5 1437.4 L1554.0 1437.6 L1554.5 1437.9 L1555.0 1438.0 L1555.5 1438.0 L1556.0 1438.0 L1556.5 1438.1 L1557.0 1438.0 L1557.5 1438.1 L1558.0 1438.3 L1558.5 1438.6 L1559.0 1438.9 L1559.5 1438.9 L1560.0 1439.0 L1560.5 1438.9 L1561.0 1439.0 L1561.5 1438.9 L1562.0 1438.8 L1562.5 1438.8 L1563.0 1438.7 L1563.5 1438.7 L1564.0 1438.7 L1564.5 1438.6 L1565.0 1438.6 L1565.5 1438.7 L1566.0 1438.6 L1566.5 1438.7 L1567.0 1438.8 L1567.5 1439.0 L1568.0 1438.9 L1568.5 1438.9 L1569.0 1438.9 L1569.5 1439.1 L1570.0 1439.1 L1570.5 1439.2 L1571.0 1439.0 L1571.5 1438.9 L1572.0 1439.1 L1572.5 1439.0 L1573.0 1439.3 L1573.5 1439.2 L1574.0 1439.1 L1574.5 1438.8 L1575.0 1438.9 L1575.5 1439.0 L1576.0 1439.2 L1576.5 1439.2 L1579.5 1439.2 L1582.5 1438.9 L1585.5 1438.9 L1588.5 1439.1 L1591.5 1439.2 L1594.5 1439.3 L1597.5 1439.4 L1600.5 1439.3 L1603.5 1439.3 L1606.5 1439.3 L1609.5 1439.1 L1612.5 1439.3 L1615.5 1439.3 L1618.5 1439.1 L1621.5 1439.1 L1624.5 1439.2 L1627.5 1439.3 L1630.5 1439.4 L1633.5 1439.0 L1636.5 1439.0 L1639.5 1439.2 L1642.5 1439.1 L1645.5 1438.8 L1648.5 1438.9 L1651.5 1438.9 L1654.5 1439.0 L1657.5 1438.8 L1660.5 1438.8 L1663.5 1438.9 L1666.5 1439.0 L1669.5 1439.3 L1672.5 1439.3 L1675.5 1439.1 L1678.5 1438.8 L1681.5 1439.0 L1684.5 1439.0 L1687.5 1439.0 L1690.5 1438.8 L1693.5 1439.0 L1696.5 1438.7 L1699.5 1438.8 L1702.5 1438.8 L1705.5 1438.9 L1708.5 1439.1 L1711.5 1439.1 L1714.5 1439.1 L1717.5 1439.2 L1720.5 1438.9 L1723.5 1438.9 L1726.5 1438.9 L1729.5 1439.1 L1732.5 1438.9 L1735.5 1439.1 L1738.5 1439.1 L1741.5 1438.9 L1744.5 1438.7 L1747.5 1438.6 L1750.5 1438.6 L1753.5 1438.7 L1756.5 1438.9 L1759.5 1439.0 L1762.5 1438.9 L1765.5 1439.1 L1768.5 1439.2 L1771.5 1439.2 L1774.5 1439.2 L1777.5 1439.0 L1780.5 1439.1 L1783.5 1438.9 L1786.5 1438.8 L1789.5 1438.8 L1792.5 1438.8 L1795.5 1438.8 L1798.5 1438.8 L1801.5 1438.7 L1804.5 1438.8 L1807.5 1438.7 L1810.5 1438.6 L1813.5 1438.6 L1816.5 1438.9 L1819.5 1438.9 L1822.5 1438.7 L1825.5 1439.0 L1828.5 1439.2 L1831.5 1439.1 L1834.5 1439.1 L1837.5 1439.1 L1840.5 1439.5 L1843.5 1439.4 L1846.5 1439.5 L1849.5 1439.5 L1852.5 1439.2 L1855.5 1439.0 L1858.5 1438.8 L1861.5 1438.9 L1864.5 1438.9 L1867.5 1439.2 L1870.5 1439.1 L1873.5 1439.1 L1876.5 1439.1 L1879.5 1439.1 L1882.5 1439.4 L1885.5 1439.4 L1888.5 1439.5 L1891.5 1439.6 L1894.5 1439.4 L1897.5 1439.5 L1900.5 1439.3 L1903.5 1439.3 L1906.5 1439.3 L1909.5 1439.2 L1912.5 1439.1 L1915.5 1439.3 L1918.5 1439.2 L1921.5 1439.3 L1922.0 1439.5 L1922.5 1439.5 L1923.0 1439.5 L1923.5 1439.6 L1924.0 1439.7 L1924.5 1439.8 L1925.0 1439.5 L1925.5 1439.7 L1926.0 1439.6 L1926.5 1439.2 L1927.0 1439.1 L1927.5 1438.9 L1928.0 1438.9 L1928.5 1438.7 L1929.0 1438.6 L1929.5 1438.7 L1930.0 1438.8 L1930.5 1438.7 L1931.0 1438.7 L1931.5 1438.7 L1932.0 1438.8 L1932.5 1438.8 L1933.0 1438.8 L1933.5 1438.9 L1934.0 1438.7 L1934.5 1438.7 L1935.0 1438.7 L1935.5 1438.7 L1936.0 1438.6 L1936.5 1438.6 L1937.0 1438.7 L1937.5 1438.8 L1938.0 1438.8 L1938.5 1438.7 L1939.0 1438.8 L1939.5 1438.7 L1940.0 1438.4 L1940.5 1438.4 L1941.0 1438.3 L1941.5 1438.2 L1942.0 1438.2 L1942.5 1438.1 L1943.0 1437.9 L1943.5 1437.4 L1944.0 1437.1 L1944.5 1437.0 L1945.0 1436.8 L1945.5 1436.7 L1946.0 1436.5 L1946.5 1436.3 L1947.0 1435.9 L1947.5 1435.6 L1948.0 1435.5 L1948.5 1435.2 L1949.0 1435.3 L1949.5 1435.1 L1950.0 1434.9 L1950.5 1435.0 L1951.0 1434.9 L1951.5 1435.3 L1952.0 1435.4 L1952.5 1435.7 L1953.0 1435.9 L1953.5 1436.1 L1954.0 1436.2 L1954.5 1436.2 L1955.0 1436.7 L1955.5 1437.2 L1956.0 1437.7 L1956.5 1437.7 L1957.0 1438.0 L1957.5 1438.1 L1958.0 1438.4 L1958.5 1438.4 L1959.0 1438.6 L1959.5 1438.8 L1960.0 1438.9 L1960.5 1439.1 L1961.0 1439.1 L1961.5 1439.3 L1962.0 1439.2 L1962.5 1439.4 L1963.0 1438.9 L1963.5 1438.9 L1964.0 1438.8 L1964.5 1438.9 L1965.0 1439.0 L1965.5 1439.1 L1966.0 1439.1 L1966.5 1439.3 L1967.0 1439.1 L1967.5 1438.9 L1968.0 1439.1 L1968.5 1439.2 L1969.0 1438.8 L1969.5 1438.9 L1970.0 1438.8 L1970.5 1439.0 L1971.0 1439.1 L1971.5 1439.0 L1972.0 1439.2 L1972.5 1439.1 L1973.0 1439.2 L1973.5 1439.2 L1974.0 1439.2 L1974.5 1438.9 L1975.0 1438.9 L1975.5 1438.6 L1976.0 1438.6 L1976.5 1438.4 L1977.0 1438.7 L1977.5 1438.6 L1978.0 1438.3 L1978.5 1438.5 L1979.0 1438.6 L1979.5 1438.6 L1980.0 1438.9 L1983.0 1439.1 L1986.0 1439.1 L1989.0 1439.0 L1992.0 1438.6 L1995.0 1438.7 L1998.0 1438.9" fill="none" stroke="#d8f0f0" stroke-width="7.9" stroke-linejoin="round"/>
<path d="M172.0 1439.1 L175.0 1438.9 L178.0 1439.0 L181.0 1438.9 L184.0 1438.9 L187.0 1438.8 L190.0 1438.7 L193.0 1438.6 L196.0 1438.5 L199.0 1438.9 L202.0 1439.2 L205.0 1439.2 L208.0 1439.2 L211.0 1439.1 L214.0 1438.7 L217.0 1438.5 L220.0 1438.6 L223.0 1438.8 L226.0 1438.9 L229.0 1438.7 L232.0 1438.8 L235.0 1438.7 L238.0 1438.5 L241.0 1438.6 L244.0 1438.6 L247.0 1438.5 L250.0 1438.5 L253.0 1438.4 L256.0 1438.6 L259.0 1438.8 L262.0 1438.8 L265.0 1439.1 L268.0 1438.9 L271.0 1438.9 L274.0 1438.8 L277.0 1438.8 L280.0 1438.9 L283.0 1438.9 L286.0 1439.1 L289.0 1439.0 L292.0 1438.8 L295.0 1438.8 L298.0 1438.9 L301.0 1438.8 L304.0 1439.0 L307.0 1439.2 L310.0 1439.0 L313.0 1439.0 L316.0 1439.2 L319.0 1438.9 L322.0 1438.9 L325.0 1438.9 L328.0 1438.7 L331.0 1438.9 L334.0 1439.0 L337.0 1438.9 L340.0 1439.0 L343.0 1439.1 L346.0 1439.2 L349.0 1439.2 L352.0 1439.2 L355.0 1439.0 L358.0 1439.0 L361.0 1439.0 L364.0 1438.6 L367.0 1439.0 L370.0 1438.9 L373.0 1438.8 L376.0 1438.6 L379.0 1438.7 L382.0 1438.7 L385.0 1438.7 L388.0 1438.7 L391.0 1438.6 L394.0 1438.6 L397.0 1438.6 L400.0 1438.6 L403.0 1438.7 L406.0 1438.8 L409.0 1438.8 L412.0 1438.9 L415.0 1439.1 L418.0 1439.1 L421.0 1439.1 L424.0 1439.1 L427.0 1439.0 L430.0 1438.9 L433.0 1439.0 L436.0 1439.1 L439.0 1439.0 L442.0 1438.8 L445.0 1438.6 L448.0 1438.7 L451.0 1438.9 L454.0 1439.0 L457.0 1438.8 L460.0 1438.8 L463.0 1438.9 L466.0 1438.8 L469.0 1438.8 L472.0 1438.8 L475.0 1438.7 L478.0 1438.6 L481.0 1438.8 L484.0 1438.9 L487.0 1438.8 L490.0 1438.7 L493.0 1438.8 L496.0 1438.9 L499.0 1438.9 L502.0 1439.1 L505.0 1439.1 L508.0 1438.9 L511.0 1439.1 L514.0 1439.0 L517.0 1439.1 L520.0 1439.1 L523.0 1438.9 L526.0 1438.8 L529.0 1438.8 L532.0 1439.0 L535.0 1438.9 L538.0 1439.1 L541.0 1439.1 L544.0 1438.9 L547.0 1439.0 L550.0 1439.0 L553.0 1438.9 L556.0 1438.6 L559.0 1438.7 L562.0 1438.6 L565.0 1438.7 L568.0 1438.5 L571.0 1438.6 L574.0 1438.5 L577.0 1438.4 L580.0 1438.4 L583.0 1438.5 L586.0 1438.5 L589.0 1438.4 L592.0 1438.5 L595.0 1438.4 L598.0 1438.5 L601.0 1438.6 L604.0 1438.7 L607.0 1438.3 L610.0 1436.9 L613.0 1436.5 L616.0 1437.9 L619.0 1438.6 L622.0 1439.0 L625.0 1439.1 L628.0 1439.0 L631.0 1438.9 L634.0 1439.1 L637.0 1439.1 L640.0 1438.9 L643.0 1439.0 L646.0 1439.2 L649.0 1439.2 L652.0 1439.2 L655.0 1439.1 L658.0 1439.0 L661.0 1439.1 L664.0 1439.5 L667.0 1439.4 L670.0 1439.3 L673.0 1439.3 L676.0 1439.2 L679.0 1439.2 L682.0 1439.2 L685.0 1439.0 L688.0 1438.8 L691.0 1438.7 L694.0 1438.7 L697.0 1438.7 L700.0 1438.7 L703.0 1438.4 L703.5 1438.4 L704.0 1438.2 L704.5 1438.2 L705.0 1438.2 L705.5 1438.1 L706.0 1438.0 L706.5 1437.8 L707.0 1437.9 L707.5 1437.7 L708.0 1437.6 L708.5 1437.7 L709.0 1437.6 L709.5 1437.7 L710.0 1437.6 L710.5 1437.6 L711.0 1437.6 L711.5 1437.4 L712.0 1437.3 L712.5 1437.1 L713.0 1437.0 L713.5 1436.9 L714.0 1437.0 L714.5 1436.8 L715.0 1436.9 L715.5 1436.8 L716.0 1436.4 L716.5 1435.9 L717.0 1435.8 L717.5 1435.4 L718.0 1435.3 L718.5 1435.1 L719.0 1434.9 L719.5 1434.5 L720.0 1434.0 L720.5 1433.6 L721.0 1432.9 L721.5 1432.2 L722.0 1431.3 L722.5 1430.4 L723.0 1429.0 L723.5 1427.2 L724.0 1424.6 L724.5 1421.2 L725.0 1416.6 L725.5 1410.7 L726.0 1403.2 L726.5 1393.6 L727.0 1381.9 L727.5 1368.5 L728.0 1353.6 L728.5 1338.6 L729.0 1325.2 L729.5 1315.6 L730.0 1311.7 L730.5 1315.1 L731.0 1324.9 L731.5 1338.4 L732.0 1353.8 L732.5 1368.6 L733.0 1382.0 L733.5 1393.9 L734.0 1403.6 L734.5 1411.5 L735.0 1417.4 L735.5 1421.8 L736.0 1425.1 L736.5 1427.4 L737.0 1429.1 L737.5 1430.4 L738.0 1431.5 L738.5 1432.4 L739.0 1433.0 L739.5 1433.6 L740.0 1434.1 L740.5 1434.6 L741.0 1434.6 L741.5 1435.0 L742.0 1435.3 L742.5 1435.5 L743.0 1435.9 L743.5 1436.1 L744.0 1436.5 L744.5 1436.8 L745.0 1437.0 L745.5 1437.1 L746.0 1437.0 L746.5 1437.1 L747.0 1437.1 L747.5 1437.3 L748.0 1437.3 L748.5 1437.8 L749.0 1437.6 L749.5 1437.8 L750.0 1437.8 L750.5 1437.8 L751.0 1438.0 L751.5 1438.0 L752.0 1437.9 L752.5 1438.0 L753.0 1438.0 L753.5 1437.8 L754.0 1437.9 L754.5 1437.8 L755.0 1437.8 L755.5 1437.9 L756.0 1438.0 L756.5 1438.1 L757.0 1438.4 L757.5 1438.5 L758.0 1438.4 L758.5 1438.4 L759.0 1438.4 L759.5 1438.1 L760.0 1438.0 L763.0 1438.0 L766.0 1438.4 L769.0 1438.5 L772.0 1438.5 L775.0 1438.5 L778.0 1438.7 L781.0 1438.7 L784.0 1439.0 L787.0 1439.1 L790.0 1439.3 L793.0 1439.2 L796.0 1439.2 L799.0 1439.1 L802.0 1439.1 L805.0 1438.8 L808.0 1438.8 L811.0 1438.7 L814.0 1438.6 L817.0 1438.8 L820.0 1438.9 L823.0 1439.0 L826.0 1439.1 L829.0 1439.2 L832.0 1439.3 L835.0 1439.2 L838.0 1439.2 L841.0 1439.1 L844.0 1439.0 L847.0 1439.1 L850.0 1439.3 L853.0 1439.0 L856.0 1439.1 L859.0 1439.1 L862.0 1438.8 L865.0 1438.6 L868.0 1438.4 L871.0 1438.1 L874.0 1437.7 L877.0 1437.2 L880.0 1436.8 L883.0 1436.5 L886.0 1436.2 L889.0 1435.7 L892.0 1435.4 L892.5 1435.1 L893.0 1435.0 L893.5 1435.0 L894.0 1435.0 L894.5 1434.9 L895.0 1434.9 L895.5 1434.8 L896.0 1434.9 L896.5 1434.5 L897.0 1434.4 L897.5 1434.6 L898.0 1434.5 L898.5 1434.2 L899.0 1434.1 L899.5 1433.8 L900.0 1433.7 L900.5 1433.7 L901.0 1433.8 L901.5 1433.8 L902.0 1433.8 L902.5 1433.8 L903.0 1433.7 L903.5 1433.5 L904.0 1433.4 L904.5 1433.3 L905.0 1433.2 L905.5 1433.0 L906.0 1432.9 L906.5 1432.6 L907.0 1432.4 L907.5 1432.3 L908.0 1432.2 L908.5 1432.1 L909.0 1432.3 L909.5 1432.2 L910.0 1432.1 L910.5 1431.8 L911.0 1431.6 L911.5 1431.5 L912.0 1431.3 L912.5 1431.1 L913.0 1430.6 L913.5 1430.1 L914.0 1429.4 L914.5 1428.5 L915.0 1426.9 L915.5 1424.8 L916.0 1422.1 L916.5 1418.6 L917.0 1414.4 L917.5 1409.0 L918.0 1402.8 L918.5 1396.1 L919.0 1389.3 L919.5 1382.9 L920.0 1377.8 L920.5 1374.6 L921.0 1374.7 L921.5 1377.6 L922.0 1382.6 L922.5 1388.8 L923.0 1395.9 L923.5 1402.9 L924.0 1409.1 L924.5 1414.8 L925.0 1419.5 L925.5 1423.5 L926.0 1426.9 L926.5 1429.5 L927.0 1431.1 L927.5 1432.7 L928.0 1433.8 L928.5 1434.5 L929.0 1435.2 L929.5 1435.8 L930.0 1436.1 L930.5 1436.4 L931.0 1436.5 L931.5 1436.9 L932.0 1436.8 L932.5 1437.1 L933.0 1437.1 L933.5 1437.4 L934.0 1437.3 L934.5 1437.3 L935.0 1437.3 L935.5 1437.6 L936.0 1437.5 L936.5 1437.7 L937.0 1437.7 L937.5 1437.9 L938.0 1438.0 L938.5 1438.1 L939.0 1438.1 L939.5 1438.4 L940.0 1438.4 L940.5 1438.4 L941.0 1438.6 L941.5 1438.6 L942.0 1438.7 L942.5 1438.6 L943.0 1438.6 L943.5 1438.3 L944.0 1438.4 L944.5 1438.3 L945.0 1438.2 L945.5 1438.1 L946.0 1438.3 L946.5 1438.4 L947.0 1438.2 L947.5 1438.5 L948.0 1438.5 L948.5 1438.5 L949.0 1438.5 L949.5 1438.4 L950.0 1438.2 L950.5 1438.2 L951.0 1438.5 L954.0 1438.7 L957.0 1438.5 L960.0 1438.7 L963.0 1438.8 L966.0 1438.9 L969.0 1438.9 L972.0 1439.0 L975.0 1438.8 L978.0 1438.7 L981.0 1438.7 L984.0 1438.7 L987.0 1438.8 L990.0 1438.7 L993.0 1438.9 L996.0 1438.8 L999.0 1438.8 L1002.0 1438.9 L1005.0 1439.0 L1008.0 1438.9 L1011.0 1438.8 L1014.0 1438.7 L1017.0 1438.5 L1020.0 1438.7 L1023.0 1438.9 L1026.0 1439.2 L1029.0 1439.2 L1032.0 1439.2 L1035.0 1439.3 L1038.0 1439.3 L1041.0 1439.1 L1044.0 1438.7 L1047.0 1438.4 L1050.0 1438.0 L1053.0 1438.2 L1056.0 1438.6 L1059.0 1438.9 L1062.0 1439.1 L1065.0 1439.1 L1068.0 1439.1 L1071.0 1439.1 L1074.0 1439.1 L1077.0 1439.0 L1080.0 1439.0 L1083.0 1439.0 L1086.0 1439.2 L1089.0 1439.4 L1092.0 1439.1 L1095.0 1439.2 L1098.0 1439.1 L1101.0 1439.2 L1104.0 1439.3 L1107.0 1439.4 L1110.0 1439.4 L1113.0 1439.2 L1116.0 1439.0 L1119.0 1439.2 L1122.0 1439.3 L1125.0 1439.2 L1128.0 1439.3 L1131.0 1439.3 L1134.0 1439.0 L1137.0 1439.1 L1140.0 1438.9 L1143.0 1439.1 L1146.0 1439.0 L1149.0 1438.9 L1152.0 1438.7 L1155.0 1438.7 L1158.0 1438.9 L1161.0 1438.8 L1164.0 1438.6 L1167.0 1438.9 L1170.0 1439.2 L1173.0 1439.3 L1176.0 1439.1 L1179.0 1439.0 L1182.0 1438.8 L1185.0 1438.9 L1188.0 1439.1 L1191.0 1438.9 L1194.0 1438.9 L1197.0 1438.9 L1200.0 1438.9 L1203.0 1439.0 L1206.0 1439.2 L1209.0 1439.1 L1212.0 1439.2 L1215.0 1439.3 L1218.0 1439.2 L1221.0 1439.2 L1224.0 1439.0 L1227.0 1439.1 L1230.0 1439.0 L1233.0 1438.9 L1236.0 1439.0 L1239.0 1438.9 L1242.0 1438.7 L1245.0 1438.7 L1248.0 1439.0 L1251.0 1438.9 L1254.0 1439.0 L1257.0 1438.8 L1260.0 1438.6 L1263.0 1438.9 L1266.0 1438.9 L1269.0 1438.7 L1272.0 1438.7 L1275.0 1438.8 L1278.0 1438.6 L1281.0 1438.6 L1284.0 1438.7 L1287.0 1438.6 L1290.0 1438.8 L1293.0 1438.9 L1296.0 1439.0 L1299.0 1438.9 L1302.0 1438.9 L1305.0 1438.9 L1308.0 1438.9 L1311.0 1438.9 L1314.0 1438.9 L1317.0 1439.0 L1320.0 1439.4 L1323.0 1439.2 L1326.0 1439.3 L1329.0 1439.3 L1332.0 1439.4 L1335.0 1439.3 L1338.0 1439.2 L1341.0 1439.3 L1344.0 1439.3 L1347.0 1439.3 L1350.0 1439.2 L1353.0 1439.2 L1356.0 1439.3 L1359.0 1439.2 L1362.0 1439.3 L1365.0 1439.5 L1368.0 1439.2 L1371.0 1439.2 L1374.0 1439.1 L1377.0 1438.9 L1380.0 1438.9 L1383.0 1438.9 L1386.0 1439.0 L1389.0 1438.8 L1392.0 1438.7 L1395.0 1438.6 L1398.0 1438.7 L1401.0 1438.6 L1404.0 1438.5 L1407.0 1438.8 L1410.0 1438.7 L1413.0 1438.7 L1416.0 1438.7 L1419.0 1438.7 L1422.0 1438.7 L1425.0 1438.7 L1428.0 1438.8 L1431.0 1438.7 L1434.0 1438.6 L1437.0 1438.9 L1440.0 1438.9 L1443.0 1439.0 L1446.0 1439.2 L1449.0 1439.2 L1452.0 1439.2 L1455.0 1438.9 L1458.0 1438.7 L1461.0 1438.9 L1464.0 1439.0 L1467.0 1439.1 L1470.0 1438.8 L1473.0 1438.6 L1476.0 1438.5 L1479.0 1438.4 L1482.0 1438.5 L1485.0 1438.5 L1488.0 1438.7 L1491.0 1438.7 L1494.0 1438.7 L1497.0 1438.8 L1500.0 1438.9 L1503.0 1438.8 L1506.0 1438.9 L1509.0 1439.2 L1512.0 1438.9 L1515.0 1438.9 L1518.0 1438.7 L1518.5 1438.5 L1519.0 1438.7 L1519.5 1438.8 L1520.0 1438.9 L1520.5 1439.0 L1521.0 1438.7 L1521.5 1438.7 L1522.0 1438.6 L1522.5 1438.5 L1523.0 1438.4 L1523.5 1438.6 L1524.0 1438.6 L1524.5 1438.9 L1525.0 1438.9 L1525.5 1438.7 L1526.0 1438.8 L1526.5 1438.9 L1527.0 1438.9 L1527.5 1438.7 L1528.0 1439.0 L1528.5 1438.8 L1529.0 1438.7 L1529.5 1438.5 L1530.0 1438.3 L1530.5 1438.2 L1531.0 1438.4 L1531.5 1438.6 L1532.0 1438.5 L1532.5 1438.3 L1533.0 1438.3 L1533.5 1438.4 L1534.0 1438.2 L1534.5 1438.0 L1535.0 1438.0 L1535.5 1438.1 L1536.0 1438.1 L1536.5 1438.0 L1537.0 1437.7 L1537.5 1437.2 L1538.0 1437.1 L1538.5 1436.7 L1539.0 1436.4 L1539.5 1435.8 L1540.0 1435.3 L1540.5 1434.5 L1541.0 1433.9 L1541.5 1432.9 L1542.0 1431.8 L1542.5 1430.7 L1543.0 1429.5 L1543.5 1428.3 L1544.0 1426.8 L1544.5 1425.5 L1545.0 1424.9 L1545.5 1424.2 L1546.0 1424.0 L1546.5 1424.0 L1547.0 1424.3 L1547.5 1424.9 L1548.0 1425.8 L1548.5 1427.1 L1549.0 1428.4 L1549.5 1429.9 L1550.0 1431.2 L1550.5 1432.6 L1551.0 1433.7 L1551.5 1434.5 L1552.0 1435.5 L1552.5 1436.2 L1553.0 1436.9 L1553.5 1437.4 L1554.0 1437.6 L1554.5 1437.9 L1555.0 1438.0 L1555.5 1438.0 L1556.0 1438.0 L1556.5 1438.1 L1557.0 1438.0 L1557.5 1438.1 L1558.0 1438.3 L1558.5 1438.6 L1559.0 1438.9 L1559.5 1438.9 L1560.0 1439.0 L1560.5 1438.9 L1561.0 1439.0 L1561.5 1438.9 L1562.0 1438.8 L1562.5 1438.8 L1563.0 1438.7 L1563.5 1438.7 L1564.0 1438.7 L1564.5 1438.6 L1565.0 1438.6 L1565.5 1438.7 L1566.0 1438.6 L1566.5 1438.7 L1567.0 1438.8 L1567.5 1439.0 L1568.0 1438.9 L1568.5 1438.9 L1569.0 1438.9 L1569.5 1439.1 L1570.0 1439.1 L1570.5 1439.2 L1571.0 1439.0 L1571.5 1438.9 L1572.0 1439.1 L1572.5 1439.0 L1573.0 1439.3 L1573.5 1439.2 L1574.0 1439.1 L1574.5 1438.8 L1575.0 1438.9 L1575.5 1439.0 L1576.0 1439.2 L1576.5 1439.2 L1579.5 1439.2 L1582.5 1438.9 L1585.5 1438.9 L1588.5 1439.1 L1591.5 1439.2 L1594.5 1439.3 L1597.5 1439.4 L1600.5 1439.3 L1603.5 1439.3 L1606.5 1439.3 L1609.5 1439.1 L1612.5 1439.3 L1615.5 1439.3 L1618.5 1439.1 L1621.5 1439.1 L1624.5 1439.2 L1627.5 1439.3 L1630.5 1439.4 L1633.5 1439.0 L1636.5 1439.0 L1639.5 1439.2 L1642.5 1439.1 L1645.5 1438.8 L1648.5 1438.9 L1651.5 1438.9 L1654.5 1439.0 L1657.5 1438.8 L1660.5 1438.8 L1663.5 1438.9 L1666.5 1439.0 L1669.5 1439.3 L1672.5 1439.3 L1675.5 1439.1 L1678.5 1438.8 L1681.5 1439.0 L1684.5 1439.0 L1687.5 1439.0 L1690.5 1438.8 L1693.5 1439.0 L1696.5 1438.7 L1699.5 1438.8 L1702.5 1438.8 L1705.5 1438.9 L1708.5 1439.1 L1711.5 1439.1 L1714.5 1439.1 L1717.5 1439.2 L1720.5 1438.9 L1723.5 1438.9 L1726.5 1438.9 L1729.5 1439.1 L1732.5 1438.9 L1735.5 1439.1 L1738.5 1439.1 L1741.5 1438.9 L1744.5 1438.7 L1747.5 1438.6 L1750.5 1438.6 L1753.5 1438.7 L1756.5 1438.9 L1759.5 1439.0 L1762.5 1438.9 L1765.5 1439.1 L1768.5 1439.2 L1771.5 1439.2 L1774.5 1439.2 L1777.5 1439.0 L1780.5 1439.1 L1783.5 1438.9 L1786.5 1438.8 L1789.5 1438.8 L1792.5 1438.8 L1795.5 1438.8 L1798.5 1438.8 L1801.5 1438.7 L1804.5 1438.8 L1807.5 1438.7 L1810.5 1438.6 L1813.5 1438.6 L1816.5 1438.9 L1819.5 1438.9 L1822.5 1438.7 L1825.5 1439.0 L1828.5 1439.2 L1831.5 1439.1 L1834.5 1439.1 L1837.5 1439.1 L1840.5 1439.5 L1843.5 1439.4 L1846.5 1439.5 L1849.5 1439.5 L1852.5 1439.2 L1855.5 1439.0 L1858.5 1438.8 L1861.5 1438.9 L1864.5 1438.9 L1867.5 1439.2 L1870.5 1439.1 L1873.5 1439.1 L1876.5 1439.1 L1879.5 1439.1 L1882.5 1439.4 L1885.5 1439.4 L1888.5 1439.5 L1891.5 1439.6 L1894.5 1439.4 L1897.5 1439.5 L1900.5 1439.3 L1903.5 1439.3 L1906.5 1439.3 L1909.5 1439.2 L1912.5 1439.1 L1915.5 1439.3 L1918.5 1439.2 L1921.5 1439.3 L1922.0 1439.5 L1922.5 1439.5 L1923.0 1439.5 L1923.5 1439.6 L1924.0 1439.7 L1924.5 1439.8 L1925.0 1439.5 L1925.5 1439.7 L1926.0 1439.6 L1926.5 1439.2 L1927.0 1439.1 L1927.5 1438.9 L1928.0 1438.9 L1928.5 1438.7 L1929.0 1438.6 L1929.5 1438.7 L1930.0 1438.8 L1930.5 1438.7 L1931.0 1438.7 L1931.5 1438.7 L1932.0 1438.8 L1932.5 1438.8 L1933.0 1438.8 L1933.5 1438.9 L1934.0 1438.7 L1934.5 1438.7 L1935.0 1438.7 L1935.5 1438.7 L1936.0 1438.6 L1936.5 1438.6 L1937.0 1438.7 L1937.5 1438.8 L1938.0 1438.8 L1938.5 1438.7 L1939.0 1438.8 L1939.5 1438.7 L1940.0 1438.4 L1940.5 1438.4 L1941.0 1438.3 L1941.5 1438.2 L1942.0 1438.2 L1942.5 1438.1 L1943.0 1437.9 L1943.5 1437.4 L1944.0 1437.1 L1944.5 1437.0 L1945.0 1436.8 L1945.5 1436.7 L1946.0 1436.5 L1946.5 1436.3 L1947.0 1435.9 L1947.5 1435.6 L1948.0 1435.5 L1948.5 1435.2 L1949.0 1435.3 L1949.5 1435.1 L1950.0 1434.9 L1950.5 1435.0 L1951.0 1434.9 L1951.5 1435.3 L1952.0 1435.4 L1952.5 1435.7 L1953.0 1435.9 L1953.5 1436.1 L1954.0 1436.2 L1954.5 1436.2 L1955.0 1436.7 L1955.5 1437.2 L1956.0 1437.7 L1956.5 1437.7 L1957.0 1438.0 L1957.5 1438.1 L1958.0 1438.4 L1958.5 1438.4 L1959.0 1438.6 L1959.5 1438.8 L1960.0 1438.9 L1960.5 1439.1 L1961.0 1439.1 L1961.5 1439.3 L1962.0 1439.2 L1962.5 1439.4 L1963.0 1438.9 L1963.5 1438.9 L1964.0 1438.8 L1964.5 1438.9 L1965.0 1439.0 L1965.5 1439.1 L1966.0 1439.1 L1966.5 1439.3 L1967.0 1439.1 L1967.5 1438.9 L1968.0 1439.1 L1968.5 1439.2 L1969.0 1438.8 L1969.5 1438.9 L1970.0 1438.8 L1970.5 1439.0 L1971.0 1439.1 L1971.5 1439.0 L1972.0 1439.2 L1972.5 1439.1 L1973.0 1439.2 L1973.5 1439.2 L1974.0 1439.2 L1974.5 1438.9 L1975.0 1438.9 L1975.5 1438.6 L1976.0 1438.6 L1976.5 1438.4 L1977.0 1438.7 L1977.5 1438.6 L1978.0 1438.3 L1978.5 1438.5 L1979.0 1438.6 L1979.5 1438.6 L1980.0 1438.9 L1983.0 1439.1 L1986.0 1439.1 L1989.0 1439.0 L1992.0 1438.6 L1995.0 1438.7 L1998.0 1438.9" fill="none" stroke="#2e7a74" stroke-width="4.4" stroke-linejoin="round"/>
<path d="M172.0 1583.5 L175.0 1583.3 L178.0 1583.4 L181.0 1583.2 L184.0 1583.2 L187.0 1583.4 L190.0 1583.6 L193.0 1583.7 L196.0 1583.7 L199.0 1583.8 L202.0 1583.9 L205.0 1583.8 L208.0 1583.6 L211.0 1583.5 L214.0 1583.4 L217.0 1583.3 L220.0 1583.3 L223.0 1583.4 L226.0 1583.4 L229.0 1583.5 L232.0 1583.5 L235.0 1583.5 L238.0 1583.7 L241.0 1583.8 L244.0 1583.9 L247.0 1583.8 L250.0 1583.8 L253.0 1584.0 L256.0 1583.9 L259.0 1583.9 L262.0 1583.8 L265.0 1583.9 L268.0 1583.8 L271.0 1583.7 L274.0 1583.6 L277.0 1583.6 L280.0 1583.7 L283.0 1583.6 L286.0 1583.6 L289.0 1583.6 L292.0 1583.6 L295.0 1583.6 L298.0 1583.7 L301.0 1583.5 L304.0 1583.5 L307.0 1583.4 L310.0 1583.5 L313.0 1583.5 L316.0 1583.6 L319.0 1583.6 L322.0 1583.5 L325.0 1583.3 L328.0 1583.3 L331.0 1583.3 L334.0 1583.4 L337.0 1583.5 L340.0 1583.6 L343.0 1583.6 L346.0 1583.5 L349.0 1583.4 L352.0 1583.4 L355.0 1583.5 L358.0 1583.8 L361.0 1583.8 L364.0 1584.0 L367.0 1584.2 L370.0 1583.9 L373.0 1584.1 L376.0 1584.1 L379.0 1584.2 L382.0 1584.1 L385.0 1584.2 L388.0 1584.0 L391.0 1584.0 L394.0 1583.9 L397.0 1584.1 L400.0 1584.0 L403.0 1584.1 L406.0 1584.0 L409.0 1583.8 L412.0 1583.8 L415.0 1583.9 L418.0 1583.7 L421.0 1583.8 L424.0 1583.7 L427.0 1583.5 L430.0 1583.6 L433.0 1583.6 L436.0 1583.4 L439.0 1583.2 L442.0 1583.3 L445.0 1583.4 L448.0 1583.3 L451.0 1583.4 L454.0 1583.2 L457.0 1583.3 L460.0 1583.4 L463.0 1583.5 L466.0 1583.4 L469.0 1583.5 L472.0 1583.5 L475.0 1583.6 L478.0 1583.7 L481.0 1583.7 L484.0 1583.6 L487.0 1583.7 L490.0 1583.8 L493.0 1583.7 L496.0 1583.8 L499.0 1583.8 L502.0 1583.8 L505.0 1583.6 L508.0 1583.8 L511.0 1583.5 L514.0 1583.6 L517.0 1583.5 L520.0 1583.7 L523.0 1583.6 L526.0 1583.6 L529.0 1583.7 L532.0 1583.7 L535.0 1583.6 L538.0 1583.7 L541.0 1583.7 L544.0 1583.9 L547.0 1583.7 L550.0 1583.7 L553.0 1583.6 L556.0 1583.5 L559.0 1583.6 L562.0 1583.6 L565.0 1583.8 L568.0 1583.7 L571.0 1583.7 L574.0 1583.9 L577.0 1583.8 L580.0 1583.8 L583.0 1583.8 L586.0 1583.6 L589.0 1583.5 L592.0 1583.6 L595.0 1583.6 L598.0 1583.6 L601.0 1583.4 L604.0 1583.3 L607.0 1582.9 L610.0 1581.3 L613.0 1580.7 L616.0 1582.4 L619.0 1583.4 L622.0 1583.8 L625.0 1583.7 L628.0 1583.8 L631.0 1583.6 L634.0 1583.7 L637.0 1583.6 L640.0 1583.6 L643.0 1583.8 L646.0 1583.8 L649.0 1583.7 L652.0 1583.7 L655.0 1583.7 L658.0 1583.5 L661.0 1583.5 L664.0 1583.6 L667.0 1583.8 L670.0 1583.4 L673.0 1583.2 L676.0 1583.1 L679.0 1583.2 L682.0 1583.5 L685.0 1583.5 L688.0 1583.4 L691.0 1583.5 L694.0 1583.0 L697.0 1582.9 L700.0 1582.4 L703.0 1582.4 L706.0 1582.2 L706.5 1582.1 L707.0 1582.2 L707.5 1582.1 L708.0 1582.3 L708.5 1582.3 L709.0 1582.3 L709.5 1582.6 L710.0 1582.4 L710.5 1582.5 L711.0 1582.3 L711.5 1582.3 L712.0 1582.4 L712.5 1582.2 L713.0 1582.2 L713.5 1582.3 L714.0 1582.3 L714.5 1582.1 L715.0 1581.9 L715.5 1581.9 L716.0 1581.5 L716.5 1581.3 L717.0 1581.2 L717.5 1581.1 L718.0 1581.1 L718.5 1581.1 L719.0 1580.9 L719.5 1580.6 L720.0 1580.1 L720.5 1579.8 L721.0 1579.5 L721.5 1579.1 L722.0 1578.8 L722.5 1578.4 L723.0 1577.8 L723.5 1577.2 L724.0 1576.4 L724.5 1575.9 L725.0 1574.9 L725.5 1573.7 L726.0 1572.5 L726.5 1570.9 L727.0 1569.0 L727.5 1566.4 L728.0 1563.4 L728.5 1559.3 L729.0 1554.1 L729.5 1547.9 L730.0 1540.4 L730.5 1531.8 L731.0 1522.2 L731.5 1511.2 L732.0 1499.5 L732.5 1488.0 L733.0 1477.3 L733.5 1468.1 L734.0 1461.9 L734.5 1459.6 L735.0 1461.9 L735.5 1468.0 L736.0 1476.9 L736.5 1487.6 L737.0 1499.3 L737.5 1510.5 L738.0 1521.5 L738.5 1531.3 L739.0 1540.3 L739.5 1547.9 L740.0 1554.0 L740.5 1559.1 L741.0 1563.2 L741.5 1566.4 L742.0 1569.0 L742.5 1571.2 L743.0 1572.6 L743.5 1573.9 L744.0 1575.2 L744.5 1576.1 L745.0 1576.7 L745.5 1577.2 L746.0 1577.6 L746.5 1577.9 L747.0 1578.5 L747.5 1578.9 L748.0 1579.1 L748.5 1579.2 L749.0 1579.5 L749.5 1579.7 L750.0 1580.2 L750.5 1580.3 L751.0 1580.6 L751.5 1580.9 L752.0 1581.1 L752.5 1581.2 L753.0 1581.0 L753.5 1581.4 L754.0 1581.5 L754.5 1581.6 L755.0 1581.7 L755.5 1581.6 L756.0 1581.6 L756.5 1581.5 L757.0 1581.7 L757.5 1581.9 L758.0 1582.0 L758.5 1582.2 L759.0 1582.3 L759.5 1582.4 L760.0 1582.3 L760.5 1582.4 L761.0 1582.6 L761.5 1582.7 L762.0 1582.9 L762.5 1582.8 L763.0 1582.7 L763.5 1582.8 L764.0 1582.8 L764.5 1582.8 L767.5 1582.9 L770.5 1583.0 L773.5 1583.1 L776.5 1583.1 L779.5 1582.9 L782.5 1583.2 L785.5 1583.3 L788.5 1583.1 L791.5 1583.0 L794.5 1582.9 L797.5 1582.9 L800.5 1582.7 L803.5 1582.9 L806.5 1583.2 L809.5 1583.2 L812.5 1583.3 L815.5 1583.4 L818.5 1583.3 L821.5 1583.5 L824.5 1583.3 L827.5 1583.2 L830.5 1583.2 L833.5 1583.4 L836.5 1583.4 L839.5 1583.4 L842.5 1583.3 L845.5 1583.3 L848.5 1583.3 L851.5 1583.4 L854.5 1583.5 L857.5 1583.4 L860.5 1583.3 L863.5 1583.1 L866.5 1583.1 L869.5 1582.8 L872.5 1582.5 L875.5 1582.4 L878.5 1582.2 L881.5 1581.8 L884.5 1581.2 L887.5 1580.6 L890.5 1580.2 L893.5 1579.7 L894.0 1579.7 L894.5 1579.4 L895.0 1579.4 L895.5 1579.3 L896.0 1579.2 L896.5 1579.2 L897.0 1579.1 L897.5 1578.8 L898.0 1578.6 L898.5 1578.6 L899.0 1578.7 L899.5 1578.6 L900.0 1578.4 L900.5 1578.3 L901.0 1578.2 L901.5 1578.3 L902.0 1578.2 L902.5 1578.2 L903.0 1578.2 L903.5 1578.0 L904.0 1577.8 L904.5 1577.8 L905.0 1577.6 L905.5 1577.6 L906.0 1577.4 L906.5 1577.5 L907.0 1577.5 L907.5 1577.5 L908.0 1577.6 L908.5 1577.6 L909.0 1577.2 L909.5 1577.2 L910.0 1577.2 L910.5 1577.1 L911.0 1576.9 L911.5 1576.9 L912.0 1577.0 L912.5 1576.9 L913.0 1576.8 L913.5 1576.6 L914.0 1576.4 L914.5 1576.2 L915.0 1576.0 L915.5 1575.2 L916.0 1574.4 L916.5 1573.6 L917.0 1572.2 L917.5 1570.2 L918.0 1567.8 L918.5 1564.4 L919.0 1560.2 L919.5 1555.1 L920.0 1549.4 L920.5 1543.4 L921.0 1536.9 L921.5 1530.3 L922.0 1524.3 L922.5 1519.7 L923.0 1517.1 L923.5 1516.9 L924.0 1519.0 L924.5 1523.5 L925.0 1529.2 L925.5 1535.9 L926.0 1542.6 L926.5 1549.1 L927.0 1555.2 L927.5 1560.6 L928.0 1565.0 L928.5 1568.6 L929.0 1571.5 L929.5 1573.7 L930.0 1575.5 L930.5 1577.1 L931.0 1577.9 L931.5 1578.6 L932.0 1579.3 L932.5 1579.9 L933.0 1580.4 L933.5 1580.5 L934.0 1580.8 L934.5 1581.0 L935.0 1581.0 L935.5 1581.2 L936.0 1581.4 L936.5 1581.6 L937.0 1581.8 L937.5 1581.8 L938.0 1582.0 L938.5 1582.0 L939.0 1582.1 L939.5 1582.1 L940.0 1582.3 L940.5 1582.4 L941.0 1582.2 L941.5 1582.2 L942.0 1582.4 L942.5 1582.8 L943.0 1582.7 L943.5 1582.7 L944.0 1582.7 L944.5 1582.5 L945.0 1582.7 L945.5 1582.7 L946.0 1582.8 L946.5 1583.1 L947.0 1583.1 L947.5 1583.2 L948.0 1583.3 L948.5 1583.2 L949.0 1583.1 L949.5 1583.3 L950.0 1583.4 L950.5 1583.4 L951.0 1583.2 L951.5 1583.3 L952.0 1583.4 L952.5 1583.7 L953.0 1583.8 L953.5 1583.8 L956.5 1583.8 L959.5 1583.8 L962.5 1583.7 L965.5 1583.7 L968.5 1583.7 L971.5 1583.8 L974.5 1583.9 L977.5 1583.9 L980.5 1583.8 L983.5 1583.8 L986.5 1584.0 L989.5 1583.8 L992.5 1583.8 L995.5 1583.9 L998.5 1583.9 L1001.5 1583.9 L1004.5 1583.8 L1007.5 1583.8 L1010.5 1584.0 L1013.5 1584.1 L1016.5 1583.9 L1019.5 1583.5 L1022.5 1583.6 L1025.5 1583.5 L1028.5 1583.4 L1031.5 1583.2 L1034.5 1583.3 L1037.5 1583.3 L1040.5 1583.2 L1043.5 1583.0 L1046.5 1582.8 L1049.5 1582.8 L1052.5 1583.2 L1055.5 1583.6 L1058.5 1583.9 L1061.5 1583.9 L1064.5 1584.0 L1067.5 1584.0 L1070.5 1584.0 L1073.5 1584.0 L1076.5 1583.8 L1079.5 1583.9 L1082.5 1584.0 L1085.5 1583.9 L1088.5 1583.9 L1091.5 1583.7 L1094.5 1583.8 L1097.5 1583.9 L1100.5 1583.7 L1103.5 1583.9 L1106.5 1583.9 L1109.5 1583.6 L1112.5 1583.4 L1115.5 1583.6 L1118.5 1583.5 L1121.5 1583.7 L1124.5 1583.5 L1127.5 1583.5 L1130.5 1583.6 L1133.5 1583.5 L1136.5 1583.6 L1139.5 1583.6 L1142.5 1583.6 L1145.5 1583.7 L1148.5 1583.9 L1151.5 1583.7 L1154.5 1583.8 L1157.5 1583.9 L1160.5 1583.7 L1163.5 1583.7 L1166.5 1584.0 L1169.5 1584.1 L1172.5 1583.6 L1175.5 1583.6 L1178.5 1583.4 L1181.5 1583.4 L1184.5 1583.4 L1187.5 1583.3 L1190.5 1583.3 L1193.5 1583.3 L1196.5 1583.3 L1199.5 1583.2 L1202.5 1583.3 L1205.5 1583.4 L1208.5 1583.3 L1211.5 1583.5 L1214.5 1583.3 L1217.5 1583.4 L1220.5 1583.4 L1223.5 1583.6 L1226.5 1583.5 L1229.5 1583.4 L1232.5 1583.3 L1235.5 1583.6 L1238.5 1583.7 L1241.5 1583.5 L1244.5 1583.5 L1247.5 1583.4 L1250.5 1583.6 L1253.5 1583.7 L1256.5 1583.4 L1259.5 1583.4 L1262.5 1583.6 L1265.5 1583.6 L1268.5 1583.6 L1271.5 1583.6 L1274.5 1583.6 L1277.5 1583.7 L1280.5 1583.6 L1283.5 1583.6 L1286.5 1583.6 L1289.5 1583.6 L1292.5 1583.5 L1295.5 1583.4 L1298.5 1583.5 L1301.5 1583.6 L1304.5 1583.3 L1307.5 1583.3 L1310.5 1583.5 L1313.5 1583.6 L1316.5 1583.5 L1319.5 1583.7 L1322.5 1583.6 L1325.5 1583.5 L1328.5 1583.7 L1331.5 1583.7 L1334.5 1583.6 L1337.5 1583.4 L1340.5 1583.3 L1343.5 1583.2 L1346.5 1583.2 L1349.5 1583.0 L1352.5 1583.3 L1355.5 1583.3 L1358.5 1583.2 L1361.5 1583.2 L1364.5 1583.4 L1367.5 1583.6 L1370.5 1583.5 L1373.5 1583.8 L1376.5 1583.9 L1379.5 1584.1 L1382.5 1584.0 L1385.5 1583.8 L1388.5 1583.8 L1391.5 1583.7 L1394.5 1583.7 L1397.5 1583.5 L1400.5 1583.5 L1403.5 1583.5 L1406.5 1583.4 L1409.5 1583.5 L1412.5 1583.7 L1415.5 1583.7 L1418.5 1583.6 L1421.5 1583.9 L1424.5 1583.6 L1427.5 1583.5 L1430.5 1583.5 L1433.5 1583.5 L1436.5 1583.2 L1439.5 1583.3 L1442.5 1583.4 L1445.5 1583.4 L1448.5 1583.6 L1451.5 1583.6 L1454.5 1583.8 L1457.5 1583.6 L1460.5 1583.6 L1463.5 1583.8 L1466.5 1584.0 L1469.5 1584.1 L1472.5 1584.0 L1475.5 1584.0 L1478.5 1583.8 L1481.5 1583.9 L1484.5 1583.8 L1487.5 1583.8 L1490.5 1583.5 L1493.5 1583.3 L1496.5 1583.6 L1499.5 1583.6 L1502.5 1583.6 L1505.5 1583.3 L1508.5 1583.3 L1511.5 1583.6 L1514.5 1583.4 L1517.5 1583.1 L1520.5 1583.1 L1521.0 1583.1 L1521.5 1583.1 L1522.0 1583.0 L1522.5 1582.9 L1523.0 1582.8 L1523.5 1583.0 L1524.0 1583.0 L1524.5 1583.2 L1525.0 1583.1 L1525.5 1583.2 L1526.0 1583.2 L1526.5 1583.2 L1527.0 1583.3 L1527.5 1583.3 L1528.0 1583.3 L1528.5 1583.1 L1529.0 1583.1 L1529.5 1583.2 L1530.0 1583.1 L1530.5 1583.1 L1531.0 1582.9 L1531.5 1582.8 L1532.0 1582.9 L1532.5 1583.1 L1533.0 1583.0 L1533.5 1582.8 L1534.0 1582.8 L1534.5 1582.6 L1535.0 1582.6 L1535.5 1582.9 L1536.0 1582.9 L1536.5 1582.8 L1537.0 1582.9 L1537.5 1582.7 L1538.0 1582.7 L1538.5 1582.5 L1539.0 1582.4 L1539.5 1581.9 L1540.0 1581.7 L1540.5 1581.4 L1541.0 1580.6 L1541.5 1579.7 L1542.0 1579.0 L1542.5 1578.5 L1543.0 1577.6 L1543.5 1576.7 L1544.0 1575.7 L1544.5 1574.5 L1545.0 1573.1 L1545.5 1571.7 L1546.0 1570.5 L1546.5 1569.3 L1547.0 1568.2 L1547.5 1567.2 L1548.0 1566.4 L1548.5 1566.1 L1549.0 1566.0 L1549.5 1566.4 L1550.0 1566.6 L1550.5 1567.5 L1551.0 1568.3 L1551.5 1569.5 L1552.0 1570.8 L1552.5 1572.2 L1553.0 1573.4 L1553.5 1574.7 L1554.0 1576.0 L1554.5 1577.1 L1555.0 1578.0 L1555.5 1578.6 L1556.0 1579.3 L1556.5 1580.1 L1557.0 1580.6 L1557.5 1581.1 L1558.0 1581.5 L1558.5 1581.7 L1559.0 1582.2 L1559.5 1582.6 L1560.0 1582.7 L1560.5 1582.8 L1561.0 1583.0 L1561.5 1582.9 L1562.0 1582.8 L1562.5 1583.1 L1563.0 1583.2 L1563.5 1583.2 L1564.0 1583.1 L1564.5 1583.2 L1565.0 1583.0 L1565.5 1583.0 L1566.0 1583.0 L1566.5 1582.7 L1567.0 1582.9 L1567.5 1583.1 L1568.0 1583.3 L1568.5 1583.1 L1569.0 1583.0 L1569.5 1582.9 L1570.0 1582.8 L1570.5 1583.2 L1571.0 1583.1 L1571.5 1583.1 L1572.0 1583.2 L1572.5 1583.3 L1573.0 1583.5 L1573.5 1583.4 L1574.0 1583.5 L1574.5 1583.5 L1575.0 1583.3 L1575.5 1583.4 L1576.0 1583.2 L1576.5 1583.5 L1577.0 1583.4 L1577.5 1583.5 L1578.0 1583.7 L1578.5 1583.6 L1579.0 1583.5 L1582.0 1583.5 L1585.0 1583.4 L1588.0 1583.5 L1591.0 1583.6 L1594.0 1583.5 L1597.0 1583.4 L1600.0 1583.5 L1603.0 1583.3 L1606.0 1583.6 L1609.0 1583.5 L1612.0 1583.5 L1615.0 1583.4 L1618.0 1583.6 L1621.0 1583.7 L1624.0 1583.9 L1627.0 1583.9 L1630.0 1583.9 L1633.0 1584.1 L1636.0 1584.1 L1639.0 1584.1 L1642.0 1584.1 L1645.0 1584.1 L1648.0 1584.1 L1651.0 1584.0 L1654.0 1583.7 L1657.0 1584.0 L1660.0 1583.7 L1663.0 1583.4 L1666.0 1583.3 L1669.0 1583.6 L1672.0 1583.8 L1675.0 1583.7 L1678.0 1583.7 L1681.0 1583.7 L1684.0 1583.4 L1687.0 1583.4 L1690.0 1583.5 L1693.0 1583.6 L1696.0 1583.5 L1699.0 1583.2 L1702.0 1583.0 L1705.0 1583.2 L1708.0 1583.2 L1711.0 1583.3 L1714.0 1583.4 L1717.0 1583.4 L1720.0 1583.2 L1723.0 1583.3 L1726.0 1583.4 L1729.0 1583.5 L1732.0 1583.7 L1735.0 1583.5 L1738.0 1583.2 L1741.0 1583.0 L1744.0 1583.4 L1747.0 1583.3 L1750.0 1583.4 L1753.0 1583.4 L1756.0 1583.6 L1759.0 1584.0 L1762.0 1583.9 L1765.0 1583.8 L1768.0 1583.7 L1771.0 1583.7 L1774.0 1583.8 L1777.0 1583.6 L1780.0 1583.8 L1783.0 1583.9 L1786.0 1583.9 L1789.0 1583.9 L1792.0 1583.8 L1795.0 1583.5 L1798.0 1583.6 L1801.0 1583.5 L1804.0 1583.4 L1807.0 1583.6 L1810.0 1583.5 L1813.0 1583.4 L1816.0 1583.6 L1819.0 1583.8 L1822.0 1583.7 L1825.0 1583.8 L1828.0 1583.7 L1831.0 1583.7 L1834.0 1583.8 L1837.0 1583.6 L1840.0 1583.7 L1843.0 1584.0 L1846.0 1583.9 L1849.0 1583.9 L1852.0 1583.7 L1855.0 1583.9 L1858.0 1583.9 L1861.0 1583.7 L1864.0 1583.8 L1867.0 1583.5 L1870.0 1583.5 L1873.0 1583.2 L1876.0 1583.4 L1879.0 1583.8 L1882.0 1583.6 L1885.0 1583.5 L1888.0 1583.5 L1891.0 1583.4 L1894.0 1583.5 L1897.0 1583.7 L1900.0 1583.6 L1903.0 1583.6 L1906.0 1583.4 L1909.0 1583.6 L1912.0 1583.6 L1915.0 1583.5 L1918.0 1583.7 L1921.0 1583.7 L1921.5 1583.8 L1922.0 1584.0 L1922.5 1584.1 L1923.0 1583.9 L1923.5 1583.9 L1924.0 1583.9 L1924.5 1583.8 L1925.0 1584.0 L1925.5 1583.8 L1926.0 1583.9 L1926.5 1584.0 L1927.0 1583.7 L1927.5 1583.6 L1928.0 1583.4 L1928.5 1583.4 L1929.0 1583.5 L1929.5 1583.4 L1930.0 1583.5 L1930.5 1583.4 L1931.0 1583.4 L1931.5 1583.5 L1932.0 1583.6 L1932.5 1583.5 L1933.0 1583.5 L1933.5 1583.4 L1934.0 1583.4 L1934.5 1583.2 L1935.0 1583.4 L1935.5 1583.5 L1936.0 1583.5 L1936.5 1583.4 L1937.0 1583.3 L1937.5 1583.2 L1938.0 1583.0 L1938.5 1583.3 L1939.0 1583.7 L1939.5 1583.5 L1940.0 1583.2 L1940.5 1583.2 L1941.0 1583.2 L1941.5 1582.9 L1942.0 1582.6 L1942.5 1582.6 L1943.0 1582.2 L1943.5 1582.3 L1944.0 1582.0 L1944.5 1581.9 L1945.0 1581.7 L1945.5 1581.4 L1946.0 1581.2 L1946.5 1580.9 L1947.0 1580.9 L1947.5 1580.7 L1948.0 1580.5 L1948.5 1580.2 L1949.0 1580.0 L1949.5 1579.9 L1950.0 1579.9 L1950.5 1580.2 L1951.0 1580.4 L1951.5 1580.5 L1952.0 1580.9 L1952.5 1581.2 L1953.0 1581.3 L1953.5 1581.5 L1954.0 1581.5 L1954.5 1581.8 L1955.0 1581.9 L1955.5 1581.9 L1956.0 1582.0 L1956.5 1582.5 L1957.0 1582.7 L1957.5 1582.9 L1958.0 1583.0 L1958.5 1583.1 L1959.0 1583.2 L1959.5 1583.4 L1960.0 1583.4 L1960.5 1583.5 L1961.0 1583.7 L1961.5 1583.6 L1962.0 1583.6 L1962.5 1583.5 L1963.0 1583.6 L1963.5 1583.6 L1964.0 1583.7 L1964.5 1583.6 L1965.0 1583.8 L1965.5 1583.7 L1966.0 1583.6 L1966.5 1583.5 L1967.0 1583.6 L1967.5 1583.5 L1968.0 1583.7 L1968.5 1583.9 L1969.0 1583.9 L1969.5 1583.7 L1970.0 1583.6 L1970.5 1583.5 L1971.0 1583.3 L1971.5 1583.4 L1972.0 1583.7 L1972.5 1583.6 L1973.0 1583.7 L1973.5 1583.9 L1974.0 1583.7 L1974.5 1583.6 L1975.0 1583.7 L1975.5 1583.7 L1976.0 1583.5 L1976.5 1583.6 L1977.0 1583.6 L1977.5 1583.7 L1978.0 1583.5 L1978.5 1583.4 L1979.0 1583.4 L1979.5 1583.4 L1980.0 1583.5 L1983.0 1583.4 L1986.0 1583.8 L1989.0 1583.7 L1992.0 1583.8 L1995.0 1583.9 L1998.0 1584.0" fill="none" stroke="#e0e0fa" stroke-width="7.9" stroke-linejoin="round"/>
<path d="M172.0 1583.5 L175.0 1583.3 L178.0 1583.4 L181.0 1583.2 L184.0 1583.2 L187.0 1583.4 L190.0 1583.6 L193.0 1583.7 L196.0 1583.7 L199.0 1583.8 L202.0 1583.9 L205.0 1583.8 L208.0 1583.6 L211.0 1583.5 L214.0 1583.4 L217.0 1583.3 L220.0 1583.3 L223.0 1583.4 L226.0 1583.4 L229.0 1583.5 L232.0 1583.5 L235.0 1583.5 L238.0 1583.7 L241.0 1583.8 L244.0 1583.9 L247.0 1583.8 L250.0 1583.8 L253.0 1584.0 L256.0 1583.9 L259.0 1583.9 L262.0 1583.8 L265.0 1583.9 L268.0 1583.8 L271.0 1583.7 L274.0 1583.6 L277.0 1583.6 L280.0 1583.7 L283.0 1583.6 L286.0 1583.6 L289.0 1583.6 L292.0 1583.6 L295.0 1583.6 L298.0 1583.7 L301.0 1583.5 L304.0 1583.5 L307.0 1583.4 L310.0 1583.5 L313.0 1583.5 L316.0 1583.6 L319.0 1583.6 L322.0 1583.5 L325.0 1583.3 L328.0 1583.3 L331.0 1583.3 L334.0 1583.4 L337.0 1583.5 L340.0 1583.6 L343.0 1583.6 L346.0 1583.5 L349.0 1583.4 L352.0 1583.4 L355.0 1583.5 L358.0 1583.8 L361.0 1583.8 L364.0 1584.0 L367.0 1584.2 L370.0 1583.9 L373.0 1584.1 L376.0 1584.1 L379.0 1584.2 L382.0 1584.1 L385.0 1584.2 L388.0 1584.0 L391.0 1584.0 L394.0 1583.9 L397.0 1584.1 L400.0 1584.0 L403.0 1584.1 L406.0 1584.0 L409.0 1583.8 L412.0 1583.8 L415.0 1583.9 L418.0 1583.7 L421.0 1583.8 L424.0 1583.7 L427.0 1583.5 L430.0 1583.6 L433.0 1583.6 L436.0 1583.4 L439.0 1583.2 L442.0 1583.3 L445.0 1583.4 L448.0 1583.3 L451.0 1583.4 L454.0 1583.2 L457.0 1583.3 L460.0 1583.4 L463.0 1583.5 L466.0 1583.4 L469.0 1583.5 L472.0 1583.5 L475.0 1583.6 L478.0 1583.7 L481.0 1583.7 L484.0 1583.6 L487.0 1583.7 L490.0 1583.8 L493.0 1583.7 L496.0 1583.8 L499.0 1583.8 L502.0 1583.8 L505.0 1583.6 L508.0 1583.8 L511.0 1583.5 L514.0 1583.6 L517.0 1583.5 L520.0 1583.7 L523.0 1583.6 L526.0 1583.6 L529.0 1583.7 L532.0 1583.7 L535.0 1583.6 L538.0 1583.7 L541.0 1583.7 L544.0 1583.9 L547.0 1583.7 L550.0 1583.7 L553.0 1583.6 L556.0 1583.5 L559.0 1583.6 L562.0 1583.6 L565.0 1583.8 L568.0 1583.7 L571.0 1583.7 L574.0 1583.9 L577.0 1583.8 L580.0 1583.8 L583.0 1583.8 L586.0 1583.6 L589.0 1583.5 L592.0 1583.6 L595.0 1583.6 L598.0 1583.6 L601.0 1583.4 L604.0 1583.3 L607.0 1582.9 L610.0 1581.3 L613.0 1580.7 L616.0 1582.4 L619.0 1583.4 L622.0 1583.8 L625.0 1583.7 L628.0 1583.8 L631.0 1583.6 L634.0 1583.7 L637.0 1583.6 L640.0 1583.6 L643.0 1583.8 L646.0 1583.8 L649.0 1583.7 L652.0 1583.7 L655.0 1583.7 L658.0 1583.5 L661.0 1583.5 L664.0 1583.6 L667.0 1583.8 L670.0 1583.4 L673.0 1583.2 L676.0 1583.1 L679.0 1583.2 L682.0 1583.5 L685.0 1583.5 L688.0 1583.4 L691.0 1583.5 L694.0 1583.0 L697.0 1582.9 L700.0 1582.4 L703.0 1582.4 L706.0 1582.2 L706.5 1582.1 L707.0 1582.2 L707.5 1582.1 L708.0 1582.3 L708.5 1582.3 L709.0 1582.3 L709.5 1582.6 L710.0 1582.4 L710.5 1582.5 L711.0 1582.3 L711.5 1582.3 L712.0 1582.4 L712.5 1582.2 L713.0 1582.2 L713.5 1582.3 L714.0 1582.3 L714.5 1582.1 L715.0 1581.9 L715.5 1581.9 L716.0 1581.5 L716.5 1581.3 L717.0 1581.2 L717.5 1581.1 L718.0 1581.1 L718.5 1581.1 L719.0 1580.9 L719.5 1580.6 L720.0 1580.1 L720.5 1579.8 L721.0 1579.5 L721.5 1579.1 L722.0 1578.8 L722.5 1578.4 L723.0 1577.8 L723.5 1577.2 L724.0 1576.4 L724.5 1575.9 L725.0 1574.9 L725.5 1573.7 L726.0 1572.5 L726.5 1570.9 L727.0 1569.0 L727.5 1566.4 L728.0 1563.4 L728.5 1559.3 L729.0 1554.1 L729.5 1547.9 L730.0 1540.4 L730.5 1531.8 L731.0 1522.2 L731.5 1511.2 L732.0 1499.5 L732.5 1488.0 L733.0 1477.3 L733.5 1468.1 L734.0 1461.9 L734.5 1459.6 L735.0 1461.9 L735.5 1468.0 L736.0 1476.9 L736.5 1487.6 L737.0 1499.3 L737.5 1510.5 L738.0 1521.5 L738.5 1531.3 L739.0 1540.3 L739.5 1547.9 L740.0 1554.0 L740.5 1559.1 L741.0 1563.2 L741.5 1566.4 L742.0 1569.0 L742.5 1571.2 L743.0 1572.6 L743.5 1573.9 L744.0 1575.2 L744.5 1576.1 L745.0 1576.7 L745.5 1577.2 L746.0 1577.6 L746.5 1577.9 L747.0 1578.5 L747.5 1578.9 L748.0 1579.1 L748.5 1579.2 L749.0 1579.5 L749.5 1579.7 L750.0 1580.2 L750.5 1580.3 L751.0 1580.6 L751.5 1580.9 L752.0 1581.1 L752.5 1581.2 L753.0 1581.0 L753.5 1581.4 L754.0 1581.5 L754.5 1581.6 L755.0 1581.7 L755.5 1581.6 L756.0 1581.6 L756.5 1581.5 L757.0 1581.7 L757.5 1581.9 L758.0 1582.0 L758.5 1582.2 L759.0 1582.3 L759.5 1582.4 L760.0 1582.3 L760.5 1582.4 L761.0 1582.6 L761.5 1582.7 L762.0 1582.9 L762.5 1582.8 L763.0 1582.7 L763.5 1582.8 L764.0 1582.8 L764.5 1582.8 L767.5 1582.9 L770.5 1583.0 L773.5 1583.1 L776.5 1583.1 L779.5 1582.9 L782.5 1583.2 L785.5 1583.3 L788.5 1583.1 L791.5 1583.0 L794.5 1582.9 L797.5 1582.9 L800.5 1582.7 L803.5 1582.9 L806.5 1583.2 L809.5 1583.2 L812.5 1583.3 L815.5 1583.4 L818.5 1583.3 L821.5 1583.5 L824.5 1583.3 L827.5 1583.2 L830.5 1583.2 L833.5 1583.4 L836.5 1583.4 L839.5 1583.4 L842.5 1583.3 L845.5 1583.3 L848.5 1583.3 L851.5 1583.4 L854.5 1583.5 L857.5 1583.4 L860.5 1583.3 L863.5 1583.1 L866.5 1583.1 L869.5 1582.8 L872.5 1582.5 L875.5 1582.4 L878.5 1582.2 L881.5 1581.8 L884.5 1581.2 L887.5 1580.6 L890.5 1580.2 L893.5 1579.7 L894.0 1579.7 L894.5 1579.4 L895.0 1579.4 L895.5 1579.3 L896.0 1579.2 L896.5 1579.2 L897.0 1579.1 L897.5 1578.8 L898.0 1578.6 L898.5 1578.6 L899.0 1578.7 L899.5 1578.6 L900.0 1578.4 L900.5 1578.3 L901.0 1578.2 L901.5 1578.3 L902.0 1578.2 L902.5 1578.2 L903.0 1578.2 L903.5 1578.0 L904.0 1577.8 L904.5 1577.8 L905.0 1577.6 L905.5 1577.6 L906.0 1577.4 L906.5 1577.5 L907.0 1577.5 L907.5 1577.5 L908.0 1577.6 L908.5 1577.6 L909.0 1577.2 L909.5 1577.2 L910.0 1577.2 L910.5 1577.1 L911.0 1576.9 L911.5 1576.9 L912.0 1577.0 L912.5 1576.9 L913.0 1576.8 L913.5 1576.6 L914.0 1576.4 L914.5 1576.2 L915.0 1576.0 L915.5 1575.2 L916.0 1574.4 L916.5 1573.6 L917.0 1572.2 L917.5 1570.2 L918.0 1567.8 L918.5 1564.4 L919.0 1560.2 L919.5 1555.1 L920.0 1549.4 L920.5 1543.4 L921.0 1536.9 L921.5 1530.3 L922.0 1524.3 L922.5 1519.7 L923.0 1517.1 L923.5 1516.9 L924.0 1519.0 L924.5 1523.5 L925.0 1529.2 L925.5 1535.9 L926.0 1542.6 L926.5 1549.1 L927.0 1555.2 L927.5 1560.6 L928.0 1565.0 L928.5 1568.6 L929.0 1571.5 L929.5 1573.7 L930.0 1575.5 L930.5 1577.1 L931.0 1577.9 L931.5 1578.6 L932.0 1579.3 L932.5 1579.9 L933.0 1580.4 L933.5 1580.5 L934.0 1580.8 L934.5 1581.0 L935.0 1581.0 L935.5 1581.2 L936.0 1581.4 L936.5 1581.6 L937.0 1581.8 L937.5 1581.8 L938.0 1582.0 L938.5 1582.0 L939.0 1582.1 L939.5 1582.1 L940.0 1582.3 L940.5 1582.4 L941.0 1582.2 L941.5 1582.2 L942.0 1582.4 L942.5 1582.8 L943.0 1582.7 L943.5 1582.7 L944.0 1582.7 L944.5 1582.5 L945.0 1582.7 L945.5 1582.7 L946.0 1582.8 L946.5 1583.1 L947.0 1583.1 L947.5 1583.2 L948.0 1583.3 L948.5 1583.2 L949.0 1583.1 L949.5 1583.3 L950.0 1583.4 L950.5 1583.4 L951.0 1583.2 L951.5 1583.3 L952.0 1583.4 L952.5 1583.7 L953.0 1583.8 L953.5 1583.8 L956.5 1583.8 L959.5 1583.8 L962.5 1583.7 L965.5 1583.7 L968.5 1583.7 L971.5 1583.8 L974.5 1583.9 L977.5 1583.9 L980.5 1583.8 L983.5 1583.8 L986.5 1584.0 L989.5 1583.8 L992.5 1583.8 L995.5 1583.9 L998.5 1583.9 L1001.5 1583.9 L1004.5 1583.8 L1007.5 1583.8 L1010.5 1584.0 L1013.5 1584.1 L1016.5 1583.9 L1019.5 1583.5 L1022.5 1583.6 L1025.5 1583.5 L1028.5 1583.4 L1031.5 1583.2 L1034.5 1583.3 L1037.5 1583.3 L1040.5 1583.2 L1043.5 1583.0 L1046.5 1582.8 L1049.5 1582.8 L1052.5 1583.2 L1055.5 1583.6 L1058.5 1583.9 L1061.5 1583.9 L1064.5 1584.0 L1067.5 1584.0 L1070.5 1584.0 L1073.5 1584.0 L1076.5 1583.8 L1079.5 1583.9 L1082.5 1584.0 L1085.5 1583.9 L1088.5 1583.9 L1091.5 1583.7 L1094.5 1583.8 L1097.5 1583.9 L1100.5 1583.7 L1103.5 1583.9 L1106.5 1583.9 L1109.5 1583.6 L1112.5 1583.4 L1115.5 1583.6 L1118.5 1583.5 L1121.5 1583.7 L1124.5 1583.5 L1127.5 1583.5 L1130.5 1583.6 L1133.5 1583.5 L1136.5 1583.6 L1139.5 1583.6 L1142.5 1583.6 L1145.5 1583.7 L1148.5 1583.9 L1151.5 1583.7 L1154.5 1583.8 L1157.5 1583.9 L1160.5 1583.7 L1163.5 1583.7 L1166.5 1584.0 L1169.5 1584.1 L1172.5 1583.6 L1175.5 1583.6 L1178.5 1583.4 L1181.5 1583.4 L1184.5 1583.4 L1187.5 1583.3 L1190.5 1583.3 L1193.5 1583.3 L1196.5 1583.3 L1199.5 1583.2 L1202.5 1583.3 L1205.5 1583.4 L1208.5 1583.3 L1211.5 1583.5 L1214.5 1583.3 L1217.5 1583.4 L1220.5 1583.4 L1223.5 1583.6 L1226.5 1583.5 L1229.5 1583.4 L1232.5 1583.3 L1235.5 1583.6 L1238.5 1583.7 L1241.5 1583.5 L1244.5 1583.5 L1247.5 1583.4 L1250.5 1583.6 L1253.5 1583.7 L1256.5 1583.4 L1259.5 1583.4 L1262.5 1583.6 L1265.5 1583.6 L1268.5 1583.6 L1271.5 1583.6 L1274.5 1583.6 L1277.5 1583.7 L1280.5 1583.6 L1283.5 1583.6 L1286.5 1583.6 L1289.5 1583.6 L1292.5 1583.5 L1295.5 1583.4 L1298.5 1583.5 L1301.5 1583.6 L1304.5 1583.3 L1307.5 1583.3 L1310.5 1583.5 L1313.5 1583.6 L1316.5 1583.5 L1319.5 1583.7 L1322.5 1583.6 L1325.5 1583.5 L1328.5 1583.7 L1331.5 1583.7 L1334.5 1583.6 L1337.5 1583.4 L1340.5 1583.3 L1343.5 1583.2 L1346.5 1583.2 L1349.5 1583.0 L1352.5 1583.3 L1355.5 1583.3 L1358.5 1583.2 L1361.5 1583.2 L1364.5 1583.4 L1367.5 1583.6 L1370.5 1583.5 L1373.5 1583.8 L1376.5 1583.9 L1379.5 1584.1 L1382.5 1584.0 L1385.5 1583.8 L1388.5 1583.8 L1391.5 1583.7 L1394.5 1583.7 L1397.5 1583.5 L1400.5 1583.5 L1403.5 1583.5 L1406.5 1583.4 L1409.5 1583.5 L1412.5 1583.7 L1415.5 1583.7 L1418.5 1583.6 L1421.5 1583.9 L1424.5 1583.6 L1427.5 1583.5 L1430.5 1583.5 L1433.5 1583.5 L1436.5 1583.2 L1439.5 1583.3 L1442.5 1583.4 L1445.5 1583.4 L1448.5 1583.6 L1451.5 1583.6 L1454.5 1583.8 L1457.5 1583.6 L1460.5 1583.6 L1463.5 1583.8 L1466.5 1584.0 L1469.5 1584.1 L1472.5 1584.0 L1475.5 1584.0 L1478.5 1583.8 L1481.5 1583.9 L1484.5 1583.8 L1487.5 1583.8 L1490.5 1583.5 L1493.5 1583.3 L1496.5 1583.6 L1499.5 1583.6 L1502.5 1583.6 L1505.5 1583.3 L1508.5 1583.3 L1511.5 1583.6 L1514.5 1583.4 L1517.5 1583.1 L1520.5 1583.1 L1521.0 1583.1 L1521.5 1583.1 L1522.0 1583.0 L1522.5 1582.9 L1523.0 1582.8 L1523.5 1583.0 L1524.0 1583.0 L1524.5 1583.2 L1525.0 1583.1 L1525.5 1583.2 L1526.0 1583.2 L1526.5 1583.2 L1527.0 1583.3 L1527.5 1583.3 L1528.0 1583.3 L1528.5 1583.1 L1529.0 1583.1 L1529.5 1583.2 L1530.0 1583.1 L1530.5 1583.1 L1531.0 1582.9 L1531.5 1582.8 L1532.0 1582.9 L1532.5 1583.1 L1533.0 1583.0 L1533.5 1582.8 L1534.0 1582.8 L1534.5 1582.6 L1535.0 1582.6 L1535.5 1582.9 L1536.0 1582.9 L1536.5 1582.8 L1537.0 1582.9 L1537.5 1582.7 L1538.0 1582.7 L1538.5 1582.5 L1539.0 1582.4 L1539.5 1581.9 L1540.0 1581.7 L1540.5 1581.4 L1541.0 1580.6 L1541.5 1579.7 L1542.0 1579.0 L1542.5 1578.5 L1543.0 1577.6 L1543.5 1576.7 L1544.0 1575.7 L1544.5 1574.5 L1545.0 1573.1 L1545.5 1571.7 L1546.0 1570.5 L1546.5 1569.3 L1547.0 1568.2 L1547.5 1567.2 L1548.0 1566.4 L1548.5 1566.1 L1549.0 1566.0 L1549.5 1566.4 L1550.0 1566.6 L1550.5 1567.5 L1551.0 1568.3 L1551.5 1569.5 L1552.0 1570.8 L1552.5 1572.2 L1553.0 1573.4 L1553.5 1574.7 L1554.0 1576.0 L1554.5 1577.1 L1555.0 1578.0 L1555.5 1578.6 L1556.0 1579.3 L1556.5 1580.1 L1557.0 1580.6 L1557.5 1581.1 L1558.0 1581.5 L1558.5 1581.7 L1559.0 1582.2 L1559.5 1582.6 L1560.0 1582.7 L1560.5 1582.8 L1561.0 1583.0 L1561.5 1582.9 L1562.0 1582.8 L1562.5 1583.1 L1563.0 1583.2 L1563.5 1583.2 L1564.0 1583.1 L1564.5 1583.2 L1565.0 1583.0 L1565.5 1583.0 L1566.0 1583.0 L1566.5 1582.7 L1567.0 1582.9 L1567.5 1583.1 L1568.0 1583.3 L1568.5 1583.1 L1569.0 1583.0 L1569.5 1582.9 L1570.0 1582.8 L1570.5 1583.2 L1571.0 1583.1 L1571.5 1583.1 L1572.0 1583.2 L1572.5 1583.3 L1573.0 1583.5 L1573.5 1583.4 L1574.0 1583.5 L1574.5 1583.5 L1575.0 1583.3 L1575.5 1583.4 L1576.0 1583.2 L1576.5 1583.5 L1577.0 1583.4 L1577.5 1583.5 L1578.0 1583.7 L1578.5 1583.6 L1579.0 1583.5 L1582.0 1583.5 L1585.0 1583.4 L1588.0 1583.5 L1591.0 1583.6 L1594.0 1583.5 L1597.0 1583.4 L1600.0 1583.5 L1603.0 1583.3 L1606.0 1583.6 L1609.0 1583.5 L1612.0 1583.5 L1615.0 1583.4 L1618.0 1583.6 L1621.0 1583.7 L1624.0 1583.9 L1627.0 1583.9 L1630.0 1583.9 L1633.0 1584.1 L1636.0 1584.1 L1639.0 1584.1 L1642.0 1584.1 L1645.0 1584.1 L1648.0 1584.1 L1651.0 1584.0 L1654.0 1583.7 L1657.0 1584.0 L1660.0 1583.7 L1663.0 1583.4 L1666.0 1583.3 L1669.0 1583.6 L1672.0 1583.8 L1675.0 1583.7 L1678.0 1583.7 L1681.0 1583.7 L1684.0 1583.4 L1687.0 1583.4 L1690.0 1583.5 L1693.0 1583.6 L1696.0 1583.5 L1699.0 1583.2 L1702.0 1583.0 L1705.0 1583.2 L1708.0 1583.2 L1711.0 1583.3 L1714.0 1583.4 L1717.0 1583.4 L1720.0 1583.2 L1723.0 1583.3 L1726.0 1583.4 L1729.0 1583.5 L1732.0 1583.7 L1735.0 1583.5 L1738.0 1583.2 L1741.0 1583.0 L1744.0 1583.4 L1747.0 1583.3 L1750.0 1583.4 L1753.0 1583.4 L1756.0 1583.6 L1759.0 1584.0 L1762.0 1583.9 L1765.0 1583.8 L1768.0 1583.7 L1771.0 1583.7 L1774.0 1583.8 L1777.0 1583.6 L1780.0 1583.8 L1783.0 1583.9 L1786.0 1583.9 L1789.0 1583.9 L1792.0 1583.8 L1795.0 1583.5 L1798.0 1583.6 L1801.0 1583.5 L1804.0 1583.4 L1807.0 1583.6 L1810.0 1583.5 L1813.0 1583.4 L1816.0 1583.6 L1819.0 1583.8 L1822.0 1583.7 L1825.0 1583.8 L1828.0 1583.7 L1831.0 1583.7 L1834.0 1583.8 L1837.0 1583.6 L1840.0 1583.7 L1843.0 1584.0 L1846.0 1583.9 L1849.0 1583.9 L1852.0 1583.7 L1855.0 1583.9 L1858.0 1583.9 L1861.0 1583.7 L1864.0 1583.8 L1867.0 1583.5 L1870.0 1583.5 L1873.0 1583.2 L1876.0 1583.4 L1879.0 1583.8 L1882.0 1583.6 L1885.0 1583.5 L1888.0 1583.5 L1891.0 1583.4 L1894.0 1583.5 L1897.0 1583.7 L1900.0 1583.6 L1903.0 1583.6 L1906.0 1583.4 L1909.0 1583.6 L1912.0 1583.6 L1915.0 1583.5 L1918.0 1583.7 L1921.0 1583.7 L1921.5 1583.8 L1922.0 1584.0 L1922.5 1584.1 L1923.0 1583.9 L1923.5 1583.9 L1924.0 1583.9 L1924.5 1583.8 L1925.0 1584.0 L1925.5 1583.8 L1926.0 1583.9 L1926.5 1584.0 L1927.0 1583.7 L1927.5 1583.6 L1928.0 1583.4 L1928.5 1583.4 L1929.0 1583.5 L1929.5 1583.4 L1930.0 1583.5 L1930.5 1583.4 L1931.0 1583.4 L1931.5 1583.5 L1932.0 1583.6 L1932.5 1583.5 L1933.0 1583.5 L1933.5 1583.4 L1934.0 1583.4 L1934.5 1583.2 L1935.0 1583.4 L1935.5 1583.5 L1936.0 1583.5 L1936.5 1583.4 L1937.0 1583.3 L1937.5 1583.2 L1938.0 1583.0 L1938.5 1583.3 L1939.0 1583.7 L1939.5 1583.5 L1940.0 1583.2 L1940.5 1583.2 L1941.0 1583.2 L1941.5 1582.9 L1942.0 1582.6 L1942.5 1582.6 L1943.0 1582.2 L1943.5 1582.3 L1944.0 1582.0 L1944.5 1581.9 L1945.0 1581.7 L1945.5 1581.4 L1946.0 1581.2 L1946.5 1580.9 L1947.0 1580.9 L1947.5 1580.7 L1948.0 1580.5 L1948.5 1580.2 L1949.0 1580.0 L1949.5 1579.9 L1950.0 1579.9 L1950.5 1580.2 L1951.0 1580.4 L1951.5 1580.5 L1952.0 1580.9 L1952.5 1581.2 L1953.0 1581.3 L1953.5 1581.5 L1954.0 1581.5 L1954.5 1581.8 L1955.0 1581.9 L1955.5 1581.9 L1956.0 1582.0 L1956.5 1582.5 L1957.0 1582.7 L1957.5 1582.9 L1958.0 1583.0 L1958.5 1583.1 L1959.0 1583.2 L1959.5 1583.4 L1960.0 1583.4 L1960.5 1583.5 L1961.0 1583.7 L1961.5 1583.6 L1962.0 1583.6 L1962.5 1583.5 L1963.0 1583.6 L1963.5 1583.6 L1964.0 1583.7 L1964.5 1583.6 L1965.0 1583.8 L1965.5 1583.7 L1966.0 1583.6 L1966.5 1583.5 L1967.0 1583.6 L1967.5 1583.5 L1968.0 1583.7 L1968.5 1583.9 L1969.0 1583.9 L1969.5 1583.7 L1970.0 1583.6 L1970.5 1583.5 L1971.0 1583.3 L1971.5 1583.4 L1972.0 1583.7 L1972.5 1583.6 L1973.0 1583.7 L1973.5 1583.9 L1974.0 1583.7 L1974.5 1583.6 L1975.0 1583.7 L1975.5 1583.7 L1976.0 1583.5 L1976.5 1583.6 L1977.0 1583.6 L1977.5 1583.7 L1978.0 1583.5 L1978.5 1583.4 L1979.0 1583.4 L1979.5 1583.4 L1980.0 1583.5 L1983.0 1583.4 L1986.0 1583.8 L1989.0 1583.7 L1992.0 1583.8 L1995.0 1583.9 L1998.0 1584.0" fill="none" stroke="#1e1e96" stroke-width="4.4" stroke-linejoin="round"/>
<path d="M172.0 1744.5 L175.0 1744.4 L178.0 1744.3 L181.0 1744.5 L184.0 1744.5 L187.0 1744.6 L190.0 1744.6 L193.0 1744.5 L196.0 1744.4 L199.0 1744.6 L202.0 1744.5 L205.0 1744.3 L208.0 1744.6 L211.0 1744.4 L214.0 1744.3 L217.0 1744.5 L220.0 1744.3 L223.0 1744.2 L226.0 1744.4 L229.0 1744.3 L232.0 1744.7 L235.0 1744.7 L238.0 1745.0 L241.0 1744.9 L244.0 1744.9 L247.0 1744.7 L250.0 1744.7 L253.0 1744.6 L256.0 1744.6 L259.0 1744.7 L262.0 1744.5 L265.0 1744.3 L268.0 1744.1 L271.0 1744.3 L274.0 1744.4 L277.0 1744.4 L280.0 1744.4 L283.0 1744.5 L286.0 1744.6 L289.0 1744.7 L292.0 1744.6 L295.0 1744.6 L298.0 1744.6 L301.0 1744.3 L304.0 1744.5 L307.0 1744.3 L310.0 1744.2 L313.0 1744.3 L316.0 1744.3 L319.0 1744.5 L322.0 1744.7 L325.0 1744.9 L328.0 1745.1 L331.0 1744.9 L334.0 1745.1 L337.0 1744.9 L340.0 1744.9 L343.0 1744.9 L346.0 1744.8 L349.0 1744.8 L352.0 1744.7 L355.0 1744.8 L358.0 1744.5 L361.0 1744.6 L364.0 1744.8 L367.0 1744.7 L370.0 1744.7 L373.0 1744.6 L376.0 1744.7 L379.0 1745.1 L382.0 1744.9 L385.0 1745.0 L388.0 1744.9 L391.0 1744.8 L394.0 1744.7 L397.0 1744.6 L400.0 1744.5 L403.0 1744.3 L406.0 1744.5 L409.0 1744.5 L412.0 1744.6 L415.0 1744.6 L418.0 1744.7 L421.0 1744.4 L424.0 1744.3 L427.0 1744.4 L430.0 1744.6 L433.0 1744.4 L436.0 1744.3 L439.0 1744.2 L442.0 1744.3 L445.0 1744.4 L448.0 1744.4 L451.0 1744.4 L454.0 1744.4 L457.0 1744.4 L460.0 1744.3 L463.0 1744.4 L466.0 1744.3 L469.0 1744.5 L472.0 1744.6 L475.0 1744.5 L478.0 1744.5 L481.0 1744.5 L484.0 1744.4 L487.0 1744.3 L490.0 1744.1 L493.0 1744.0 L496.0 1744.1 L499.0 1744.4 L502.0 1744.3 L505.0 1744.3 L508.0 1744.4 L511.0 1744.5 L514.0 1744.6 L517.0 1744.7 L520.0 1744.8 L523.0 1744.6 L526.0 1744.7 L529.0 1744.3 L532.0 1744.3 L535.0 1744.4 L538.0 1744.4 L541.0 1744.4 L544.0 1744.5 L547.0 1744.7 L550.0 1744.6 L553.0 1744.5 L556.0 1744.5 L559.0 1744.6 L562.0 1744.6 L565.0 1744.7 L568.0 1744.5 L571.0 1744.6 L574.0 1744.7 L577.0 1744.8 L580.0 1744.8 L583.0 1744.7 L586.0 1744.7 L589.0 1744.7 L592.0 1744.4 L595.0 1744.3 L598.0 1744.3 L601.0 1744.2 L604.0 1744.0 L607.0 1743.5 L610.0 1742.0 L613.0 1741.6 L616.0 1743.1 L619.0 1744.0 L622.0 1744.4 L625.0 1744.4 L628.0 1744.5 L631.0 1744.3 L634.0 1743.9 L637.0 1744.0 L640.0 1744.1 L643.0 1744.1 L646.0 1744.1 L649.0 1743.9 L652.0 1744.1 L655.0 1744.1 L658.0 1744.2 L661.0 1744.3 L664.0 1744.4 L667.0 1744.7 L670.0 1744.6 L673.0 1744.7 L676.0 1744.7 L679.0 1744.5 L682.0 1744.5 L685.0 1744.3 L688.0 1744.1 L691.0 1744.1 L694.0 1744.0 L697.0 1744.1 L700.0 1743.9 L703.0 1743.7 L703.5 1743.7 L704.0 1743.6 L704.5 1743.6 L705.0 1743.5 L705.5 1743.3 L706.0 1743.0 L706.5 1742.9 L707.0 1743.2 L707.5 1743.2 L708.0 1743.3 L708.5 1743.2 L709.0 1743.1 L709.5 1743.2 L710.0 1742.9 L710.5 1742.8 L711.0 1742.7 L711.5 1742.9 L712.0 1742.7 L712.5 1742.8 L713.0 1742.7 L713.5 1743.0 L714.0 1742.8 L714.5 1742.7 L715.0 1742.7 L715.5 1742.7 L716.0 1742.6 L716.5 1742.2 L717.0 1742.2 L717.5 1742.2 L718.0 1741.9 L718.5 1741.5 L719.0 1741.1 L719.5 1740.9 L720.0 1740.6 L720.5 1740.2 L721.0 1739.6 L721.5 1739.3 L722.0 1738.9 L722.5 1738.2 L723.0 1737.6 L723.5 1736.4 L724.0 1735.4 L724.5 1733.7 L725.0 1731.8 L725.5 1729.1 L726.0 1725.6 L726.5 1720.6 L727.0 1714.1 L727.5 1705.8 L728.0 1695.0 L728.5 1682.2 L729.0 1667.2 L729.5 1651.0 L730.0 1634.4 L730.5 1619.5 L731.0 1608.9 L731.5 1605.2 L732.0 1608.9 L732.5 1619.5 L733.0 1634.3 L733.5 1650.7 L734.0 1666.9 L734.5 1681.8 L735.0 1694.7 L735.5 1705.1 L736.0 1713.6 L736.5 1720.0 L737.0 1724.9 L737.5 1728.9 L738.0 1731.4 L738.5 1733.4 L739.0 1734.9 L739.5 1736.2 L740.0 1737.1 L740.5 1737.6 L741.0 1738.1 L741.5 1738.7 L742.0 1739.3 L742.5 1739.9 L743.0 1740.2 L743.5 1740.6 L744.0 1740.8 L744.5 1741.2 L745.0 1741.5 L745.5 1741.6 L746.0 1741.8 L746.5 1742.2 L747.0 1742.2 L747.5 1742.2 L748.0 1742.2 L748.5 1742.2 L749.0 1742.3 L749.5 1742.5 L750.0 1742.6 L750.5 1742.8 L751.0 1743.0 L751.5 1743.1 L752.0 1743.0 L752.5 1742.7 L753.0 1742.9 L753.5 1742.9 L754.0 1743.0 L754.5 1743.1 L755.0 1743.3 L755.5 1743.1 L756.0 1743.1 L756.5 1743.2 L757.0 1743.3 L757.5 1743.5 L758.0 1743.5 L758.5 1743.3 L759.0 1743.5 L759.5 1743.4 L760.0 1743.3 L760.5 1743.5 L761.0 1743.4 L761.5 1743.8 L764.5 1744.0 L767.5 1744.1 L770.5 1744.1 L773.5 1744.5 L776.5 1744.5 L779.5 1744.4 L782.5 1744.6 L785.5 1744.3 L788.5 1744.3 L791.5 1744.3 L794.5 1744.4 L797.5 1744.2 L800.5 1744.5 L803.5 1744.7 L806.5 1744.5 L809.5 1744.5 L812.5 1744.4 L815.5 1744.4 L818.5 1744.5 L821.5 1744.5 L824.5 1744.5 L827.5 1744.5 L830.5 1744.3 L833.5 1744.5 L836.5 1744.4 L839.5 1744.5 L842.5 1744.4 L845.5 1744.3 L848.5 1744.5 L851.5 1744.5 L854.5 1744.3 L857.5 1744.1 L860.5 1744.1 L863.5 1744.2 L866.5 1744.0 L869.5 1743.7 L872.5 1743.2 L875.5 1742.8 L878.5 1742.5 L881.5 1742.1 L884.5 1741.6 L887.5 1741.3 L890.5 1740.7 L893.5 1740.2 L894.0 1740.2 L894.5 1740.2 L895.0 1740.1 L895.5 1740.2 L896.0 1739.9 L896.5 1740.1 L897.0 1740.3 L897.5 1740.4 L898.0 1740.3 L898.5 1740.4 L899.0 1740.2 L899.5 1740.2 L900.0 1740.1 L900.5 1739.9 L901.0 1739.9 L901.5 1739.5 L902.0 1739.4 L902.5 1739.5 L903.0 1739.0 L903.5 1739.0 L904.0 1739.1 L904.5 1739.1 L905.0 1739.0 L905.5 1739.1 L906.0 1739.1 L906.5 1738.7 L907.0 1738.5 L907.5 1738.4 L908.0 1738.4 L908.5 1738.3 L909.0 1738.2 L909.5 1738.4 L910.0 1738.0 L910.5 1738.2 L911.0 1738.4 L911.5 1738.4 L912.0 1738.4 L912.5 1738.4 L913.0 1738.4 L913.5 1738.4 L914.0 1738.2 L914.5 1738.1 L915.0 1737.8 L915.5 1737.4 L916.0 1736.8 L916.5 1735.9 L917.0 1734.9 L917.5 1733.4 L918.0 1731.1 L918.5 1728.3 L919.0 1724.5 L919.5 1720.2 L920.0 1714.9 L920.5 1709.0 L921.0 1702.1 L921.5 1695.2 L922.0 1688.5 L922.5 1683.1 L923.0 1680.0 L923.5 1679.9 L924.0 1682.7 L924.5 1687.6 L925.0 1694.3 L925.5 1701.4 L926.0 1708.3 L926.5 1714.7 L927.0 1720.3 L927.5 1725.4 L928.0 1729.3 L928.5 1732.6 L929.0 1735.1 L929.5 1736.9 L930.0 1738.2 L930.5 1739.2 L931.0 1739.9 L931.5 1740.3 L932.0 1740.7 L932.5 1741.2 L933.0 1741.5 L933.5 1742.0 L934.0 1742.0 L934.5 1742.3 L935.0 1742.3 L935.5 1742.6 L936.0 1742.9 L936.5 1743.0 L937.0 1743.3 L937.5 1743.3 L938.0 1743.3 L938.5 1743.2 L939.0 1743.2 L939.5 1743.3 L940.0 1743.5 L940.5 1743.7 L941.0 1743.7 L941.5 1743.6 L942.0 1743.6 L942.5 1743.6 L943.0 1743.6 L943.5 1743.6 L944.0 1743.6 L944.5 1743.6 L945.0 1743.6 L945.5 1743.7 L946.0 1743.5 L946.5 1743.6 L947.0 1743.8 L947.5 1743.9 L948.0 1743.9 L948.5 1743.8 L949.0 1743.6 L949.5 1743.6 L950.0 1743.6 L950.5 1743.6 L951.0 1743.5 L951.5 1743.7 L952.0 1743.5 L952.5 1743.6 L953.0 1743.6 L953.5 1743.8 L956.5 1744.1 L959.5 1744.1 L962.5 1744.2 L965.5 1744.1 L968.5 1744.2 L971.5 1744.2 L974.5 1744.6 L977.5 1744.4 L980.5 1744.4 L983.5 1744.3 L986.5 1744.4 L989.5 1744.3 L992.5 1744.4 L995.5 1744.3 L998.5 1744.6 L1001.5 1744.6 L1004.5 1744.3 L1007.5 1744.5 L1010.5 1744.4 L1013.5 1744.3 L1016.5 1744.3 L1019.5 1744.3 L1022.5 1744.4 L1025.5 1744.4 L1028.5 1744.5 L1031.5 1744.5 L1034.5 1744.6 L1037.5 1744.5 L1040.5 1744.3 L1043.5 1743.9 L1046.5 1743.5 L1049.5 1743.4 L1052.5 1743.7 L1055.5 1744.5 L1058.5 1744.9 L1061.5 1744.8 L1064.5 1744.9 L1067.5 1744.8 L1070.5 1744.8 L1073.5 1744.6 L1076.5 1744.8 L1079.5 1744.7 L1082.5 1744.6 L1085.5 1744.5 L1088.5 1744.8 L1091.5 1744.9 L1094.5 1744.7 L1097.5 1744.6 L1100.5 1744.6 L1103.5 1744.5 L1106.5 1744.5 L1109.5 1744.3 L1112.5 1744.4 L1115.5 1744.3 L1118.5 1744.4 L1121.5 1744.7 L1124.5 1744.7 L1127.5 1744.9 L1130.5 1744.8 L1133.5 1744.7 L1136.5 1744.6 L1139.5 1744.5 L1142.5 1744.5 L1145.5 1744.6 L1148.5 1744.7 L1151.5 1744.6 L1154.5 1744.5 L1157.5 1744.4 L1160.5 1744.7 L1163.5 1744.7 L1166.5 1744.6 L1169.5 1744.3 L1172.5 1744.3 L1175.5 1744.4 L1178.5 1744.3 L1181.5 1744.5 L1184.5 1744.4 L1187.5 1744.3 L1190.5 1744.3 L1193.5 1744.3 L1196.5 1744.5 L1199.5 1744.4 L1202.5 1744.2 L1205.5 1744.2 L1208.5 1744.3 L1211.5 1744.5 L1214.5 1744.4 L1217.5 1744.6 L1220.5 1744.7 L1223.5 1744.7 L1226.5 1744.6 L1229.5 1744.4 L1232.5 1744.3 L1235.5 1744.5 L1238.5 1744.5 L1241.5 1744.6 L1244.5 1744.9 L1247.5 1744.8 L1250.5 1744.8 L1253.5 1745.0 L1256.5 1744.7 L1259.5 1744.6 L1262.5 1744.6 L1265.5 1744.5 L1268.5 1744.5 L1271.5 1744.4 L1274.5 1744.6 L1277.5 1744.4 L1280.5 1744.3 L1283.5 1744.1 L1286.5 1744.0 L1289.5 1744.1 L1292.5 1744.3 L1295.5 1744.3 L1298.5 1744.4 L1301.5 1744.5 L1304.5 1744.4 L1307.5 1744.4 L1310.5 1744.5 L1313.5 1744.8 L1316.5 1744.7 L1319.5 1744.7 L1322.5 1744.7 L1325.5 1744.9 L1328.5 1744.9 L1331.5 1744.9 L1334.5 1744.7 L1337.5 1744.7 L1340.5 1744.4 L1343.5 1744.4 L1346.5 1744.7 L1349.5 1744.7 L1352.5 1744.7 L1355.5 1744.7 L1358.5 1744.7 L1361.5 1744.5 L1364.5 1744.4 L1367.5 1744.4 L1370.5 1744.4 L1373.5 1744.3 L1376.5 1744.3 L1379.5 1744.3 L1382.5 1744.1 L1385.5 1744.1 L1388.5 1744.0 L1391.5 1744.2 L1394.5 1744.4 L1397.5 1744.5 L1400.5 1744.5 L1403.5 1744.4 L1406.5 1744.2 L1409.5 1744.2 L1412.5 1744.4 L1415.5 1744.6 L1418.5 1744.6 L1421.5 1744.6 L1424.5 1744.6 L1427.5 1744.6 L1430.5 1744.6 L1433.5 1744.6 L1436.5 1744.5 L1439.5 1744.5 L1442.5 1744.5 L1445.5 1744.6 L1448.5 1744.4 L1451.5 1744.6 L1454.5 1744.6 L1457.5 1744.5 L1460.5 1744.5 L1463.5 1744.5 L1466.5 1744.5 L1469.5 1744.5 L1472.5 1744.5 L1475.5 1744.2 L1478.5 1744.4 L1481.5 1744.4 L1484.5 1744.6 L1487.5 1744.6 L1490.5 1744.3 L1493.5 1744.5 L1496.5 1744.4 L1499.5 1744.5 L1502.5 1744.8 L1505.5 1744.9 L1508.5 1744.7 L1511.5 1744.6 L1514.5 1744.4 L1517.5 1744.5 L1518.0 1744.5 L1518.5 1744.4 L1519.0 1744.4 L1519.5 1744.5 L1520.0 1744.6 L1520.5 1744.5 L1521.0 1744.4 L1521.5 1744.2 L1522.0 1744.1 L1522.5 1744.2 L1523.0 1744.2 L1523.5 1744.4 L1524.0 1744.4 L1524.5 1744.4 L1525.0 1744.2 L1525.5 1744.4 L1526.0 1744.4 L1526.5 1744.4 L1527.0 1744.2 L1527.5 1744.1 L1528.0 1744.2 L1528.5 1744.1 L1529.0 1744.2 L1529.5 1744.3 L1530.0 1744.2 L1530.5 1744.0 L1531.0 1744.1 L1531.5 1744.3 L1532.0 1744.1 L1532.5 1744.0 L1533.0 1744.1 L1533.5 1744.1 L1534.0 1744.0 L1534.5 1744.2 L1535.0 1744.1 L1535.5 1744.1 L1536.0 1744.0 L1536.5 1743.8 L1537.0 1743.8 L1537.5 1743.6 L1538.0 1743.2 L1538.5 1743.0 L1539.0 1743.0 L1539.5 1742.8 L1540.0 1742.7 L1540.5 1742.3 L1541.0 1741.9 L1541.5 1741.1 L1542.0 1740.2 L1542.5 1739.2 L1543.0 1738.0 L1543.5 1736.9 L1544.0 1735.6 L1544.5 1734.3 L1545.0 1733.0 L1545.5 1731.8 L1546.0 1731.0 L1546.5 1730.2 L1547.0 1729.8 L1547.5 1729.8 L1548.0 1730.2 L1548.5 1730.8 L1549.0 1731.5 L1549.5 1732.4 L1550.0 1733.5 L1550.5 1734.9 L1551.0 1736.2 L1551.5 1737.5 L1552.0 1738.7 L1552.5 1739.7 L1553.0 1740.6 L1553.5 1741.3 L1554.0 1741.7 L1554.5 1742.3 L1555.0 1742.7 L1555.5 1743.1 L1556.0 1743.2 L1556.5 1743.4 L1557.0 1743.8 L1557.5 1743.8 L1558.0 1743.9 L1558.5 1744.2 L1559.0 1744.2 L1559.5 1744.2 L1560.0 1743.9 L1560.5 1744.1 L1561.0 1744.1 L1561.5 1744.3 L1562.0 1744.3 L1562.5 1744.2 L1563.0 1744.3 L1563.5 1744.3 L1564.0 1744.2 L1564.5 1744.4 L1565.0 1744.6 L1565.5 1744.5 L1566.0 1744.6 L1566.5 1744.7 L1567.0 1744.7 L1567.5 1744.7 L1568.0 1744.6 L1568.5 1744.7 L1569.0 1744.7 L1569.5 1744.7 L1570.0 1744.6 L1570.5 1744.5 L1571.0 1744.6 L1571.5 1744.4 L1572.0 1744.4 L1572.5 1744.5 L1573.0 1744.5 L1573.5 1744.5 L1574.0 1744.5 L1574.5 1744.4 L1575.0 1744.5 L1575.5 1744.5 L1576.0 1744.2 L1576.5 1744.1 L1577.0 1744.2 L1577.5 1744.3 L1580.5 1744.2 L1583.5 1744.1 L1586.5 1744.2 L1589.5 1744.1 L1592.5 1744.1 L1595.5 1744.1 L1598.5 1744.1 L1601.5 1744.2 L1604.5 1744.1 L1607.5 1744.1 L1610.5 1744.2 L1613.5 1744.4 L1616.5 1744.6 L1619.5 1744.7 L1622.5 1744.6 L1625.5 1744.6 L1628.5 1744.7 L1631.5 1744.8 L1634.5 1744.5 L1637.5 1744.5 L1640.5 1744.4 L1643.5 1744.5 L1646.5 1744.6 L1649.5 1744.5 L1652.5 1744.8 L1655.5 1744.7 L1658.5 1745.0 L1661.5 1744.9 L1664.5 1744.8 L1667.5 1745.0 L1670.5 1744.9 L1673.5 1744.8 L1676.5 1744.9 L1679.5 1744.9 L1682.5 1744.9 L1685.5 1744.6 L1688.5 1744.9 L1691.5 1744.9 L1694.5 1744.9 L1697.5 1744.9 L1700.5 1744.8 L1703.5 1744.7 L1706.5 1744.5 L1709.5 1744.5 L1712.5 1744.7 L1715.5 1744.8 L1718.5 1744.8 L1721.5 1744.9 L1724.5 1744.7 L1727.5 1744.5 L1730.5 1744.6 L1733.5 1744.6 L1736.5 1744.7 L1739.5 1744.7 L1742.5 1744.5 L1745.5 1744.6 L1748.5 1744.5 L1751.5 1744.3 L1754.5 1744.2 L1757.5 1744.2 L1760.5 1744.1 L1763.5 1744.1 L1766.5 1744.2 L1769.5 1744.6 L1772.5 1744.8 L1775.5 1744.7 L1778.5 1744.8 L1781.5 1744.8 L1784.5 1744.8 L1787.5 1744.7 L1790.5 1744.6 L1793.5 1744.4 L1796.5 1744.6 L1799.5 1744.5 L1802.5 1744.6 L1805.5 1744.5 L1808.5 1744.5 L1811.5 1744.4 L1814.5 1744.4 L1817.5 1744.5 L1820.5 1744.6 L1823.5 1744.3 L1826.5 1744.5 L1829.5 1744.3 L1832.5 1744.4 L1835.5 1744.5 L1838.5 1744.4 L1841.5 1744.4 L1844.5 1744.3 L1847.5 1744.4 L1850.5 1744.6 L1853.5 1744.7 L1856.5 1744.7 L1859.5 1745.0 L1862.5 1744.8 L1865.5 1745.0 L1868.5 1744.8 L1871.5 1744.9 L1874.5 1744.8 L1877.5 1744.8 L1880.5 1744.6 L1883.5 1744.7 L1886.5 1744.9 L1889.5 1744.9 L1892.5 1744.8 L1895.5 1744.8 L1898.5 1744.8 L1901.5 1744.7 L1904.5 1744.7 L1907.5 1744.7 L1910.5 1744.8 L1913.5 1744.9 L1916.5 1744.7 L1919.5 1744.6 L1922.5 1744.6 L1923.0 1744.7 L1923.5 1744.8 L1924.0 1744.7 L1924.5 1744.9 L1925.0 1744.9 L1925.5 1745.0 L1926.0 1745.1 L1926.5 1745.2 L1927.0 1745.1 L1927.5 1745.1 L1928.0 1744.8 L1928.5 1744.5 L1929.0 1744.4 L1929.5 1744.5 L1930.0 1744.7 L1930.5 1744.6 L1931.0 1744.7 L1931.5 1744.8 L1932.0 1744.9 L1932.5 1744.6 L1933.0 1744.5 L1933.5 1744.4 L1934.0 1744.2 L1934.5 1744.5 L1935.0 1744.3 L1935.5 1744.2 L1936.0 1744.2 L1936.5 1744.3 L1937.0 1744.3 L1937.5 1744.4 L1938.0 1744.4 L1938.5 1744.3 L1939.0 1744.0 L1939.5 1743.9 L1940.0 1743.7 L1940.5 1743.9 L1941.0 1743.8 L1941.5 1743.6 L1942.0 1743.6 L1942.5 1743.5 L1943.0 1743.2 L1943.5 1743.3 L1944.0 1743.2 L1944.5 1743.0 L1945.0 1742.7 L1945.5 1742.4 L1946.0 1741.9 L1946.5 1741.8 L1947.0 1741.6 L1947.5 1741.3 L1948.0 1741.2 L1948.5 1741.5 L1949.0 1741.2 L1949.5 1740.8 L1950.0 1740.9 L1950.5 1740.9 L1951.0 1740.9 L1951.5 1741.2 L1952.0 1741.3 L1952.5 1741.7 L1953.0 1741.9 L1953.5 1742.3 L1954.0 1742.5 L1954.5 1742.4 L1955.0 1742.9 L1955.5 1742.8 L1956.0 1743.2 L1956.5 1743.4 L1957.0 1743.4 L1957.5 1743.6 L1958.0 1743.9 L1958.5 1743.8 L1959.0 1744.0 L1959.5 1743.9 L1960.0 1743.9 L1960.5 1743.9 L1961.0 1744.2 L1961.5 1744.3 L1962.0 1744.3 L1962.5 1744.4 L1963.0 1744.4 L1963.5 1744.4 L1964.0 1744.5 L1964.5 1744.2 L1965.0 1744.4 L1965.5 1744.3 L1966.0 1744.0 L1966.5 1744.2 L1967.0 1744.0 L1967.5 1744.1 L1968.0 1744.1 L1968.5 1744.1 L1969.0 1744.2 L1969.5 1744.2 L1970.0 1744.2 L1970.5 1744.1 L1971.0 1744.2 L1971.5 1744.1 L1972.0 1744.1 L1972.5 1744.4 L1973.0 1744.5 L1973.5 1744.6 L1974.0 1744.4 L1974.5 1744.5 L1975.0 1744.6 L1975.5 1744.9 L1976.0 1744.5 L1976.5 1744.5 L1977.0 1744.5 L1977.5 1744.6 L1978.0 1744.5 L1978.5 1744.4 L1979.0 1744.7 L1979.5 1744.8 L1980.0 1744.5 L1983.0 1744.5 L1986.0 1744.7 L1989.0 1744.6 L1992.0 1744.6 L1995.0 1744.6 L1998.0 1744.4" fill="none" stroke="#fcdcdc" stroke-width="7.9" stroke-linejoin="round"/>
<path d="M172.0 1744.5 L175.0 1744.4 L178.0 1744.3 L181.0 1744.5 L184.0 1744.5 L187.0 1744.6 L190.0 1744.6 L193.0 1744.5 L196.0 1744.4 L199.0 1744.6 L202.0 1744.5 L205.0 1744.3 L208.0 1744.6 L211.0 1744.4 L214.0 1744.3 L217.0 1744.5 L220.0 1744.3 L223.0 1744.2 L226.0 1744.4 L229.0 1744.3 L232.0 1744.7 L235.0 1744.7 L238.0 1745.0 L241.0 1744.9 L244.0 1744.9 L247.0 1744.7 L250.0 1744.7 L253.0 1744.6 L256.0 1744.6 L259.0 1744.7 L262.0 1744.5 L265.0 1744.3 L268.0 1744.1 L271.0 1744.3 L274.0 1744.4 L277.0 1744.4 L280.0 1744.4 L283.0 1744.5 L286.0 1744.6 L289.0 1744.7 L292.0 1744.6 L295.0 1744.6 L298.0 1744.6 L301.0 1744.3 L304.0 1744.5 L307.0 1744.3 L310.0 1744.2 L313.0 1744.3 L316.0 1744.3 L319.0 1744.5 L322.0 1744.7 L325.0 1744.9 L328.0 1745.1 L331.0 1744.9 L334.0 1745.1 L337.0 1744.9 L340.0 1744.9 L343.0 1744.9 L346.0 1744.8 L349.0 1744.8 L352.0 1744.7 L355.0 1744.8 L358.0 1744.5 L361.0 1744.6 L364.0 1744.8 L367.0 1744.7 L370.0 1744.7 L373.0 1744.6 L376.0 1744.7 L379.0 1745.1 L382.0 1744.9 L385.0 1745.0 L388.0 1744.9 L391.0 1744.8 L394.0 1744.7 L397.0 1744.6 L400.0 1744.5 L403.0 1744.3 L406.0 1744.5 L409.0 1744.5 L412.0 1744.6 L415.0 1744.6 L418.0 1744.7 L421.0 1744.4 L424.0 1744.3 L427.0 1744.4 L430.0 1744.6 L433.0 1744.4 L436.0 1744.3 L439.0 1744.2 L442.0 1744.3 L445.0 1744.4 L448.0 1744.4 L451.0 1744.4 L454.0 1744.4 L457.0 1744.4 L460.0 1744.3 L463.0 1744.4 L466.0 1744.3 L469.0 1744.5 L472.0 1744.6 L475.0 1744.5 L478.0 1744.5 L481.0 1744.5 L484.0 1744.4 L487.0 1744.3 L490.0 1744.1 L493.0 1744.0 L496.0 1744.1 L499.0 1744.4 L502.0 1744.3 L505.0 1744.3 L508.0 1744.4 L511.0 1744.5 L514.0 1744.6 L517.0 1744.7 L520.0 1744.8 L523.0 1744.6 L526.0 1744.7 L529.0 1744.3 L532.0 1744.3 L535.0 1744.4 L538.0 1744.4 L541.0 1744.4 L544.0 1744.5 L547.0 1744.7 L550.0 1744.6 L553.0 1744.5 L556.0 1744.5 L559.0 1744.6 L562.0 1744.6 L565.0 1744.7 L568.0 1744.5 L571.0 1744.6 L574.0 1744.7 L577.0 1744.8 L580.0 1744.8 L583.0 1744.7 L586.0 1744.7 L589.0 1744.7 L592.0 1744.4 L595.0 1744.3 L598.0 1744.3 L601.0 1744.2 L604.0 1744.0 L607.0 1743.5 L610.0 1742.0 L613.0 1741.6 L616.0 1743.1 L619.0 1744.0 L622.0 1744.4 L625.0 1744.4 L628.0 1744.5 L631.0 1744.3 L634.0 1743.9 L637.0 1744.0 L640.0 1744.1 L643.0 1744.1 L646.0 1744.1 L649.0 1743.9 L652.0 1744.1 L655.0 1744.1 L658.0 1744.2 L661.0 1744.3 L664.0 1744.4 L667.0 1744.7 L670.0 1744.6 L673.0 1744.7 L676.0 1744.7 L679.0 1744.5 L682.0 1744.5 L685.0 1744.3 L688.0 1744.1 L691.0 1744.1 L694.0 1744.0 L697.0 1744.1 L700.0 1743.9 L703.0 1743.7 L703.5 1743.7 L704.0 1743.6 L704.5 1743.6 L705.0 1743.5 L705.5 1743.3 L706.0 1743.0 L706.5 1742.9 L707.0 1743.2 L707.5 1743.2 L708.0 1743.3 L708.5 1743.2 L709.0 1743.1 L709.5 1743.2 L710.0 1742.9 L710.5 1742.8 L711.0 1742.7 L711.5 1742.9 L712.0 1742.7 L712.5 1742.8 L713.0 1742.7 L713.5 1743.0 L714.0 1742.8 L714.5 1742.7 L715.0 1742.7 L715.5 1742.7 L716.0 1742.6 L716.5 1742.2 L717.0 1742.2 L717.5 1742.2 L718.0 1741.9 L718.5 1741.5 L719.0 1741.1 L719.5 1740.9 L720.0 1740.6 L720.5 1740.2 L721.0 1739.6 L721.5 1739.3 L722.0 1738.9 L722.5 1738.2 L723.0 1737.6 L723.5 1736.4 L724.0 1735.4 L724.5 1733.7 L725.0 1731.8 L725.5 1729.1 L726.0 1725.6 L726.5 1720.6 L727.0 1714.1 L727.5 1705.8 L728.0 1695.0 L728.5 1682.2 L729.0 1667.2 L729.5 1651.0 L730.0 1634.4 L730.5 1619.5 L731.0 1608.9 L731.5 1605.2 L732.0 1608.9 L732.5 1619.5 L733.0 1634.3 L733.5 1650.7 L734.0 1666.9 L734.5 1681.8 L735.0 1694.7 L735.5 1705.1 L736.0 1713.6 L736.5 1720.0 L737.0 1724.9 L737.5 1728.9 L738.0 1731.4 L738.5 1733.4 L739.0 1734.9 L739.5 1736.2 L740.0 1737.1 L740.5 1737.6 L741.0 1738.1 L741.5 1738.7 L742.0 1739.3 L742.5 1739.9 L743.0 1740.2 L743.5 1740.6 L744.0 1740.8 L744.5 1741.2 L745.0 1741.5 L745.5 1741.6 L746.0 1741.8 L746.5 1742.2 L747.0 1742.2 L747.5 1742.2 L748.0 1742.2 L748.5 1742.2 L749.0 1742.3 L749.5 1742.5 L750.0 1742.6 L750.5 1742.8 L751.0 1743.0 L751.5 1743.1 L752.0 1743.0 L752.5 1742.7 L753.0 1742.9 L753.5 1742.9 L754.0 1743.0 L754.5 1743.1 L755.0 1743.3 L755.5 1743.1 L756.0 1743.1 L756.5 1743.2 L757.0 1743.3 L757.5 1743.5 L758.0 1743.5 L758.5 1743.3 L759.0 1743.5 L759.5 1743.4 L760.0 1743.3 L760.5 1743.5 L761.0 1743.4 L761.5 1743.8 L764.5 1744.0 L767.5 1744.1 L770.5 1744.1 L773.5 1744.5 L776.5 1744.5 L779.5 1744.4 L782.5 1744.6 L785.5 1744.3 L788.5 1744.3 L791.5 1744.3 L794.5 1744.4 L797.5 1744.2 L800.5 1744.5 L803.5 1744.7 L806.5 1744.5 L809.5 1744.5 L812.5 1744.4 L815.5 1744.4 L818.5 1744.5 L821.5 1744.5 L824.5 1744.5 L827.5 1744.5 L830.5 1744.3 L833.5 1744.5 L836.5 1744.4 L839.5 1744.5 L842.5 1744.4 L845.5 1744.3 L848.5 1744.5 L851.5 1744.5 L854.5 1744.3 L857.5 1744.1 L860.5 1744.1 L863.5 1744.2 L866.5 1744.0 L869.5 1743.7 L872.5 1743.2 L875.5 1742.8 L878.5 1742.5 L881.5 1742.1 L884.5 1741.6 L887.5 1741.3 L890.5 1740.7 L893.5 1740.2 L894.0 1740.2 L894.5 1740.2 L895.0 1740.1 L895.5 1740.2 L896.0 1739.9 L896.5 1740.1 L897.0 1740.3 L897.5 1740.4 L898.0 1740.3 L898.5 1740.4 L899.0 1740.2 L899.5 1740.2 L900.0 1740.1 L900.5 1739.9 L901.0 1739.9 L901.5 1739.5 L902.0 1739.4 L902.5 1739.5 L903.0 1739.0 L903.5 1739.0 L904.0 1739.1 L904.5 1739.1 L905.0 1739.0 L905.5 1739.1 L906.0 1739.1 L906.5 1738.7 L907.0 1738.5 L907.5 1738.4 L908.0 1738.4 L908.5 1738.3 L909.0 1738.2 L909.5 1738.4 L910.0 1738.0 L910.5 1738.2 L911.0 1738.4 L911.5 1738.4 L912.0 1738.4 L912.5 1738.4 L913.0 1738.4 L913.5 1738.4 L914.0 1738.2 L914.5 1738.1 L915.0 1737.8 L915.5 1737.4 L916.0 1736.8 L916.5 1735.9 L917.0 1734.9 L917.5 1733.4 L918.0 1731.1 L918.5 1728.3 L919.0 1724.5 L919.5 1720.2 L920.0 1714.9 L920.5 1709.0 L921.0 1702.1 L921.5 1695.2 L922.0 1688.5 L922.5 1683.1 L923.0 1680.0 L923.5 1679.9 L924.0 1682.7 L924.5 1687.6 L925.0 1694.3 L925.5 1701.4 L926.0 1708.3 L926.5 1714.7 L927.0 1720.3 L927.5 1725.4 L928.0 1729.3 L928.5 1732.6 L929.0 1735.1 L929.5 1736.9 L930.0 1738.2 L930.5 1739.2 L931.0 1739.9 L931.5 1740.3 L932.0 1740.7 L932.5 1741.2 L933.0 1741.5 L933.5 1742.0 L934.0 1742.0 L934.5 1742.3 L935.0 1742.3 L935.5 1742.6 L936.0 1742.9 L936.5 1743.0 L937.0 1743.3 L937.5 1743.3 L938.0 1743.3 L938.5 1743.2 L939.0 1743.2 L939.5 1743.3 L940.0 1743.5 L940.5 1743.7 L941.0 1743.7 L941.5 1743.6 L942.0 1743.6 L942.5 1743.6 L943.0 1743.6 L943.5 1743.6 L944.0 1743.6 L944.5 1743.6 L945.0 1743.6 L945.5 1743.7 L946.0 1743.5 L946.5 1743.6 L947.0 1743.8 L947.5 1743.9 L948.0 1743.9 L948.5 1743.8 L949.0 1743.6 L949.5 1743.6 L950.0 1743.6 L950.5 1743.6 L951.0 1743.5 L951.5 1743.7 L952.0 1743.5 L952.5 1743.6 L953.0 1743.6 L953.5 1743.8 L956.5 1744.1 L959.5 1744.1 L962.5 1744.2 L965.5 1744.1 L968.5 1744.2 L971.5 1744.2 L974.5 1744.6 L977.5 1744.4 L980.5 1744.4 L983.5 1744.3 L986.5 1744.4 L989.5 1744.3 L992.5 1744.4 L995.5 1744.3 L998.5 1744.6 L1001.5 1744.6 L1004.5 1744.3 L1007.5 1744.5 L1010.5 1744.4 L1013.5 1744.3 L1016.5 1744.3 L1019.5 1744.3 L1022.5 1744.4 L1025.5 1744.4 L1028.5 1744.5 L1031.5 1744.5 L1034.5 1744.6 L1037.5 1744.5 L1040.5 1744.3 L1043.5 1743.9 L1046.5 1743.5 L1049.5 1743.4 L1052.5 1743.7 L1055.5 1744.5 L1058.5 1744.9 L1061.5 1744.8 L1064.5 1744.9 L1067.5 1744.8 L1070.5 1744.8 L1073.5 1744.6 L1076.5 1744.8 L1079.5 1744.7 L1082.5 1744.6 L1085.5 1744.5 L1088.5 1744.8 L1091.5 1744.9 L1094.5 1744.7 L1097.5 1744.6 L1100.5 1744.6 L1103.5 1744.5 L1106.5 1744.5 L1109.5 1744.3 L1112.5 1744.4 L1115.5 1744.3 L1118.5 1744.4 L1121.5 1744.7 L1124.5 1744.7 L1127.5 1744.9 L1130.5 1744.8 L1133.5 1744.7 L1136.5 1744.6 L1139.5 1744.5 L1142.5 1744.5 L1145.5 1744.6 L1148.5 1744.7 L1151.5 1744.6 L1154.5 1744.5 L1157.5 1744.4 L1160.5 1744.7 L1163.5 1744.7 L1166.5 1744.6 L1169.5 1744.3 L1172.5 1744.3 L1175.5 1744.4 L1178.5 1744.3 L1181.5 1744.5 L1184.5 1744.4 L1187.5 1744.3 L1190.5 1744.3 L1193.5 1744.3 L1196.5 1744.5 L1199.5 1744.4 L1202.5 1744.2 L1205.5 1744.2 L1208.5 1744.3 L1211.5 1744.5 L1214.5 1744.4 L1217.5 1744.6 L1220.5 1744.7 L1223.5 1744.7 L1226.5 1744.6 L1229.5 1744.4 L1232.5 1744.3 L1235.5 1744.5 L1238.5 1744.5 L1241.5 1744.6 L1244.5 1744.9 L1247.5 1744.8 L1250.5 1744.8 L1253.5 1745.0 L1256.5 1744.7 L1259.5 1744.6 L1262.5 1744.6 L1265.5 1744.5 L1268.5 1744.5 L1271.5 1744.4 L1274.5 1744.6 L1277.5 1744.4 L1280.5 1744.3 L1283.5 1744.1 L1286.5 1744.0 L1289.5 1744.1 L1292.5 1744.3 L1295.5 1744.3 L1298.5 1744.4 L1301.5 1744.5 L1304.5 1744.4 L1307.5 1744.4 L1310.5 1744.5 L1313.5 1744.8 L1316.5 1744.7 L1319.5 1744.7 L1322.5 1744.7 L1325.5 1744.9 L1328.5 1744.9 L1331.5 1744.9 L1334.5 1744.7 L1337.5 1744.7 L1340.5 1744.4 L1343.5 1744.4 L1346.5 1744.7 L1349.5 1744.7 L1352.5 1744.7 L1355.5 1744.7 L1358.5 1744.7 L1361.5 1744.5 L1364.5 1744.4 L1367.5 1744.4 L1370.5 1744.4 L1373.5 1744.3 L1376.5 1744.3 L1379.5 1744.3 L1382.5 1744.1 L1385.5 1744.1 L1388.5 1744.0 L1391.5 1744.2 L1394.5 1744.4 L1397.5 1744.5 L1400.5 1744.5 L1403.5 1744.4 L1406.5 1744.2 L1409.5 1744.2 L1412.5 1744.4 L1415.5 1744.6 L1418.5 1744.6 L1421.5 1744.6 L1424.5 1744.6 L1427.5 1744.6 L1430.5 1744.6 L1433.5 1744.6 L1436.5 1744.5 L1439.5 1744.5 L1442.5 1744.5 L1445.5 1744.6 L1448.5 1744.4 L1451.5 1744.6 L1454.5 1744.6 L1457.5 1744.5 L1460.5 1744.5 L1463.5 1744.5 L1466.5 1744.5 L1469.5 1744.5 L1472.5 1744.5 L1475.5 1744.2 L1478.5 1744.4 L1481.5 1744.4 L1484.5 1744.6 L1487.5 1744.6 L1490.5 1744.3 L1493.5 1744.5 L1496.5 1744.4 L1499.5 1744.5 L1502.5 1744.8 L1505.5 1744.9 L1508.5 1744.7 L1511.5 1744.6 L1514.5 1744.4 L1517.5 1744.5 L1518.0 1744.5 L1518.5 1744.4 L1519.0 1744.4 L1519.5 1744.5 L1520.0 1744.6 L1520.5 1744.5 L1521.0 1744.4 L1521.5 1744.2 L1522.0 1744.1 L1522.5 1744.2 L1523.0 1744.2 L1523.5 1744.4 L1524.0 1744.4 L1524.5 1744.4 L1525.0 1744.2 L1525.5 1744.4 L1526.0 1744.4 L1526.5 1744.4 L1527.0 1744.2 L1527.5 1744.1 L1528.0 1744.2 L1528.5 1744.1 L1529.0 1744.2 L1529.5 1744.3 L1530.0 1744.2 L1530.5 1744.0 L1531.0 1744.1 L1531.5 1744.3 L1532.0 1744.1 L1532.5 1744.0 L1533.0 1744.1 L1533.5 1744.1 L1534.0 1744.0 L1534.5 1744.2 L1535.0 1744.1 L1535.5 1744.1 L1536.0 1744.0 L1536.5 1743.8 L1537.0 1743.8 L1537.5 1743.6 L1538.0 1743.2 L1538.5 1743.0 L1539.0 1743.0 L1539.5 1742.8 L1540.0 1742.7 L1540.5 1742.3 L1541.0 1741.9 L1541.5 1741.1 L1542.0 1740.2 L1542.5 1739.2 L1543.0 1738.0 L1543.5 1736.9 L1544.0 1735.6 L1544.5 1734.3 L1545.0 1733.0 L1545.5 1731.8 L1546.0 1731.0 L1546.5 1730.2 L1547.0 1729.8 L1547.5 1729.8 L1548.0 1730.2 L1548.5 1730.8 L1549.0 1731.5 L1549.5 1732.4 L1550.0 1733.5 L1550.5 1734.9 L1551.0 1736.2 L1551.5 1737.5 L1552.0 1738.7 L1552.5 1739.7 L1553.0 1740.6 L1553.5 1741.3 L1554.0 1741.7 L1554.5 1742.3 L1555.0 1742.7 L1555.5 1743.1 L1556.0 1743.2 L1556.5 1743.4 L1557.0 1743.8 L1557.5 1743.8 L1558.0 1743.9 L1558.5 1744.2 L1559.0 1744.2 L1559.5 1744.2 L1560.0 1743.9 L1560.5 1744.1 L1561.0 1744.1 L1561.5 1744.3 L1562.0 1744.3 L1562.5 1744.2 L1563.0 1744.3 L1563.5 1744.3 L1564.0 1744.2 L1564.5 1744.4 L1565.0 1744.6 L1565.5 1744.5 L1566.0 1744.6 L1566.5 1744.7 L1567.0 1744.7 L1567.5 1744.7 L1568.0 1744.6 L1568.5 1744.7 L1569.0 1744.7 L1569.5 1744.7 L1570.0 1744.6 L1570.5 1744.5 L1571.0 1744.6 L1571.5 1744.4 L1572.0 1744.4 L1572.5 1744.5 L1573.0 1744.5 L1573.5 1744.5 L1574.0 1744.5 L1574.5 1744.4 L1575.0 1744.5 L1575.5 1744.5 L1576.0 1744.2 L1576.5 1744.1 L1577.0 1744.2 L1577.5 1744.3 L1580.5 1744.2 L1583.5 1744.1 L1586.5 1744.2 L1589.5 1744.1 L1592.5 1744.1 L1595.5 1744.1 L1598.5 1744.1 L1601.5 1744.2 L1604.5 1744.1 L1607.5 1744.1 L1610.5 1744.2 L1613.5 1744.4 L1616.5 1744.6 L1619.5 1744.7 L1622.5 1744.6 L1625.5 1744.6 L1628.5 1744.7 L1631.5 1744.8 L1634.5 1744.5 L1637.5 1744.5 L1640.5 1744.4 L1643.5 1744.5 L1646.5 1744.6 L1649.5 1744.5 L1652.5 1744.8 L1655.5 1744.7 L1658.5 1745.0 L1661.5 1744.9 L1664.5 1744.8 L1667.5 1745.0 L1670.5 1744.9 L1673.5 1744.8 L1676.5 1744.9 L1679.5 1744.9 L1682.5 1744.9 L1685.5 1744.6 L1688.5 1744.9 L1691.5 1744.9 L1694.5 1744.9 L1697.5 1744.9 L1700.5 1744.8 L1703.5 1744.7 L1706.5 1744.5 L1709.5 1744.5 L1712.5 1744.7 L1715.5 1744.8 L1718.5 1744.8 L1721.5 1744.9 L1724.5 1744.7 L1727.5 1744.5 L1730.5 1744.6 L1733.5 1744.6 L1736.5 1744.7 L1739.5 1744.7 L1742.5 1744.5 L1745.5 1744.6 L1748.5 1744.5 L1751.5 1744.3 L1754.5 1744.2 L1757.5 1744.2 L1760.5 1744.1 L1763.5 1744.1 L1766.5 1744.2 L1769.5 1744.6 L1772.5 1744.8 L1775.5 1744.7 L1778.5 1744.8 L1781.5 1744.8 L1784.5 1744.8 L1787.5 1744.7 L1790.5 1744.6 L1793.5 1744.4 L1796.5 1744.6 L1799.5 1744.5 L1802.5 1744.6 L1805.5 1744.5 L1808.5 1744.5 L1811.5 1744.4 L1814.5 1744.4 L1817.5 1744.5 L1820.5 1744.6 L1823.5 1744.3 L1826.5 1744.5 L1829.5 1744.3 L1832.5 1744.4 L1835.5 1744.5 L1838.5 1744.4 L1841.5 1744.4 L1844.5 1744.3 L1847.5 1744.4 L1850.5 1744.6 L1853.5 1744.7 L1856.5 1744.7 L1859.5 1745.0 L1862.5 1744.8 L1865.5 1745.0 L1868.5 1744.8 L1871.5 1744.9 L1874.5 1744.8 L1877.5 1744.8 L1880.5 1744.6 L1883.5 1744.7 L1886.5 1744.9 L1889.5 1744.9 L1892.5 1744.8 L1895.5 1744.8 L1898.5 1744.8 L1901.5 1744.7 L1904.5 1744.7 L1907.5 1744.7 L1910.5 1744.8 L1913.5 1744.9 L1916.5 1744.7 L1919.5 1744.6 L1922.5 1744.6 L1923.0 1744.7 L1923.5 1744.8 L1924.0 1744.7 L1924.5 1744.9 L1925.0 1744.9 L1925.5 1745.0 L1926.0 1745.1 L1926.5 1745.2 L1927.0 1745.1 L1927.5 1745.1 L1928.0 1744.8 L1928.5 1744.5 L1929.0 1744.4 L1929.5 1744.5 L1930.0 1744.7 L1930.5 1744.6 L1931.0 1744.7 L1931.5 1744.8 L1932.0 1744.9 L1932.5 1744.6 L1933.0 1744.5 L1933.5 1744.4 L1934.0 1744.2 L1934.5 1744.5 L1935.0 1744.3 L1935.5 1744.2 L1936.0 1744.2 L1936.5 1744.3 L1937.0 1744.3 L1937.5 1744.4 L1938.0 1744.4 L1938.5 1744.3 L1939.0 1744.0 L1939.5 1743.9 L1940.0 1743.7 L1940.5 1743.9 L1941.0 1743.8 L1941.5 1743.6 L1942.0 1743.6 L1942.5 1743.5 L1943.0 1743.2 L1943.5 1743.3 L1944.0 1743.2 L1944.5 1743.0 L1945.0 1742.7 L1945.5 1742.4 L1946.0 1741.9 L1946.5 1741.8 L1947.0 1741.6 L1947.5 1741.3 L1948.0 1741.2 L1948.5 1741.5 L1949.0 1741.2 L1949.5 1740.8 L1950.0 1740.9 L1950.5 1740.9 L1951.0 1740.9 L1951.5 1741.2 L1952.0 1741.3 L1952.5 1741.7 L1953.0 1741.9 L1953.5 1742.3 L1954.0 1742.5 L1954.5 1742.4 L1955.0 1742.9 L1955.5 1742.8 L1956.0 1743.2 L1956.5 1743.4 L1957.0 1743.4 L1957.5 1743.6 L1958.0 1743.9 L1958.5 1743.8 L1959.0 1744.0 L1959.5 1743.9 L1960.0 1743.9 L1960.5 1743.9 L1961.0 1744.2 L1961.5 1744.3 L1962.0 1744.3 L1962.5 1744.4 L1963.0 1744.4 L1963.5 1744.4 L1964.0 1744.5 L1964.5 1744.2 L1965.0 1744.4 L1965.5 1744.3 L1966.0 1744.0 L1966.5 1744.2 L1967.0 1744.0 L1967.5 1744.1 L1968.0 1744.1 L1968.5 1744.1 L1969.0 1744.2 L1969.5 1744.2 L1970.0 1744.2 L1970.5 1744.1 L1971.0 1744.2 L1971.5 1744.1 L1972.0 1744.1 L1972.5 1744.4 L1973.0 1744.5 L1973.5 1744.6 L1974.0 1744.4 L1974.5 1744.5 L1975.0 1744.6 L1975.5 1744.9 L1976.0 1744.5 L1976.5 1744.5 L1977.0 1744.5 L1977.5 1744.6 L1978.0 1744.5 L1978.5 1744.4 L1979.0 1744.7 L1979.5 1744.8 L1980.0 1744.5 L1983.0 1744.5 L1986.0 1744.7 L1989.0 1744.6 L1992.0 1744.6 L1995.0 1744.6 L1998.0 1744.4" fill="none" stroke="#b03434" stroke-width="4.4" stroke-linejoin="round"/>
<g stroke="#000" fill="none" stroke-linecap="butt">
<line x1="161.5" y1="32" x2="2009.5" y2="32" stroke-width="8"/>
<line x1="166.2" y1="28" x2="166.2" y2="1876.5" stroke-width="9"/>
<line x1="2004.2" y1="28" x2="2004.2" y2="1876.5" stroke-width="10"/>
<line x1="161.5" y1="1871.2" x2="2009.5" y2="1871.2" stroke-width="10"/>
<line x1="318.8" y1="1850" x2="318.8" y2="1868" stroke-width="9"/>
<line x1="472.0" y1="1836" x2="472.0" y2="1868" stroke-width="9"/>
<line x1="625.2" y1="1850" x2="625.2" y2="1868" stroke-width="9"/>
<line x1="778.4" y1="1836" x2="778.4" y2="1868" stroke-width="9"/>
<line x1="931.6" y1="1850" x2="931.6" y2="1868" stroke-width="9"/>
<line x1="1084.8" y1="1836" x2="1084.8" y2="1868" stroke-width="9"/>
<line x1="1238.0" y1="1850" x2="1238.0" y2="1868" stroke-width="9"/>
<line x1="1391.2" y1="1836" x2="1391.2" y2="1868" stroke-width="9"/>
<line x1="1544.4" y1="1850" x2="1544.4" y2="1868" stroke-width="9"/>
<line x1="1697.6" y1="1836" x2="1697.6" y2="1868" stroke-width="9"/>
<line x1="1850.8" y1="1850" x2="1850.8" y2="1868" stroke-width="9"/>
</g>
<g class="b" font-size="57" text-anchor="middle">
<text x="164.6" y="1947">20</text>
<text x="471.0" y="1947">30</text>
<text x="777.4" y="1947">40</text>
<text x="1083.8" y="1947">50</text>
<text x="1390.2" y="1947">60</text>
<text x="1696.6" y="1947">70</text>
<text x="2003.0" y="1947">80</text>
</g>
<text class="b" x="1017" y="2061" font-size="70">2</text>
<text class="s" font-size="68" transform="translate(1075,2061) scale(1.15,1)">&#952;</text>
<text class="s" x="1124" y="2061" font-size="68">&#176;</text>
<text class="b" font-size="73" text-anchor="middle" transform="translate(91,1117.5) rotate(-90)">Intensity, (a.u)</text>
<circle cx="261.5" cy="472.3" r="14.5" fill="none" stroke="#000" stroke-width="5.5"/>
<text class="b" x="292.5" y="497" font-size="70">Al</text>
<circle cx="329" cy="517.5" r="1.3" fill="#666"/>
<rect x="238.2" y="532" width="35" height="30" fill="none" stroke="#000" stroke-width="5.5"/>
<text class="b" x="301" y="572.5" font-size="54">Fe40Al</text>
<text class="b" font-size="59" letter-spacing="1" text-anchor="middle" transform="translate(751.5,545.5) rotate(-90)">(111)</text>
<text class="b" font-size="59" letter-spacing="1" text-anchor="middle" transform="translate(885.5,691.5) rotate(-90)">(110)</text>
<text class="b" font-size="59" letter-spacing="1" text-anchor="middle" transform="translate(955.0,661.0) rotate(-90)">(200)</text>
<text class="b" font-size="59" letter-spacing="1" text-anchor="middle" transform="translate(1564.5,741.0) rotate(-90)">(220)</text>
<text class="b" font-size="59" letter-spacing="1" text-anchor="middle" transform="translate(1979.0,768.5) rotate(-90)">(311)</text>
<circle cx="734.0" cy="663.3" r="14.4" fill="none" stroke="#000" stroke-width="5.5"/>
<circle cx="924.5" cy="804.5" r="14.4" fill="none" stroke="#000" stroke-width="5.5"/>
<circle cx="1543.7" cy="849.8" r="14.4" fill="none" stroke="#000" stroke-width="5.5"/>
<circle cx="1953.4" cy="860.8" r="14.4" fill="none" stroke="#000" stroke-width="5.5"/>
<rect x="866" y="832.5" width="34" height="28.5" fill="none" stroke="#000" stroke-width="5.5"/>
<g class="b" font-size="56">
<text x="237" y="867.5">(0 h)</text>
<text x="241" y="1094.0">(1 h)</text>
<text x="234" y="1271.0">(2 h)</text>
<text x="237" y="1417.0">(4 h)</text>
<text x="236" y="1560.0">(6 h)</text>
<text x="237" y="1720.0">(8 h)</text>
</g>
<line x1="1119.7" y1="115" x2="1119.7" y2="524" stroke="#808080" stroke-width="4.2"/>
<line x1="1118" y1="116.2" x2="1938" y2="116.2" stroke="#d6d6d6" stroke-width="2.2"/>
<line x1="1937" y1="115" x2="1937" y2="524" stroke="#d6d6d6" stroke-width="2.2"/>
<line x1="1118" y1="522.5" x2="1938" y2="522.5" stroke="#333" stroke-width="2.8"/>
<path d="M1119.4 488.5 L1264.6 486.5 L1312.3 484.5 L1360.0 471.0 L1407.8 456.0 L1503.3 152.0 L1598.7 453.0 L1646.5 474.0 L1694.2 482.0 L1742.0 488.0 L1937.2 488.5 Z" fill="#fbefe6" stroke="none"/>
<path d="M1119.4 488.5 L1264.6 486.5 L1312.3 484.5 L1360.0 472.0 L1407.8 457.0 L1503.3 167.0 L1598.7 455.0 L1646.5 475.0 L1694.2 483.0 L1742.0 488.0 L1937.2 488.5 Z" fill="#f9f6dc" stroke="none"/>
<path d="M1119.4 488.5 L1264.6 486.5 L1312.3 484.5 L1360.0 474.0 L1407.8 459.0 L1503.3 189.0 L1598.7 457.0 L1646.5 477.0 L1694.2 484.0 L1742.0 488.0 L1937.2 488.5 Z" fill="#eef8e0" stroke="none"/>
<path d="M1119.4 488.5 L1264.6 486.5 L1312.3 484.5 L1360.0 477.0 L1407.8 462.0 L1503.3 214.0 L1598.7 460.0 L1646.5 479.0 L1694.2 485.0 L1742.0 488.0 L1937.2 488.5 Z" fill="#e8f8f2" stroke="none"/>
<path d="M1119.4 488.5 L1264.6 486.5 L1312.3 484.5 L1360.0 481.0 L1407.8 467.0 L1503.3 264.0 L1598.7 464.0 L1646.5 482.0 L1694.2 486.0 L1742.0 488.0 L1937.2 488.5 Z" fill="#ffffff" stroke="none"/>
<path d="M1119.4 488.5 L1264.6 486.5 L1312.3 484.5 L1360.0 483.0 L1407.8 469.0 L1503.3 277.0 L1598.7 466.0 L1646.5 484.0 L1694.2 487.0 L1742.0 488.0 L1937.2 488.5" fill="none" stroke="#8790b2" stroke-width="3.7" stroke-linejoin="round"/>
<path d="M1119.4 488.5 L1264.6 486.5 L1312.3 484.5 L1360.0 481.0 L1407.8 467.0 L1503.3 264.0 L1598.7 464.0 L1646.5 482.0 L1694.2 486.0 L1742.0 488.0 L1937.2 488.5" fill="none" stroke="#6f97a3" stroke-width="3.7" stroke-linejoin="round"/>
<path d="M1119.4 488.5 L1264.6 486.5 L1312.3 484.5 L1360.0 477.0 L1407.8 462.0 L1503.3 214.0 L1598.7 460.0 L1646.5 479.0 L1694.2 485.0 L1742.0 488.0 L1937.2 488.5" fill="none" stroke="#b5dfbf" stroke-width="4.6" stroke-linejoin="round"/>
<path d="M1119.4 488.5 L1264.6 486.5 L1312.3 484.5 L1360.0 474.0 L1407.8 459.0 L1503.3 189.0 L1598.7 457.0 L1646.5 477.0 L1694.2 484.0 L1742.0 488.0 L1937.2 488.5" fill="none" stroke="#dfe6a6" stroke-width="4.6" stroke-linejoin="round"/>
<path d="M1119.4 488.5 L1264.6 486.5 L1312.3 484.5 L1360.0 472.0 L1407.8 457.0 L1503.3 167.0 L1598.7 455.0 L1646.5 475.0 L1694.2 483.0 L1742.0 488.0 L1937.2 488.5" fill="none" stroke="#dcc9a0" stroke-width="4.6" stroke-linejoin="round"/>
<path d="M1119.4 488.5 L1264.6 486.5 L1312.3 484.5 L1360.0 471.0 L1407.8 456.0 L1503.3 152.0 L1598.7 453.0 L1646.5 474.0 L1694.2 482.0 L1742.0 488.0 L1937.2 488.5" fill="none" stroke="#a98f82" stroke-width="3.7" stroke-linejoin="round"/>
<g stroke="#444" stroke-width="2.6">
<line x1="1135.7" y1="523" x2="1135.7" y2="529"/>
<line x1="1183.4" y1="523" x2="1183.4" y2="536"/>
<line x1="1231.1" y1="523" x2="1231.1" y2="529"/>
<line x1="1278.9" y1="523" x2="1278.9" y2="536"/>
<line x1="1326.6" y1="523" x2="1326.6" y2="529"/>
<line x1="1374.4" y1="523" x2="1374.4" y2="536"/>
<line x1="1422.1" y1="523" x2="1422.1" y2="529"/>
<line x1="1469.8" y1="523" x2="1469.8" y2="536"/>
<line x1="1517.6" y1="523" x2="1517.6" y2="529"/>
<line x1="1565.3" y1="523" x2="1565.3" y2="536"/>
<line x1="1613.1" y1="523" x2="1613.1" y2="529"/>
<line x1="1660.8" y1="523" x2="1660.8" y2="536"/>
<line x1="1708.5" y1="523" x2="1708.5" y2="529"/>
<line x1="1756.3" y1="523" x2="1756.3" y2="536"/>
<line x1="1804.0" y1="523" x2="1804.0" y2="529"/>
<line x1="1851.8" y1="523" x2="1851.8" y2="536"/>
<line x1="1899.5" y1="523" x2="1899.5" y2="529"/>
</g>
<g class="b" font-size="31" text-anchor="middle" fill="#2a2a2a" style="fill:#2a2a2a">
<text x="1183.4" y="568.5">37.8</text>
<text x="1278.9" y="568.5">38.0</text>
<text x="1374.4" y="568.5">38.2</text>
<text x="1469.8" y="568.5">38.4</text>
<text x="1565.3" y="568.5">38.6</text>
<text x="1660.8" y="568.5">38.8</text>
<text x="1756.3" y="568.5">39.0</text>
<text x="1851.8" y="568.5">39.2</text>
</g>
<text class="b" x="1495" y="608.5" font-size="35" style="fill:#222">2</text>
<text class="s" x="1525" y="608.5" font-size="34" fill="#444">&#952;&#176;</text>
<text class="b" font-size="37.3" text-anchor="middle" style="fill:#1a1a1a" transform="translate(1086.5,319) rotate(-90)">Intensity, (a. u.)</text>
<text class="r" x="1141" y="154.8" font-size="25.5" fill="#222" style="font-weight:bold" textLength="122" lengthAdjust="spacingAndGlyphs">Al-5Fe40Al</text>
<text class="r" x="1504.5" y="142" font-size="19" fill="#777" text-anchor="middle" letter-spacing="0.8">(111)</text>
<line x1="1731" y1="169.3" x2="1776" y2="169.3" stroke="#9a98ac" stroke-width="3.5"/>
<text class="r" x="1791" y="172.9" font-size="18" fill="#888" letter-spacing="1.6">0 h</text>
<line x1="1731" y1="195.7" x2="1776" y2="195.7" stroke="#a9bac6" stroke-width="3.5"/>
<text class="r" x="1791" y="199.3" font-size="18" fill="#888" letter-spacing="1.6">1 h</text>
<line x1="1731" y1="222.1" x2="1776" y2="222.1" stroke="#b7d6d2" stroke-width="3.5"/>
<text class="r" x="1791" y="225.7" font-size="18" fill="#888" letter-spacing="1.6">2 h</text>
<line x1="1731" y1="248.5" x2="1776" y2="248.5" stroke="#dde4c8" stroke-width="3.5"/>
<text class="r" x="1791" y="252.1" font-size="18" fill="#888" letter-spacing="1.6">4 h</text>
<line x1="1731" y1="274.9" x2="1776" y2="274.9" stroke="#d9d4b8" stroke-width="3.5"/>
<text class="r" x="1791" y="278.5" font-size="18" fill="#888" letter-spacing="1.6">6 h</text>
<line x1="1731" y1="301.3" x2="1776" y2="301.3" stroke="#c9aeb8" stroke-width="3.5"/>
<text class="r" x="1791" y="304.9" font-size="18" fill="#888" letter-spacing="1.6">8 h</text>
</g>
</svg></body></html>
